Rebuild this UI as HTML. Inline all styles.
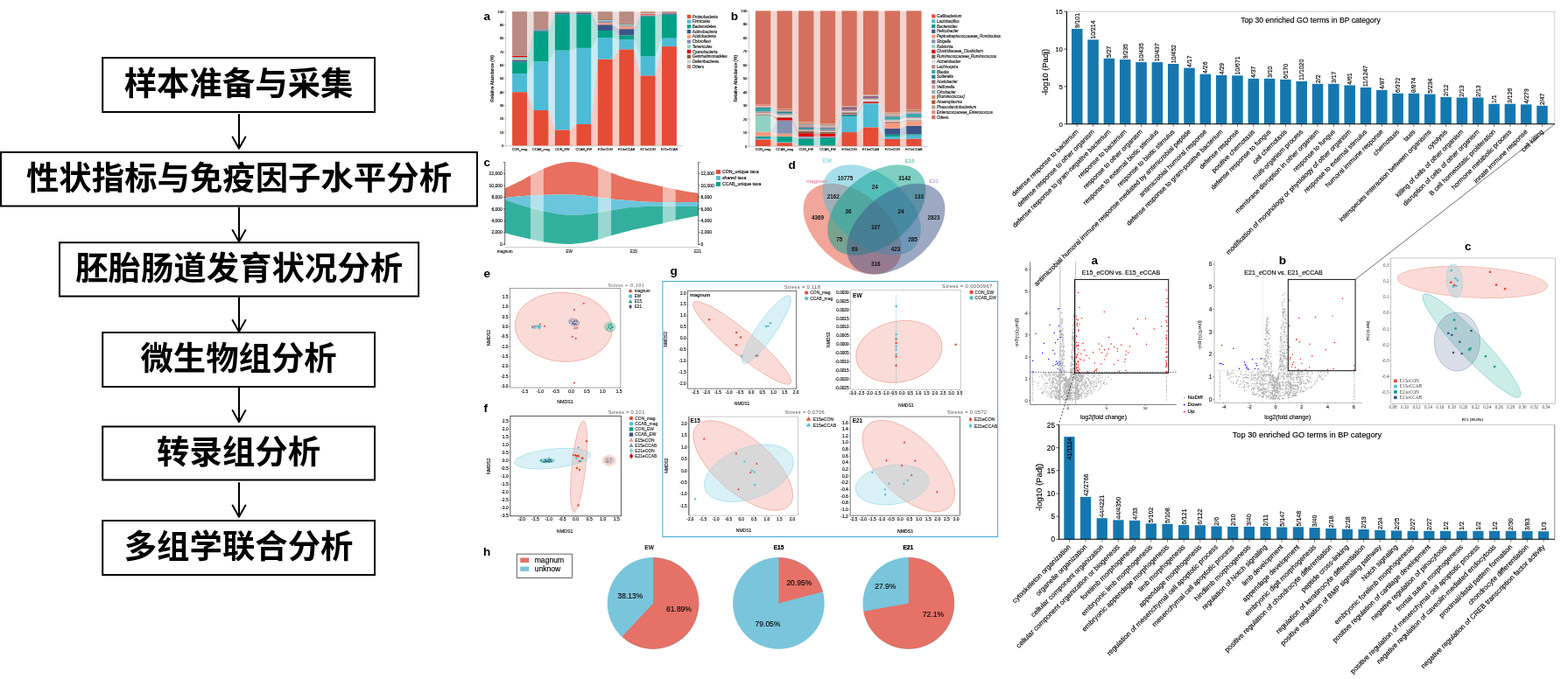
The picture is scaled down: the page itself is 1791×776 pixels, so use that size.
<!DOCTYPE html>
<html lang="zh"><head><meta charset="utf-8"><title>Figure</title>
<style>
html,body{margin:0;padding:0;background:#fff;}
body{width:1791px;height:776px;overflow:hidden;font-family:"Liberation Sans","Noto Sans CJK SC",sans-serif;}
svg{display:block;position:absolute;left:0;top:0;font-family:"Liberation Sans","Noto Sans CJK SC",sans-serif;}
</style></head><body>
<svg width="1791" height="776" viewBox="0 0 1791 776">
<g id="flow" font-family="'Liberation Sans','Noto Sans CJK SC',sans-serif" font-weight="bold" font-size="37.4" text-anchor="middle">
<rect x="117.2" y="66.0" width="310.8" height="62.0" fill="#fff" stroke="#000" stroke-width="2"/>
<text x="272.6" y="108.9">样本准备与采集</text>
<path d="M273 131.0V169.7M265.6 156.6L273 169.7L280.4 156.6" fill="none" stroke="#000" stroke-width="2" stroke-linecap="round" stroke-linejoin="round"/>
<rect x="1.0" y="174.0" width="544.0" height="61.5" fill="#fff" stroke="#000" stroke-width="2"/>
<text x="273.0" y="216.7">性状指标与免疫因子水平分析</text>
<path d="M273 237.4V276.1M265.6 263.0L273 276.1L280.4 263.0" fill="none" stroke="#000" stroke-width="2" stroke-linecap="round" stroke-linejoin="round"/>
<rect x="68.0" y="277.2" width="410.1" height="61.4" fill="#fff" stroke="#000" stroke-width="2"/>
<text x="273.1" y="319.8">胚胎肠道发育状况分析</text>
<path d="M273 340.3V379.0M265.6 365.9L273 379.0L280.4 365.9" fill="none" stroke="#000" stroke-width="2" stroke-linecap="round" stroke-linejoin="round"/>
<rect x="117.2" y="380.0" width="310.8" height="62.0" fill="#fff" stroke="#000" stroke-width="2"/>
<text x="272.6" y="422.9">微生物组分析</text>
<path d="M273 443.5V482.2M265.6 469.1L273 482.2L280.4 469.1" fill="none" stroke="#000" stroke-width="2" stroke-linecap="round" stroke-linejoin="round"/>
<rect x="117.2" y="487.5" width="310.8" height="61.0" fill="#fff" stroke="#000" stroke-width="2"/>
<text x="272.6" y="529.9">转录组分析</text>
<path d="M273 552.0V590.7M265.6 577.6L273 590.7L280.4 577.6" fill="none" stroke="#000" stroke-width="2" stroke-linecap="round" stroke-linejoin="round"/>
<rect x="117.2" y="595.0" width="310.8" height="62.0" fill="#fff" stroke="#000" stroke-width="2"/>
<text x="272.6" y="637.9">多组学联合分析</text>
</g>
<g id="pa">
<path d="M602.0 166.5L609.5 166.5V126.0L602.0 105.2Z" fill="#E64B35" fill-opacity="0.3"/>
<path d="M602.0 105.2L609.5 126.0V70.2L602.0 84.2Z" fill="#4DBBD5" fill-opacity="0.3"/>
<path d="M602.0 84.2L609.5 70.2V35.4L602.0 70.5Z" fill="#00A087" fill-opacity="0.3"/>
<path d="M602.0 70.5L609.5 35.4V34.4L602.0 68.5Z" fill="#3C5488" fill-opacity="0.3"/>
<path d="M602.0 68.5L609.5 34.4V34.0L602.0 67.9Z" fill="#F39B7F" fill-opacity="0.3"/>
<path d="M602.0 67.9L609.5 34.0V33.1L602.0 67.6Z" fill="#8491B4" fill-opacity="0.3"/>
<path d="M602.0 67.6L609.5 33.1V33.1L602.0 65.3Z" fill="#91D1C2" fill-opacity="0.3"/>
<path d="M602.0 65.3L609.5 33.1V33.1L602.0 63.9Z" fill="#DC0000" fill-opacity="0.3"/>
<path d="M602.0 63.9L609.5 33.1V33.1L602.0 63.6Z" fill="#7E6148" fill-opacity="0.3"/>
<path d="M602.0 63.6L609.5 33.1V13.2L602.0 13.2Z" fill="#BA8B82" fill-opacity="0.3"/>
<path d="M626.4 166.5L633.9 166.5V148.4L626.4 126.0Z" fill="#E64B35" fill-opacity="0.3"/>
<path d="M626.4 126.0L633.9 148.4V57.7L626.4 70.2Z" fill="#4DBBD5" fill-opacity="0.3"/>
<path d="M626.4 70.2L633.9 57.7V16.3L626.4 35.4Z" fill="#00A087" fill-opacity="0.3"/>
<path d="M626.4 35.4L633.9 16.3V14.7L626.4 34.4Z" fill="#3C5488" fill-opacity="0.3"/>
<path d="M626.4 34.4L633.9 14.7V14.7L626.4 34.0Z" fill="#F39B7F" fill-opacity="0.3"/>
<path d="M626.4 34.0L633.9 14.7V14.7L626.4 33.1Z" fill="#8491B4" fill-opacity="0.3"/>
<path d="M626.4 33.1L633.9 14.7V13.2L626.4 13.2Z" fill="#BA8B82" fill-opacity="0.3"/>
<path d="M650.8 166.5L658.4 166.5V142.0L650.8 148.4Z" fill="#E64B35" fill-opacity="0.3"/>
<path d="M650.8 148.4L658.4 142.0V54.9L650.8 57.7Z" fill="#4DBBD5" fill-opacity="0.3"/>
<path d="M650.8 57.7L658.4 54.9V16.3L650.8 16.3Z" fill="#00A087" fill-opacity="0.3"/>
<path d="M650.8 16.3L658.4 16.3V14.7L650.8 14.7Z" fill="#3C5488" fill-opacity="0.3"/>
<path d="M650.8 14.7L658.4 14.7V13.2L650.8 13.2Z" fill="#BA8B82" fill-opacity="0.3"/>
<path d="M675.3 166.5L682.8 166.5V67.6L675.3 142.0Z" fill="#E64B35" fill-opacity="0.3"/>
<path d="M675.3 142.0L682.8 67.6V43.1L675.3 54.9Z" fill="#4DBBD5" fill-opacity="0.3"/>
<path d="M675.3 54.9L682.8 43.1V35.0L675.3 16.3Z" fill="#00A087" fill-opacity="0.3"/>
<path d="M675.3 16.3L682.8 35.0V28.2L675.3 14.7Z" fill="#3C5488" fill-opacity="0.3"/>
<path d="M675.3 14.7L682.8 28.2V26.1L675.3 14.7Z" fill="#F39B7F" fill-opacity="0.3"/>
<path d="M675.3 14.7L682.8 26.1V24.1L675.3 14.7Z" fill="#8491B4" fill-opacity="0.3"/>
<path d="M675.3 14.7L682.8 24.1V23.0L675.3 14.7Z" fill="#91D1C2" fill-opacity="0.3"/>
<path d="M675.3 14.7L682.8 23.0V22.9L675.3 14.7Z" fill="#DC0000" fill-opacity="0.3"/>
<path d="M675.3 14.7L682.8 22.9V22.1L675.3 14.7Z" fill="#7E6148" fill-opacity="0.3"/>
<path d="M675.3 14.7L682.8 22.1V13.2L675.3 13.2Z" fill="#BA8B82" fill-opacity="0.3"/>
<path d="M699.7 166.5L707.2 166.5V56.3L699.7 67.6Z" fill="#E64B35" fill-opacity="0.3"/>
<path d="M699.7 67.6L707.2 56.3V45.2L699.7 43.1Z" fill="#4DBBD5" fill-opacity="0.3"/>
<path d="M699.7 43.1L707.2 45.2V40.5L699.7 35.0Z" fill="#00A087" fill-opacity="0.3"/>
<path d="M699.7 35.0L707.2 40.5V33.1L699.7 28.2Z" fill="#3C5488" fill-opacity="0.3"/>
<path d="M699.7 28.2L707.2 33.1V29.9L699.7 26.1Z" fill="#F39B7F" fill-opacity="0.3"/>
<path d="M699.7 26.1L707.2 29.9V28.8L699.7 24.1Z" fill="#8491B4" fill-opacity="0.3"/>
<path d="M699.7 24.1L707.2 28.8V27.9L699.7 23.0Z" fill="#91D1C2" fill-opacity="0.3"/>
<path d="M699.7 23.0L707.2 27.9V27.8L699.7 22.9Z" fill="#DC0000" fill-opacity="0.3"/>
<path d="M699.7 22.9L707.2 27.8V26.8L699.7 22.1Z" fill="#7E6148" fill-opacity="0.3"/>
<path d="M699.7 22.1L707.2 26.8V13.2L699.7 13.2Z" fill="#BA8B82" fill-opacity="0.3"/>
<path d="M724.1 166.5L731.6 166.5V86.3L724.1 56.3Z" fill="#E64B35" fill-opacity="0.3"/>
<path d="M724.1 56.3L731.6 86.3V64.4L724.1 45.2Z" fill="#4DBBD5" fill-opacity="0.3"/>
<path d="M724.1 45.2L731.6 64.4V18.6L724.1 40.5Z" fill="#00A087" fill-opacity="0.3"/>
<path d="M724.1 40.5L731.6 18.6V17.5L724.1 33.1Z" fill="#3C5488" fill-opacity="0.3"/>
<path d="M724.1 33.1L731.6 17.5V16.6L724.1 29.9Z" fill="#F39B7F" fill-opacity="0.3"/>
<path d="M724.1 29.9L731.6 16.6V16.6L724.1 28.8Z" fill="#8491B4" fill-opacity="0.3"/>
<path d="M724.1 28.8L731.6 16.6V16.6L724.1 27.9Z" fill="#91D1C2" fill-opacity="0.3"/>
<path d="M724.1 27.9L731.6 16.6V16.0L724.1 27.8Z" fill="#DC0000" fill-opacity="0.3"/>
<path d="M724.1 27.8L731.6 16.0V16.0L724.1 26.8Z" fill="#7E6148" fill-opacity="0.3"/>
<path d="M724.1 26.8L731.6 16.0V15.2L724.1 26.8Z" fill="#CCCCCC" fill-opacity="0.3"/>
<path d="M724.1 26.8L731.6 15.2V13.2L724.1 13.2Z" fill="#BA8B82" fill-opacity="0.3"/>
<path d="M748.5 166.5L756.0 166.5V53.1L748.5 86.3Z" fill="#E64B35" fill-opacity="0.3"/>
<path d="M748.5 86.3L756.0 53.1V43.7L748.5 64.4Z" fill="#4DBBD5" fill-opacity="0.3"/>
<path d="M748.5 64.4L756.0 43.7V16.7L748.5 18.6Z" fill="#00A087" fill-opacity="0.3"/>
<path d="M748.5 18.6L756.0 16.7V15.3L748.5 17.5Z" fill="#3C5488" fill-opacity="0.3"/>
<path d="M748.5 17.5L756.0 15.3V15.3L748.5 16.6Z" fill="#F39B7F" fill-opacity="0.3"/>
<path d="M748.5 16.6L756.0 15.3V15.3L748.5 16.0Z" fill="#DC0000" fill-opacity="0.3"/>
<path d="M748.5 16.0L756.0 15.3V15.3L748.5 15.2Z" fill="#CCCCCC" fill-opacity="0.3"/>
<path d="M748.5 15.2L756.0 15.3V13.2L748.5 13.2Z" fill="#BA8B82" fill-opacity="0.3"/>
<rect x="585.1" y="105.18" width="16.9" height="61.32" fill="#E64B35"/>
<rect x="585.1" y="84.18" width="16.9" height="21.00" fill="#4DBBD5"/>
<rect x="585.1" y="70.53" width="16.9" height="13.64" fill="#00A087"/>
<rect x="585.1" y="68.54" width="16.9" height="1.99" fill="#3C5488"/>
<rect x="585.1" y="67.93" width="16.9" height="0.61" fill="#F39B7F"/>
<rect x="585.1" y="67.62" width="16.9" height="0.31" fill="#8491B4"/>
<rect x="585.1" y="65.32" width="16.9" height="2.30" fill="#91D1C2"/>
<rect x="585.1" y="63.94" width="16.9" height="1.38" fill="#DC0000"/>
<rect x="585.1" y="63.64" width="16.9" height="0.31" fill="#7E6148"/>
<rect x="585.1" y="13.20" width="16.9" height="50.44" fill="#BA8B82"/>
<rect x="609.5" y="126.03" width="16.9" height="40.47" fill="#E64B35"/>
<rect x="609.5" y="70.23" width="16.9" height="55.80" fill="#4DBBD5"/>
<rect x="609.5" y="35.43" width="16.9" height="34.80" fill="#00A087"/>
<rect x="609.5" y="34.36" width="16.9" height="1.07" fill="#3C5488"/>
<rect x="609.5" y="34.05" width="16.9" height="0.31" fill="#F39B7F"/>
<rect x="609.5" y="33.13" width="16.9" height="0.92" fill="#8491B4"/>
<rect x="609.5" y="13.20" width="16.9" height="19.93" fill="#BA8B82"/>
<rect x="633.9" y="148.41" width="16.9" height="18.09" fill="#E64B35"/>
<rect x="633.9" y="57.66" width="16.9" height="90.75" fill="#4DBBD5"/>
<rect x="633.9" y="16.27" width="16.9" height="41.39" fill="#00A087"/>
<rect x="633.9" y="14.73" width="16.9" height="1.53" fill="#3C5488"/>
<rect x="633.9" y="13.20" width="16.9" height="1.53" fill="#BA8B82"/>
<rect x="658.4" y="141.97" width="16.9" height="24.53" fill="#E64B35"/>
<rect x="658.4" y="54.90" width="16.9" height="87.07" fill="#4DBBD5"/>
<rect x="658.4" y="16.27" width="16.9" height="38.63" fill="#00A087"/>
<rect x="658.4" y="14.73" width="16.9" height="1.53" fill="#3C5488"/>
<rect x="658.4" y="13.20" width="16.9" height="1.53" fill="#BA8B82"/>
<rect x="682.8" y="67.62" width="16.9" height="98.88" fill="#E64B35"/>
<rect x="682.8" y="43.09" width="16.9" height="24.53" fill="#4DBBD5"/>
<rect x="682.8" y="34.97" width="16.9" height="8.12" fill="#00A087"/>
<rect x="682.8" y="28.22" width="16.9" height="6.75" fill="#3C5488"/>
<rect x="682.8" y="26.08" width="16.9" height="2.15" fill="#F39B7F"/>
<rect x="682.8" y="24.08" width="16.9" height="1.99" fill="#8491B4"/>
<rect x="682.8" y="23.01" width="16.9" height="1.07" fill="#91D1C2"/>
<rect x="682.8" y="22.86" width="16.9" height="0.15" fill="#DC0000"/>
<rect x="682.8" y="22.09" width="16.9" height="0.77" fill="#7E6148"/>
<rect x="682.8" y="13.20" width="16.9" height="8.89" fill="#BA8B82"/>
<rect x="707.2" y="56.28" width="16.9" height="110.22" fill="#E64B35"/>
<rect x="707.2" y="45.24" width="16.9" height="11.04" fill="#4DBBD5"/>
<rect x="707.2" y="40.49" width="16.9" height="4.75" fill="#00A087"/>
<rect x="707.2" y="33.13" width="16.9" height="7.36" fill="#3C5488"/>
<rect x="707.2" y="29.91" width="16.9" height="3.22" fill="#F39B7F"/>
<rect x="707.2" y="28.84" width="16.9" height="1.07" fill="#8491B4"/>
<rect x="707.2" y="27.92" width="16.9" height="0.92" fill="#91D1C2"/>
<rect x="707.2" y="27.76" width="16.9" height="0.15" fill="#DC0000"/>
<rect x="707.2" y="26.84" width="16.9" height="0.92" fill="#7E6148"/>
<rect x="707.2" y="13.20" width="16.9" height="13.64" fill="#BA8B82"/>
<rect x="731.6" y="86.32" width="16.9" height="80.18" fill="#E64B35"/>
<rect x="731.6" y="64.40" width="16.9" height="21.92" fill="#4DBBD5"/>
<rect x="731.6" y="18.57" width="16.9" height="45.84" fill="#00A087"/>
<rect x="731.6" y="17.49" width="16.9" height="1.07" fill="#3C5488"/>
<rect x="731.6" y="16.57" width="16.9" height="0.92" fill="#F39B7F"/>
<rect x="731.6" y="15.96" width="16.9" height="0.61" fill="#DC0000"/>
<rect x="731.6" y="15.19" width="16.9" height="0.77" fill="#CCCCCC"/>
<rect x="731.6" y="13.20" width="16.9" height="1.99" fill="#BA8B82"/>
<rect x="756.0" y="53.06" width="16.9" height="113.44" fill="#E64B35"/>
<rect x="756.0" y="43.71" width="16.9" height="9.35" fill="#4DBBD5"/>
<rect x="756.0" y="16.73" width="16.9" height="26.98" fill="#00A087"/>
<rect x="756.0" y="15.35" width="16.9" height="1.38" fill="#3C5488"/>
<rect x="756.0" y="13.20" width="16.9" height="2.15" fill="#BA8B82"/>
<path d="M577.6 13.2V166.8H780.5" fill="none" stroke="#999" stroke-width="0.5"/>
<path d="M576.4 166.50H577.6" stroke="#666" stroke-width="0.4"/>
<text x="575.4" y="168.0" font-size="4.2" text-anchor="end" stroke="#000" stroke-width="0.14">0</text>
<path d="M576.4 151.17H577.6" stroke="#666" stroke-width="0.4"/>
<text x="575.4" y="152.7" font-size="4.2" text-anchor="end" stroke="#000" stroke-width="0.14">10</text>
<path d="M576.4 135.84H577.6" stroke="#666" stroke-width="0.4"/>
<text x="575.4" y="137.3" font-size="4.2" text-anchor="end" stroke="#000" stroke-width="0.14">20</text>
<path d="M576.4 120.51H577.6" stroke="#666" stroke-width="0.4"/>
<text x="575.4" y="122.0" font-size="4.2" text-anchor="end" stroke="#000" stroke-width="0.14">30</text>
<path d="M576.4 105.18H577.6" stroke="#666" stroke-width="0.4"/>
<text x="575.4" y="106.7" font-size="4.2" text-anchor="end" stroke="#000" stroke-width="0.14">40</text>
<path d="M576.4 89.85H577.6" stroke="#666" stroke-width="0.4"/>
<text x="575.4" y="91.3" font-size="4.2" text-anchor="end" stroke="#000" stroke-width="0.14">50</text>
<path d="M576.4 74.52H577.6" stroke="#666" stroke-width="0.4"/>
<text x="575.4" y="76.0" font-size="4.2" text-anchor="end" stroke="#000" stroke-width="0.14">60</text>
<path d="M576.4 59.19H577.6" stroke="#666" stroke-width="0.4"/>
<text x="575.4" y="60.7" font-size="4.2" text-anchor="end" stroke="#000" stroke-width="0.14">70</text>
<path d="M576.4 43.86H577.6" stroke="#666" stroke-width="0.4"/>
<text x="575.4" y="45.4" font-size="4.2" text-anchor="end" stroke="#000" stroke-width="0.14">80</text>
<path d="M576.4 28.53H577.6" stroke="#666" stroke-width="0.4"/>
<text x="575.4" y="30.0" font-size="4.2" text-anchor="end" stroke="#000" stroke-width="0.14">90</text>
<path d="M576.4 13.20H577.6" stroke="#666" stroke-width="0.4"/>
<text x="575.4" y="14.7" font-size="4.2" text-anchor="end" stroke="#000" stroke-width="0.14">100</text>
<text x="593.6" y="171.7" font-size="3.75" text-anchor="middle" stroke="#000" stroke-width="0.14">CON_mag</text>
<text x="618.0" y="171.7" font-size="3.75" text-anchor="middle" stroke="#000" stroke-width="0.14">CCAB_mag</text>
<text x="642.4" y="171.7" font-size="3.75" text-anchor="middle" stroke="#000" stroke-width="0.14">CON_EW</text>
<text x="666.8" y="171.7" font-size="3.75" text-anchor="middle" stroke="#000" stroke-width="0.14">CCAB_EW</text>
<text x="691.2" y="171.7" font-size="3.75" text-anchor="middle" stroke="#000" stroke-width="0.14">E15eCON</text>
<text x="715.7" y="171.7" font-size="3.75" text-anchor="middle" stroke="#000" stroke-width="0.14">E15eCCAB</text>
<text x="740.1" y="171.7" font-size="3.75" text-anchor="middle" stroke="#000" stroke-width="0.14">E21eCON</text>
<text x="764.5" y="171.7" font-size="3.75" text-anchor="middle" stroke="#000" stroke-width="0.14">E21eCCAB</text>
<text x="564.0" y="89.8" font-size="5.0" text-anchor="middle" transform="rotate(-90 564.0 89.8)" stroke="#000" stroke-width="0.14">Relative Abundance (%)</text>
<rect x="784.8" y="16.80" width="4.3" height="4.3" fill="#E64B35"/>
<text x="790.7" y="20.5" font-size="4.47" fill="#111" font-style="italic" stroke="#111" stroke-width="0.14">Proteobacteria</text>
<rect x="784.8" y="22.52" width="4.3" height="4.3" fill="#4DBBD5"/>
<text x="790.7" y="26.2" font-size="4.47" fill="#111" font-style="italic" stroke="#111" stroke-width="0.14">Firmicutes</text>
<rect x="784.8" y="28.24" width="4.3" height="4.3" fill="#00A087"/>
<text x="790.7" y="31.9" font-size="4.47" fill="#111" font-style="italic" stroke="#111" stroke-width="0.14">Bacteroidetes</text>
<rect x="784.8" y="33.96" width="4.3" height="4.3" fill="#3C5488"/>
<text x="790.7" y="37.7" font-size="4.47" fill="#111" font-style="italic" stroke="#111" stroke-width="0.14">Actinobacteria</text>
<rect x="784.8" y="39.68" width="4.3" height="4.3" fill="#F39B7F"/>
<text x="790.7" y="43.4" font-size="4.47" fill="#111" font-style="italic" stroke="#111" stroke-width="0.14">Acidobacteria</text>
<rect x="784.8" y="45.40" width="4.3" height="4.3" fill="#8491B4"/>
<text x="790.7" y="49.1" font-size="4.47" fill="#111" font-style="italic" stroke="#111" stroke-width="0.14">Chloroflexi</text>
<rect x="784.8" y="51.12" width="4.3" height="4.3" fill="#91D1C2"/>
<text x="790.7" y="54.8" font-size="4.47" fill="#111" font-style="italic" stroke="#111" stroke-width="0.14">Tenericutes</text>
<rect x="784.8" y="56.84" width="4.3" height="4.3" fill="#DC0000"/>
<text x="790.7" y="60.5" font-size="4.47" fill="#111" font-style="italic" stroke="#111" stroke-width="0.14">Cyanobacteria</text>
<rect x="784.8" y="62.56" width="4.3" height="4.3" fill="#7E6148"/>
<text x="790.7" y="66.3" font-size="4.47" fill="#111" font-style="italic" stroke="#111" stroke-width="0.14">Gemmatimonadetes</text>
<rect x="784.8" y="68.28" width="4.3" height="4.3" fill="#CCCCCC"/>
<text x="790.7" y="72.0" font-size="4.47" fill="#111" font-style="italic" stroke="#111" stroke-width="0.14">Deferribacteres</text>
<rect x="784.8" y="74.00" width="4.3" height="4.3" fill="#BA8B82"/>
<text x="790.7" y="77.7" font-size="4.47" fill="#111" stroke="#111" stroke-width="0.14">Others</text>
<text x="552.6" y="22.8" font-size="13.6" font-weight="bold">a</text>
</g>
<g id="pb">
<path d="M880.3 167.0L887.5 167.0V163.1L880.3 159.3Z" fill="#E64B35" fill-opacity="0.3"/>
<path d="M880.3 159.3L887.5 163.1V162.4L880.3 158.0Z" fill="#4DBBD5" fill-opacity="0.3"/>
<path d="M880.3 158.0L887.5 162.4V156.2L880.3 156.2Z" fill="#00A087" fill-opacity="0.3"/>
<path d="M880.3 156.2L887.5 156.2V155.9L880.3 155.7Z" fill="#3C5488" fill-opacity="0.3"/>
<path d="M880.3 155.7L887.5 155.9V152.8L880.3 150.8Z" fill="#F39B7F" fill-opacity="0.3"/>
<path d="M880.3 150.8L887.5 152.8V137.9L880.3 150.6Z" fill="#8491B4" fill-opacity="0.3"/>
<path d="M880.3 150.6L887.5 137.9V137.6L880.3 131.8Z" fill="#91D1C2" fill-opacity="0.3"/>
<path d="M880.3 131.8L887.5 137.6V134.5L880.3 131.4Z" fill="#DC0000" fill-opacity="0.3"/>
<path d="M880.3 131.4L887.5 134.5V133.6L880.3 130.5Z" fill="#7E6148" fill-opacity="0.3"/>
<path d="M880.3 130.5L887.5 133.6V131.4L880.3 129.4Z" fill="#D9D9D9" fill-opacity="0.3"/>
<path d="M880.3 129.4L887.5 131.4V130.2L880.3 127.4Z" fill="#B98C86" fill-opacity="0.3"/>
<path d="M880.3 127.4L887.5 130.2V129.6L880.3 124.0Z" fill="#33A6A6" fill-opacity="0.3"/>
<path d="M880.3 124.0L887.5 129.6V127.6L880.3 123.1Z" fill="#2E7D8C" fill-opacity="0.3"/>
<path d="M880.3 123.1L887.5 127.6V127.1L880.3 122.8Z" fill="#94607C" fill-opacity="0.3"/>
<path d="M880.3 122.8L887.5 127.1V126.8L880.3 122.5Z" fill="#C29AA0" fill-opacity="0.3"/>
<path d="M880.3 122.5L887.5 126.8V126.5L880.3 122.2Z" fill="#8AAFC0" fill-opacity="0.3"/>
<path d="M880.3 122.2L887.5 126.5V126.0L880.3 121.9Z" fill="#D98C66" fill-opacity="0.3"/>
<path d="M880.3 121.9L887.5 126.0V125.3L880.3 121.7Z" fill="#A8532F" fill-opacity="0.3"/>
<path d="M880.3 121.7L887.5 125.3V124.9L880.3 121.5Z" fill="#B0A090" fill-opacity="0.3"/>
<path d="M880.3 121.5L887.5 124.9V124.6L880.3 119.1Z" fill="#E8907E" fill-opacity="0.3"/>
<path d="M880.3 119.1L887.5 124.6V12.4L880.3 12.4Z" fill="#D4705D" fill-opacity="0.3"/>
<path d="M904.9 167.0L912.1 167.0V166.5L904.9 163.1Z" fill="#E64B35" fill-opacity="0.3"/>
<path d="M904.9 163.1L912.1 166.5V166.1L904.9 162.4Z" fill="#4DBBD5" fill-opacity="0.3"/>
<path d="M904.9 162.4L912.1 166.1V158.5L904.9 156.2Z" fill="#00A087" fill-opacity="0.3"/>
<path d="M904.9 156.2L912.1 158.5V158.0L904.9 155.9Z" fill="#3C5488" fill-opacity="0.3"/>
<path d="M904.9 155.9L912.1 158.0V157.7L904.9 152.8Z" fill="#F39B7F" fill-opacity="0.3"/>
<path d="M904.9 152.8L912.1 157.7V156.2L904.9 137.9Z" fill="#8491B4" fill-opacity="0.3"/>
<path d="M904.9 137.9L912.1 156.2V156.0L904.9 137.6Z" fill="#91D1C2" fill-opacity="0.3"/>
<path d="M904.9 137.6L912.1 156.0V152.2L904.9 134.5Z" fill="#DC0000" fill-opacity="0.3"/>
<path d="M904.9 134.5L912.1 152.2V150.0L904.9 133.6Z" fill="#7E6148" fill-opacity="0.3"/>
<path d="M904.9 133.6L912.1 150.0V149.4L904.9 131.4Z" fill="#D9D9D9" fill-opacity="0.3"/>
<path d="M904.9 131.4L912.1 149.4V148.0L904.9 130.2Z" fill="#B98C86" fill-opacity="0.3"/>
<path d="M904.9 130.2L912.1 148.0V147.2L904.9 129.6Z" fill="#33A6A6" fill-opacity="0.3"/>
<path d="M904.9 129.6L912.1 147.2V145.7L904.9 127.6Z" fill="#2E7D8C" fill-opacity="0.3"/>
<path d="M904.9 127.6L912.1 145.7V145.0L904.9 127.1Z" fill="#94607C" fill-opacity="0.3"/>
<path d="M904.9 127.1L912.1 145.0V143.0L904.9 126.8Z" fill="#C29AA0" fill-opacity="0.3"/>
<path d="M904.9 126.8L912.1 143.0V142.0L904.9 126.5Z" fill="#8AAFC0" fill-opacity="0.3"/>
<path d="M904.9 126.5L912.1 142.0V140.3L904.9 126.0Z" fill="#D98C66" fill-opacity="0.3"/>
<path d="M904.9 126.0L912.1 140.3V139.9L904.9 125.3Z" fill="#A8532F" fill-opacity="0.3"/>
<path d="M904.9 125.3L912.1 139.9V139.6L904.9 124.9Z" fill="#B0A090" fill-opacity="0.3"/>
<path d="M904.9 124.9L912.1 139.6V139.5L904.9 124.6Z" fill="#E8907E" fill-opacity="0.3"/>
<path d="M904.9 124.6L912.1 139.5V12.4L904.9 12.4Z" fill="#D4705D" fill-opacity="0.3"/>
<path d="M929.5 167.0L936.8 167.0V166.5L929.5 166.5Z" fill="#E64B35" fill-opacity="0.3"/>
<path d="M929.5 166.5L936.8 166.5V166.1L929.5 166.1Z" fill="#4DBBD5" fill-opacity="0.3"/>
<path d="M929.5 166.1L936.8 166.1V157.7L929.5 158.5Z" fill="#00A087" fill-opacity="0.3"/>
<path d="M929.5 158.5L936.8 157.7V156.5L929.5 158.0Z" fill="#3C5488" fill-opacity="0.3"/>
<path d="M929.5 158.0L936.8 156.5V156.2L929.5 157.7Z" fill="#F39B7F" fill-opacity="0.3"/>
<path d="M929.5 157.7L936.8 156.2V156.0L929.5 156.2Z" fill="#8491B4" fill-opacity="0.3"/>
<path d="M929.5 156.2L936.8 156.0V155.9L929.5 156.0Z" fill="#91D1C2" fill-opacity="0.3"/>
<path d="M929.5 156.0L936.8 155.9V152.8L929.5 152.2Z" fill="#DC0000" fill-opacity="0.3"/>
<path d="M929.5 152.2L936.8 152.8V150.6L929.5 150.0Z" fill="#7E6148" fill-opacity="0.3"/>
<path d="M929.5 150.0L936.8 150.6V150.0L929.5 149.4Z" fill="#D9D9D9" fill-opacity="0.3"/>
<path d="M929.5 149.4L936.8 150.0V148.4L929.5 148.0Z" fill="#B98C86" fill-opacity="0.3"/>
<path d="M929.5 148.0L936.8 148.4V147.8L929.5 147.2Z" fill="#33A6A6" fill-opacity="0.3"/>
<path d="M929.5 147.2L936.8 147.8V146.6L929.5 145.7Z" fill="#2E7D8C" fill-opacity="0.3"/>
<path d="M929.5 145.7L936.8 146.6V146.0L929.5 145.0Z" fill="#94607C" fill-opacity="0.3"/>
<path d="M929.5 145.0L936.8 146.0V144.6L929.5 143.0Z" fill="#C29AA0" fill-opacity="0.3"/>
<path d="M929.5 143.0L936.8 144.6V143.2L929.5 142.0Z" fill="#8AAFC0" fill-opacity="0.3"/>
<path d="M929.5 142.0L936.8 143.2V142.0L929.5 140.3Z" fill="#D98C66" fill-opacity="0.3"/>
<path d="M929.5 140.3L936.8 142.0V141.6L929.5 139.9Z" fill="#A8532F" fill-opacity="0.3"/>
<path d="M929.5 139.9L936.8 141.6V141.5L929.5 139.6Z" fill="#B0A090" fill-opacity="0.3"/>
<path d="M929.5 139.6L936.8 141.5V141.3L929.5 139.5Z" fill="#E8907E" fill-opacity="0.3"/>
<path d="M929.5 139.5L936.8 141.3V12.4L929.5 12.4Z" fill="#D4705D" fill-opacity="0.3"/>
<path d="M954.2 167.0L961.4 167.0V151.1L954.2 166.5Z" fill="#E64B35" fill-opacity="0.3"/>
<path d="M954.2 166.5L961.4 151.1V133.3L954.2 166.1Z" fill="#4DBBD5" fill-opacity="0.3"/>
<path d="M954.2 166.1L961.4 133.3V131.8L954.2 157.7Z" fill="#00A087" fill-opacity="0.3"/>
<path d="M954.2 157.7L961.4 131.8V131.0L954.2 156.5Z" fill="#3C5488" fill-opacity="0.3"/>
<path d="M954.2 156.5L961.4 131.0V130.7L954.2 156.2Z" fill="#F39B7F" fill-opacity="0.3"/>
<path d="M954.2 156.2L961.4 130.7V130.5L954.2 156.0Z" fill="#8491B4" fill-opacity="0.3"/>
<path d="M954.2 156.0L961.4 130.5V130.4L954.2 155.9Z" fill="#91D1C2" fill-opacity="0.3"/>
<path d="M954.2 155.9L961.4 130.4V130.1L954.2 152.8Z" fill="#DC0000" fill-opacity="0.3"/>
<path d="M954.2 152.8L961.4 130.1V128.3L954.2 150.6Z" fill="#7E6148" fill-opacity="0.3"/>
<path d="M954.2 150.6L961.4 128.3V127.1L954.2 150.0Z" fill="#D9D9D9" fill-opacity="0.3"/>
<path d="M954.2 150.0L961.4 127.1V125.9L954.2 148.4Z" fill="#B98C86" fill-opacity="0.3"/>
<path d="M954.2 148.4L961.4 125.9V125.7L954.2 147.8Z" fill="#33A6A6" fill-opacity="0.3"/>
<path d="M954.2 147.8L961.4 125.7V125.6L954.2 146.6Z" fill="#2E7D8C" fill-opacity="0.3"/>
<path d="M954.2 146.6L961.4 125.6V122.2L954.2 146.0Z" fill="#94607C" fill-opacity="0.3"/>
<path d="M954.2 146.0L961.4 122.2V122.0L954.2 144.6Z" fill="#C29AA0" fill-opacity="0.3"/>
<path d="M954.2 144.6L961.4 122.0V121.9L954.2 143.2Z" fill="#8AAFC0" fill-opacity="0.3"/>
<path d="M954.2 143.2L961.4 121.9V121.7L954.2 142.0Z" fill="#D98C66" fill-opacity="0.3"/>
<path d="M954.2 142.0L961.4 121.7V121.5L954.2 141.6Z" fill="#A8532F" fill-opacity="0.3"/>
<path d="M954.2 141.6L961.4 121.5V121.4L954.2 141.5Z" fill="#B0A090" fill-opacity="0.3"/>
<path d="M954.2 141.5L961.4 121.4V121.2L954.2 141.3Z" fill="#E8907E" fill-opacity="0.3"/>
<path d="M954.2 141.3L961.4 121.2V12.4L954.2 12.4Z" fill="#D4705D" fill-opacity="0.3"/>
<path d="M978.8 167.0L986.0 167.0V145.4L978.8 151.1Z" fill="#E64B35" fill-opacity="0.3"/>
<path d="M978.8 151.1L986.0 145.4V118.8L978.8 133.3Z" fill="#4DBBD5" fill-opacity="0.3"/>
<path d="M978.8 133.3L986.0 118.8V118.5L978.8 131.8Z" fill="#00A087" fill-opacity="0.3"/>
<path d="M978.8 131.8L986.0 118.5V118.3L978.8 131.0Z" fill="#3C5488" fill-opacity="0.3"/>
<path d="M978.8 131.0L986.0 118.3V118.1L978.8 130.7Z" fill="#F39B7F" fill-opacity="0.3"/>
<path d="M978.8 130.7L986.0 118.1V118.0L978.8 130.5Z" fill="#8491B4" fill-opacity="0.3"/>
<path d="M978.8 130.5L986.0 118.0V117.8L978.8 130.4Z" fill="#91D1C2" fill-opacity="0.3"/>
<path d="M978.8 130.4L986.0 117.8V116.3L978.8 130.1Z" fill="#DC0000" fill-opacity="0.3"/>
<path d="M978.8 130.1L986.0 116.3V115.7L978.8 128.3Z" fill="#7E6148" fill-opacity="0.3"/>
<path d="M978.8 128.3L986.0 115.7V113.7L978.8 127.1Z" fill="#D9D9D9" fill-opacity="0.3"/>
<path d="M978.8 127.1L986.0 113.7V112.9L978.8 125.9Z" fill="#B98C86" fill-opacity="0.3"/>
<path d="M978.8 125.9L986.0 112.9V112.7L978.8 125.7Z" fill="#33A6A6" fill-opacity="0.3"/>
<path d="M978.8 125.7L986.0 112.7V112.6L978.8 125.6Z" fill="#2E7D8C" fill-opacity="0.3"/>
<path d="M978.8 125.6L986.0 112.6V109.8L978.8 122.2Z" fill="#94607C" fill-opacity="0.3"/>
<path d="M978.8 122.2L986.0 109.8V109.5L978.8 122.0Z" fill="#C29AA0" fill-opacity="0.3"/>
<path d="M978.8 122.0L986.0 109.5V108.9L978.8 121.9Z" fill="#8AAFC0" fill-opacity="0.3"/>
<path d="M978.8 121.9L986.0 108.9V108.7L978.8 121.7Z" fill="#D98C66" fill-opacity="0.3"/>
<path d="M978.8 121.7L986.0 108.7V108.6L978.8 121.5Z" fill="#A8532F" fill-opacity="0.3"/>
<path d="M978.8 121.5L986.0 108.6V108.4L978.8 121.4Z" fill="#B0A090" fill-opacity="0.3"/>
<path d="M978.8 121.4L986.0 108.4V108.3L978.8 121.2Z" fill="#E8907E" fill-opacity="0.3"/>
<path d="M978.8 121.2L986.0 108.3V12.4L978.8 12.4Z" fill="#D4705D" fill-opacity="0.3"/>
<path d="M1003.4 167.0L1010.6 167.0V159.0L1003.4 145.4Z" fill="#E64B35" fill-opacity="0.3"/>
<path d="M1003.4 145.4L1010.6 159.0V156.2L1003.4 118.8Z" fill="#4DBBD5" fill-opacity="0.3"/>
<path d="M1003.4 118.8L1010.6 156.2V153.9L1003.4 118.5Z" fill="#00A087" fill-opacity="0.3"/>
<path d="M1003.4 118.5L1010.6 153.9V146.9L1003.4 118.3Z" fill="#3C5488" fill-opacity="0.3"/>
<path d="M1003.4 118.3L1010.6 146.9V140.7L1003.4 118.1Z" fill="#F39B7F" fill-opacity="0.3"/>
<path d="M1003.4 118.1L1010.6 140.7V140.6L1003.4 118.0Z" fill="#8491B4" fill-opacity="0.3"/>
<path d="M1003.4 118.0L1010.6 140.6V140.4L1003.4 117.8Z" fill="#91D1C2" fill-opacity="0.3"/>
<path d="M1003.4 117.8L1010.6 140.4V139.8L1003.4 116.3Z" fill="#DC0000" fill-opacity="0.3"/>
<path d="M1003.4 116.3L1010.6 139.8V139.2L1003.4 115.7Z" fill="#7E6148" fill-opacity="0.3"/>
<path d="M1003.4 115.7L1010.6 139.2V137.6L1003.4 113.7Z" fill="#D9D9D9" fill-opacity="0.3"/>
<path d="M1003.4 113.7L1010.6 137.6V136.7L1003.4 112.9Z" fill="#B98C86" fill-opacity="0.3"/>
<path d="M1003.4 112.9L1010.6 136.7V133.8L1003.4 112.7Z" fill="#33A6A6" fill-opacity="0.3"/>
<path d="M1003.4 112.7L1010.6 133.8V133.3L1003.4 112.6Z" fill="#2E7D8C" fill-opacity="0.3"/>
<path d="M1003.4 112.6L1010.6 133.3V133.0L1003.4 109.8Z" fill="#94607C" fill-opacity="0.3"/>
<path d="M1003.4 109.8L1010.6 133.0V131.4L1003.4 109.5Z" fill="#C29AA0" fill-opacity="0.3"/>
<path d="M1003.4 109.5L1010.6 131.4V130.5L1003.4 108.9Z" fill="#8AAFC0" fill-opacity="0.3"/>
<path d="M1003.4 108.9L1010.6 130.5V129.1L1003.4 108.7Z" fill="#D98C66" fill-opacity="0.3"/>
<path d="M1003.4 108.7L1010.6 129.1V129.0L1003.4 108.6Z" fill="#A8532F" fill-opacity="0.3"/>
<path d="M1003.4 108.6L1010.6 129.0V128.7L1003.4 108.4Z" fill="#B0A090" fill-opacity="0.3"/>
<path d="M1003.4 108.4L1010.6 128.7V128.3L1003.4 108.3Z" fill="#E8907E" fill-opacity="0.3"/>
<path d="M1003.4 108.3L1010.6 128.3V12.4L1003.4 12.4Z" fill="#D4705D" fill-opacity="0.3"/>
<path d="M1028.0 167.0L1035.2 167.0V158.5L1028.0 159.0Z" fill="#E64B35" fill-opacity="0.3"/>
<path d="M1028.0 159.0L1035.2 158.5V154.6L1028.0 156.2Z" fill="#4DBBD5" fill-opacity="0.3"/>
<path d="M1028.0 156.2L1035.2 154.6V153.4L1028.0 153.9Z" fill="#00A087" fill-opacity="0.3"/>
<path d="M1028.0 153.9L1035.2 153.4V143.8L1028.0 146.9Z" fill="#3C5488" fill-opacity="0.3"/>
<path d="M1028.0 146.9L1035.2 143.8V138.4L1028.0 140.7Z" fill="#F39B7F" fill-opacity="0.3"/>
<path d="M1028.0 140.7L1035.2 138.4V138.2L1028.0 140.6Z" fill="#8491B4" fill-opacity="0.3"/>
<path d="M1028.0 140.6L1035.2 138.2V138.1L1028.0 140.4Z" fill="#91D1C2" fill-opacity="0.3"/>
<path d="M1028.0 140.4L1035.2 138.1V137.8L1028.0 139.8Z" fill="#DC0000" fill-opacity="0.3"/>
<path d="M1028.0 139.8L1035.2 137.8V137.3L1028.0 139.2Z" fill="#7E6148" fill-opacity="0.3"/>
<path d="M1028.0 139.2L1035.2 137.3V134.8L1028.0 137.6Z" fill="#D9D9D9" fill-opacity="0.3"/>
<path d="M1028.0 137.6L1035.2 134.8V133.9L1028.0 136.7Z" fill="#B98C86" fill-opacity="0.3"/>
<path d="M1028.0 136.7L1035.2 133.9V130.2L1028.0 133.8Z" fill="#33A6A6" fill-opacity="0.3"/>
<path d="M1028.0 133.8L1035.2 130.2V129.6L1028.0 133.3Z" fill="#2E7D8C" fill-opacity="0.3"/>
<path d="M1028.0 133.3L1035.2 129.6V129.3L1028.0 133.0Z" fill="#94607C" fill-opacity="0.3"/>
<path d="M1028.0 133.0L1035.2 129.3V128.3L1028.0 131.4Z" fill="#C29AA0" fill-opacity="0.3"/>
<path d="M1028.0 131.4L1035.2 128.3V127.7L1028.0 130.5Z" fill="#8AAFC0" fill-opacity="0.3"/>
<path d="M1028.0 130.5L1035.2 127.7V126.8L1028.0 129.1Z" fill="#D98C66" fill-opacity="0.3"/>
<path d="M1028.0 129.1L1035.2 126.8V125.6L1028.0 129.0Z" fill="#A8532F" fill-opacity="0.3"/>
<path d="M1028.0 129.0L1035.2 125.6V125.3L1028.0 128.7Z" fill="#B0A090" fill-opacity="0.3"/>
<path d="M1028.0 128.7L1035.2 125.3V124.9L1028.0 128.3Z" fill="#E8907E" fill-opacity="0.3"/>
<path d="M1028.0 128.3L1035.2 124.9V12.4L1028.0 12.4Z" fill="#D4705D" fill-opacity="0.3"/>
<rect x="862.9" y="159.27" width="17.4" height="7.73" fill="#E64B35"/>
<rect x="862.9" y="158.03" width="17.4" height="1.24" fill="#4DBBD5"/>
<rect x="862.9" y="156.18" width="17.4" height="1.86" fill="#00A087"/>
<rect x="862.9" y="155.71" width="17.4" height="0.46" fill="#3C5488"/>
<rect x="862.9" y="150.77" width="17.4" height="4.95" fill="#F39B7F"/>
<rect x="862.9" y="150.61" width="17.4" height="0.15" fill="#8491B4"/>
<rect x="862.9" y="131.75" width="17.4" height="18.86" fill="#91D1C2"/>
<rect x="862.9" y="131.44" width="17.4" height="0.31" fill="#DC0000"/>
<rect x="862.9" y="130.51" width="17.4" height="0.93" fill="#7E6148"/>
<rect x="862.9" y="129.43" width="17.4" height="1.08" fill="#D9D9D9"/>
<rect x="862.9" y="127.42" width="17.4" height="2.01" fill="#B98C86"/>
<rect x="862.9" y="124.02" width="17.4" height="3.40" fill="#33A6A6"/>
<rect x="862.9" y="123.09" width="17.4" height="0.93" fill="#2E7D8C"/>
<rect x="862.9" y="122.78" width="17.4" height="0.31" fill="#94607C"/>
<rect x="862.9" y="122.48" width="17.4" height="0.31" fill="#C29AA0"/>
<rect x="862.9" y="122.17" width="17.4" height="0.31" fill="#8AAFC0"/>
<rect x="862.9" y="121.86" width="17.4" height="0.31" fill="#D98C66"/>
<rect x="862.9" y="121.70" width="17.4" height="0.15" fill="#A8532F"/>
<rect x="862.9" y="121.55" width="17.4" height="0.15" fill="#B0A090"/>
<rect x="862.9" y="119.07" width="17.4" height="2.47" fill="#E8907E"/>
<rect x="862.9" y="12.40" width="17.4" height="106.67" fill="#D4705D"/>
<rect x="887.5" y="163.13" width="17.4" height="3.87" fill="#E64B35"/>
<rect x="887.5" y="162.36" width="17.4" height="0.77" fill="#4DBBD5"/>
<rect x="887.5" y="156.18" width="17.4" height="6.18" fill="#00A087"/>
<rect x="887.5" y="155.87" width="17.4" height="0.31" fill="#3C5488"/>
<rect x="887.5" y="152.78" width="17.4" height="3.09" fill="#F39B7F"/>
<rect x="887.5" y="137.94" width="17.4" height="14.84" fill="#8491B4"/>
<rect x="887.5" y="137.63" width="17.4" height="0.31" fill="#91D1C2"/>
<rect x="887.5" y="134.53" width="17.4" height="3.09" fill="#DC0000"/>
<rect x="887.5" y="133.61" width="17.4" height="0.93" fill="#7E6148"/>
<rect x="887.5" y="131.44" width="17.4" height="2.16" fill="#D9D9D9"/>
<rect x="887.5" y="130.21" width="17.4" height="1.24" fill="#B98C86"/>
<rect x="887.5" y="129.59" width="17.4" height="0.62" fill="#33A6A6"/>
<rect x="887.5" y="127.58" width="17.4" height="2.01" fill="#2E7D8C"/>
<rect x="887.5" y="127.11" width="17.4" height="0.46" fill="#94607C"/>
<rect x="887.5" y="126.80" width="17.4" height="0.31" fill="#C29AA0"/>
<rect x="887.5" y="126.49" width="17.4" height="0.31" fill="#8AAFC0"/>
<rect x="887.5" y="126.03" width="17.4" height="0.46" fill="#D98C66"/>
<rect x="887.5" y="125.26" width="17.4" height="0.77" fill="#A8532F"/>
<rect x="887.5" y="124.95" width="17.4" height="0.31" fill="#B0A090"/>
<rect x="887.5" y="124.64" width="17.4" height="0.31" fill="#E8907E"/>
<rect x="887.5" y="12.40" width="17.4" height="112.24" fill="#D4705D"/>
<rect x="912.1" y="166.54" width="17.4" height="0.46" fill="#E64B35"/>
<rect x="912.1" y="166.07" width="17.4" height="0.46" fill="#4DBBD5"/>
<rect x="912.1" y="158.50" width="17.4" height="7.58" fill="#00A087"/>
<rect x="912.1" y="158.03" width="17.4" height="0.46" fill="#3C5488"/>
<rect x="912.1" y="157.72" width="17.4" height="0.31" fill="#F39B7F"/>
<rect x="912.1" y="156.18" width="17.4" height="1.55" fill="#8491B4"/>
<rect x="912.1" y="156.02" width="17.4" height="0.15" fill="#91D1C2"/>
<rect x="912.1" y="152.16" width="17.4" height="3.87" fill="#DC0000"/>
<rect x="912.1" y="149.99" width="17.4" height="2.16" fill="#7E6148"/>
<rect x="912.1" y="149.38" width="17.4" height="0.62" fill="#D9D9D9"/>
<rect x="912.1" y="147.98" width="17.4" height="1.39" fill="#B98C86"/>
<rect x="912.1" y="147.21" width="17.4" height="0.77" fill="#33A6A6"/>
<rect x="912.1" y="145.67" width="17.4" height="1.55" fill="#2E7D8C"/>
<rect x="912.1" y="145.05" width="17.4" height="0.62" fill="#94607C"/>
<rect x="912.1" y="143.04" width="17.4" height="2.01" fill="#C29AA0"/>
<rect x="912.1" y="141.95" width="17.4" height="1.08" fill="#8AAFC0"/>
<rect x="912.1" y="140.25" width="17.4" height="1.70" fill="#D98C66"/>
<rect x="912.1" y="139.94" width="17.4" height="0.31" fill="#A8532F"/>
<rect x="912.1" y="139.64" width="17.4" height="0.31" fill="#B0A090"/>
<rect x="912.1" y="139.48" width="17.4" height="0.15" fill="#E8907E"/>
<rect x="912.1" y="12.40" width="17.4" height="127.08" fill="#D4705D"/>
<rect x="936.8" y="166.54" width="17.4" height="0.46" fill="#E64B35"/>
<rect x="936.8" y="166.07" width="17.4" height="0.46" fill="#4DBBD5"/>
<rect x="936.8" y="157.72" width="17.4" height="8.35" fill="#00A087"/>
<rect x="936.8" y="156.49" width="17.4" height="1.24" fill="#3C5488"/>
<rect x="936.8" y="156.18" width="17.4" height="0.31" fill="#F39B7F"/>
<rect x="936.8" y="156.02" width="17.4" height="0.15" fill="#8491B4"/>
<rect x="936.8" y="155.87" width="17.4" height="0.15" fill="#91D1C2"/>
<rect x="936.8" y="152.78" width="17.4" height="3.09" fill="#DC0000"/>
<rect x="936.8" y="150.61" width="17.4" height="2.16" fill="#7E6148"/>
<rect x="936.8" y="149.99" width="17.4" height="0.62" fill="#D9D9D9"/>
<rect x="936.8" y="148.45" width="17.4" height="1.55" fill="#B98C86"/>
<rect x="936.8" y="147.83" width="17.4" height="0.62" fill="#33A6A6"/>
<rect x="936.8" y="146.59" width="17.4" height="1.24" fill="#2E7D8C"/>
<rect x="936.8" y="145.97" width="17.4" height="0.62" fill="#94607C"/>
<rect x="936.8" y="144.58" width="17.4" height="1.39" fill="#C29AA0"/>
<rect x="936.8" y="143.19" width="17.4" height="1.39" fill="#8AAFC0"/>
<rect x="936.8" y="141.95" width="17.4" height="1.24" fill="#D98C66"/>
<rect x="936.8" y="141.65" width="17.4" height="0.31" fill="#A8532F"/>
<rect x="936.8" y="141.49" width="17.4" height="0.15" fill="#B0A090"/>
<rect x="936.8" y="141.34" width="17.4" height="0.15" fill="#E8907E"/>
<rect x="936.8" y="12.40" width="17.4" height="128.94" fill="#D4705D"/>
<rect x="961.4" y="151.08" width="17.4" height="15.92" fill="#E64B35"/>
<rect x="961.4" y="133.30" width="17.4" height="17.78" fill="#4DBBD5"/>
<rect x="961.4" y="131.75" width="17.4" height="1.55" fill="#00A087"/>
<rect x="961.4" y="130.98" width="17.4" height="0.77" fill="#3C5488"/>
<rect x="961.4" y="130.67" width="17.4" height="0.31" fill="#F39B7F"/>
<rect x="961.4" y="130.51" width="17.4" height="0.15" fill="#8491B4"/>
<rect x="961.4" y="130.36" width="17.4" height="0.15" fill="#91D1C2"/>
<rect x="961.4" y="130.05" width="17.4" height="0.31" fill="#DC0000"/>
<rect x="961.4" y="128.35" width="17.4" height="1.70" fill="#7E6148"/>
<rect x="961.4" y="127.11" width="17.4" height="1.24" fill="#D9D9D9"/>
<rect x="961.4" y="125.88" width="17.4" height="1.24" fill="#B98C86"/>
<rect x="961.4" y="125.72" width="17.4" height="0.15" fill="#33A6A6"/>
<rect x="961.4" y="125.57" width="17.4" height="0.15" fill="#2E7D8C"/>
<rect x="961.4" y="122.17" width="17.4" height="3.40" fill="#94607C"/>
<rect x="961.4" y="122.01" width="17.4" height="0.15" fill="#C29AA0"/>
<rect x="961.4" y="121.86" width="17.4" height="0.15" fill="#8AAFC0"/>
<rect x="961.4" y="121.70" width="17.4" height="0.15" fill="#D98C66"/>
<rect x="961.4" y="121.55" width="17.4" height="0.15" fill="#A8532F"/>
<rect x="961.4" y="121.39" width="17.4" height="0.15" fill="#B0A090"/>
<rect x="961.4" y="121.24" width="17.4" height="0.15" fill="#E8907E"/>
<rect x="961.4" y="12.40" width="17.4" height="108.84" fill="#D4705D"/>
<rect x="986.0" y="145.36" width="17.4" height="21.64" fill="#E64B35"/>
<rect x="986.0" y="118.76" width="17.4" height="26.59" fill="#4DBBD5"/>
<rect x="986.0" y="118.46" width="17.4" height="0.31" fill="#00A087"/>
<rect x="986.0" y="118.30" width="17.4" height="0.15" fill="#3C5488"/>
<rect x="986.0" y="118.15" width="17.4" height="0.15" fill="#F39B7F"/>
<rect x="986.0" y="117.99" width="17.4" height="0.15" fill="#8491B4"/>
<rect x="986.0" y="117.84" width="17.4" height="0.15" fill="#91D1C2"/>
<rect x="986.0" y="116.29" width="17.4" height="1.55" fill="#DC0000"/>
<rect x="986.0" y="115.67" width="17.4" height="0.62" fill="#7E6148"/>
<rect x="986.0" y="113.66" width="17.4" height="2.01" fill="#D9D9D9"/>
<rect x="986.0" y="112.89" width="17.4" height="0.77" fill="#B98C86"/>
<rect x="986.0" y="112.74" width="17.4" height="0.15" fill="#33A6A6"/>
<rect x="986.0" y="112.58" width="17.4" height="0.15" fill="#2E7D8C"/>
<rect x="986.0" y="109.80" width="17.4" height="2.78" fill="#94607C"/>
<rect x="986.0" y="109.49" width="17.4" height="0.31" fill="#C29AA0"/>
<rect x="986.0" y="108.87" width="17.4" height="0.62" fill="#8AAFC0"/>
<rect x="986.0" y="108.72" width="17.4" height="0.15" fill="#D98C66"/>
<rect x="986.0" y="108.56" width="17.4" height="0.15" fill="#A8532F"/>
<rect x="986.0" y="108.41" width="17.4" height="0.15" fill="#B0A090"/>
<rect x="986.0" y="108.25" width="17.4" height="0.15" fill="#E8907E"/>
<rect x="986.0" y="12.40" width="17.4" height="95.85" fill="#D4705D"/>
<rect x="1010.6" y="158.96" width="17.4" height="8.04" fill="#E64B35"/>
<rect x="1010.6" y="156.18" width="17.4" height="2.78" fill="#4DBBD5"/>
<rect x="1010.6" y="153.86" width="17.4" height="2.32" fill="#00A087"/>
<rect x="1010.6" y="146.90" width="17.4" height="6.96" fill="#3C5488"/>
<rect x="1010.6" y="140.72" width="17.4" height="6.18" fill="#F39B7F"/>
<rect x="1010.6" y="140.56" width="17.4" height="0.15" fill="#8491B4"/>
<rect x="1010.6" y="140.41" width="17.4" height="0.15" fill="#91D1C2"/>
<rect x="1010.6" y="139.79" width="17.4" height="0.62" fill="#DC0000"/>
<rect x="1010.6" y="139.17" width="17.4" height="0.62" fill="#7E6148"/>
<rect x="1010.6" y="137.63" width="17.4" height="1.55" fill="#D9D9D9"/>
<rect x="1010.6" y="136.70" width="17.4" height="0.93" fill="#B98C86"/>
<rect x="1010.6" y="133.76" width="17.4" height="2.94" fill="#33A6A6"/>
<rect x="1010.6" y="133.30" width="17.4" height="0.46" fill="#2E7D8C"/>
<rect x="1010.6" y="132.99" width="17.4" height="0.31" fill="#94607C"/>
<rect x="1010.6" y="131.44" width="17.4" height="1.55" fill="#C29AA0"/>
<rect x="1010.6" y="130.51" width="17.4" height="0.93" fill="#8AAFC0"/>
<rect x="1010.6" y="129.12" width="17.4" height="1.39" fill="#D98C66"/>
<rect x="1010.6" y="128.97" width="17.4" height="0.15" fill="#A8532F"/>
<rect x="1010.6" y="128.66" width="17.4" height="0.31" fill="#B0A090"/>
<rect x="1010.6" y="128.35" width="17.4" height="0.31" fill="#E8907E"/>
<rect x="1010.6" y="12.40" width="17.4" height="115.95" fill="#D4705D"/>
<rect x="1035.2" y="158.50" width="17.4" height="8.50" fill="#E64B35"/>
<rect x="1035.2" y="154.63" width="17.4" height="3.87" fill="#4DBBD5"/>
<rect x="1035.2" y="153.40" width="17.4" height="1.24" fill="#00A087"/>
<rect x="1035.2" y="143.81" width="17.4" height="9.59" fill="#3C5488"/>
<rect x="1035.2" y="138.40" width="17.4" height="5.41" fill="#F39B7F"/>
<rect x="1035.2" y="138.24" width="17.4" height="0.15" fill="#8491B4"/>
<rect x="1035.2" y="138.09" width="17.4" height="0.15" fill="#91D1C2"/>
<rect x="1035.2" y="137.78" width="17.4" height="0.31" fill="#DC0000"/>
<rect x="1035.2" y="137.32" width="17.4" height="0.46" fill="#7E6148"/>
<rect x="1035.2" y="134.84" width="17.4" height="2.47" fill="#D9D9D9"/>
<rect x="1035.2" y="133.92" width="17.4" height="0.93" fill="#B98C86"/>
<rect x="1035.2" y="130.21" width="17.4" height="3.71" fill="#33A6A6"/>
<rect x="1035.2" y="129.59" width="17.4" height="0.62" fill="#2E7D8C"/>
<rect x="1035.2" y="129.28" width="17.4" height="0.31" fill="#94607C"/>
<rect x="1035.2" y="128.35" width="17.4" height="0.93" fill="#C29AA0"/>
<rect x="1035.2" y="127.73" width="17.4" height="0.62" fill="#8AAFC0"/>
<rect x="1035.2" y="126.80" width="17.4" height="0.93" fill="#D98C66"/>
<rect x="1035.2" y="125.57" width="17.4" height="1.24" fill="#A8532F"/>
<rect x="1035.2" y="125.26" width="17.4" height="0.31" fill="#B0A090"/>
<rect x="1035.2" y="124.95" width="17.4" height="0.31" fill="#E8907E"/>
<rect x="1035.2" y="12.40" width="17.4" height="112.55" fill="#D4705D"/>
<path d="M855.5 12.4V167.3H1059.9" fill="none" stroke="#999" stroke-width="0.5"/>
<path d="M854.3 167.00H855.5" stroke="#666" stroke-width="0.4"/>
<text x="853.3" y="168.5" font-size="4.2" text-anchor="end" stroke="#000" stroke-width="0.14">0</text>
<path d="M854.3 151.54H855.5" stroke="#666" stroke-width="0.4"/>
<text x="853.3" y="153.0" font-size="4.2" text-anchor="end" stroke="#000" stroke-width="0.14">10</text>
<path d="M854.3 136.08H855.5" stroke="#666" stroke-width="0.4"/>
<text x="853.3" y="137.6" font-size="4.2" text-anchor="end" stroke="#000" stroke-width="0.14">20</text>
<path d="M854.3 120.62H855.5" stroke="#666" stroke-width="0.4"/>
<text x="853.3" y="122.1" font-size="4.2" text-anchor="end" stroke="#000" stroke-width="0.14">30</text>
<path d="M854.3 105.16H855.5" stroke="#666" stroke-width="0.4"/>
<text x="853.3" y="106.7" font-size="4.2" text-anchor="end" stroke="#000" stroke-width="0.14">40</text>
<path d="M854.3 89.70H855.5" stroke="#666" stroke-width="0.4"/>
<text x="853.3" y="91.2" font-size="4.2" text-anchor="end" stroke="#000" stroke-width="0.14">50</text>
<path d="M854.3 74.24H855.5" stroke="#666" stroke-width="0.4"/>
<text x="853.3" y="75.7" font-size="4.2" text-anchor="end" stroke="#000" stroke-width="0.14">60</text>
<path d="M854.3 58.78H855.5" stroke="#666" stroke-width="0.4"/>
<text x="853.3" y="60.3" font-size="4.2" text-anchor="end" stroke="#000" stroke-width="0.14">70</text>
<path d="M854.3 43.32H855.5" stroke="#666" stroke-width="0.4"/>
<text x="853.3" y="44.8" font-size="4.2" text-anchor="end" stroke="#000" stroke-width="0.14">80</text>
<path d="M854.3 27.86H855.5" stroke="#666" stroke-width="0.4"/>
<text x="853.3" y="29.4" font-size="4.2" text-anchor="end" stroke="#000" stroke-width="0.14">90</text>
<path d="M854.3 12.40H855.5" stroke="#666" stroke-width="0.4"/>
<text x="853.3" y="13.9" font-size="4.2" text-anchor="end" stroke="#000" stroke-width="0.14">100</text>
<text x="871.6" y="172.2" font-size="3.75" text-anchor="middle" stroke="#000" stroke-width="0.14">CON_mag</text>
<text x="896.2" y="172.2" font-size="3.75" text-anchor="middle" stroke="#000" stroke-width="0.14">CCAB_mag</text>
<text x="920.8" y="172.2" font-size="3.75" text-anchor="middle" stroke="#000" stroke-width="0.14">CON_EW</text>
<text x="945.5" y="172.2" font-size="3.75" text-anchor="middle" stroke="#000" stroke-width="0.14">CCAB_EW</text>
<text x="970.1" y="172.2" font-size="3.75" text-anchor="middle" stroke="#000" stroke-width="0.14">E15eCON</text>
<text x="994.7" y="172.2" font-size="3.75" text-anchor="middle" stroke="#000" stroke-width="0.14">E15eCCAB</text>
<text x="1019.3" y="172.2" font-size="3.75" text-anchor="middle" stroke="#000" stroke-width="0.14">E21eCON</text>
<text x="1043.9" y="172.2" font-size="3.75" text-anchor="middle" stroke="#000" stroke-width="0.14">E21eCCAB</text>
<text x="841.9" y="89.7" font-size="5.0" text-anchor="middle" transform="rotate(-90 841.9 89.7)" stroke="#000" stroke-width="0.14">Relative Abundance (%)</text>
<rect x="1064.2" y="16.40" width="4.2" height="4.2" fill="#E64B35"/>
<text x="1070.0" y="20.0" font-size="4.47" fill="#111" font-style="italic" stroke="#111" stroke-width="0.14">Gallibacterium</text>
<rect x="1064.2" y="22.17" width="4.2" height="4.2" fill="#4DBBD5"/>
<text x="1070.0" y="25.8" font-size="4.47" fill="#111" font-style="italic" stroke="#111" stroke-width="0.14">Lactobacillus</text>
<rect x="1064.2" y="27.95" width="4.2" height="4.2" fill="#00A087"/>
<text x="1070.0" y="31.5" font-size="4.47" fill="#111" font-style="italic" stroke="#111" stroke-width="0.14">Bacteroides</text>
<rect x="1064.2" y="33.73" width="4.2" height="4.2" fill="#3C5488"/>
<text x="1070.0" y="37.3" font-size="4.47" fill="#111" font-style="italic" stroke="#111" stroke-width="0.14">Helicobacter</text>
<rect x="1064.2" y="39.50" width="4.2" height="4.2" fill="#F39B7F"/>
<text x="1070.0" y="43.1" font-size="4.47" fill="#111" font-style="italic" stroke="#111" stroke-width="0.14">Peptostreptococcaceae_Romboutsia</text>
<rect x="1064.2" y="45.27" width="4.2" height="4.2" fill="#8491B4"/>
<text x="1070.0" y="48.9" font-size="4.47" fill="#111" font-style="italic" stroke="#111" stroke-width="0.14">Shigella</text>
<rect x="1064.2" y="51.05" width="4.2" height="4.2" fill="#91D1C2"/>
<text x="1070.0" y="54.7" font-size="4.47" fill="#111" font-style="italic" stroke="#111" stroke-width="0.14">Ralstonia</text>
<rect x="1064.2" y="56.83" width="4.2" height="4.2" fill="#DC0000"/>
<text x="1070.0" y="60.4" font-size="4.47" fill="#111" font-style="italic" stroke="#111" stroke-width="0.14">Clostridiaceae_Clostridium</text>
<rect x="1064.2" y="62.60" width="4.2" height="4.2" fill="#7E6148"/>
<text x="1070.0" y="66.2" font-size="4.47" fill="#111" font-style="italic" stroke="#111" stroke-width="0.14">Ruminococcaceae_Ruminococcus</text>
<rect x="1064.2" y="68.38" width="4.2" height="4.2" fill="#D9D9D9"/>
<text x="1070.0" y="72.0" font-size="4.47" fill="#111" font-style="italic" stroke="#111" stroke-width="0.14">Acinetobacter</text>
<rect x="1064.2" y="74.15" width="4.2" height="4.2" fill="#B98C86"/>
<text x="1070.0" y="77.8" font-size="4.47" fill="#111" font-style="italic" stroke="#111" stroke-width="0.14">Lachnospira</text>
<rect x="1064.2" y="79.93" width="4.2" height="4.2" fill="#33A6A6"/>
<text x="1070.0" y="83.5" font-size="4.47" fill="#111" font-style="italic" stroke="#111" stroke-width="0.14">Blautia</text>
<rect x="1064.2" y="85.70" width="4.2" height="4.2" fill="#2E7D8C"/>
<text x="1070.0" y="89.3" font-size="4.47" fill="#111" font-style="italic" stroke="#111" stroke-width="0.14">Sutterella</text>
<rect x="1064.2" y="91.47" width="4.2" height="4.2" fill="#94607C"/>
<text x="1070.0" y="95.1" font-size="4.47" fill="#111" font-style="italic" stroke="#111" stroke-width="0.14">Acetobacter</text>
<rect x="1064.2" y="97.25" width="4.2" height="4.2" fill="#C29AA0"/>
<text x="1070.0" y="100.9" font-size="4.47" fill="#111" font-style="italic" stroke="#111" stroke-width="0.14">Veillonella</text>
<rect x="1064.2" y="103.03" width="4.2" height="4.2" fill="#8AAFC0"/>
<text x="1070.0" y="106.6" font-size="4.47" fill="#111" font-style="italic" stroke="#111" stroke-width="0.14">Citrobacter</text>
<rect x="1064.2" y="108.80" width="4.2" height="4.2" fill="#D98C66"/>
<text x="1070.0" y="112.4" font-size="4.47" fill="#111" font-style="italic" stroke="#111" stroke-width="0.14">[Ruminococcus]</text>
<rect x="1064.2" y="114.58" width="4.2" height="4.2" fill="#A8532F"/>
<text x="1070.0" y="118.2" font-size="4.47" fill="#111" font-style="italic" stroke="#111" stroke-width="0.14">Anaeroplasma</text>
<rect x="1064.2" y="120.35" width="4.2" height="4.2" fill="#B0A090"/>
<text x="1070.0" y="124.0" font-size="4.47" fill="#111" font-style="italic" stroke="#111" stroke-width="0.14">Phascolarctobacterium</text>
<rect x="1064.2" y="126.12" width="4.2" height="4.2" fill="#E8907E"/>
<text x="1070.0" y="129.7" font-size="4.47" fill="#111" font-style="italic" stroke="#111" stroke-width="0.14">Enterococcaceae_Enterococcus</text>
<rect x="1064.2" y="131.90" width="4.2" height="4.2" fill="#D4705D"/>
<text x="1070.0" y="135.5" font-size="4.47" fill="#111" stroke="#111" stroke-width="0.14">Others</text>
<text x="834.8" y="22.6" font-size="13.6" font-weight="bold">b</text>
</g>
<g id="pc">
<path d="M576.7 215.3C579.5 214.0 587.7 210.3 593.9 207.1C600.0 204.0 606.9 199.5 613.4 196.4C619.9 193.2 626.4 190.1 632.9 188.2C639.5 186.3 646.0 185.0 652.5 184.9C659.0 184.8 665.5 185.9 672.0 187.6C678.5 189.3 685.1 192.6 691.6 195.0C698.1 197.5 705.6 200.4 711.1 202.2C716.7 204.1 719.9 204.9 724.8 206.2C729.7 207.4 734.6 208.2 740.4 209.5C746.3 210.8 753.5 212.6 760.0 214.0C766.5 215.4 773.2 216.7 779.5 217.9C785.8 219.0 794.7 220.3 797.7 220.8L797.7 231.0C794.7 231.0 785.8 231.0 779.5 231.0C773.2 231.0 766.5 231.0 760.0 231.0C753.5 230.9 746.3 231.0 740.4 230.8C734.6 230.6 729.7 230.2 724.8 229.8C719.9 229.4 716.7 229.2 711.1 228.6C705.6 228.1 698.1 227.3 691.6 226.5C685.1 225.7 678.5 224.6 672.0 223.9C665.5 223.3 659.0 222.6 652.5 222.4C646.0 222.1 639.5 222.3 632.9 222.4C626.4 222.5 619.9 222.6 613.4 223.0C606.9 223.3 600.0 223.8 593.9 224.3C587.7 224.8 579.5 225.8 576.7 226.1Z" fill="#E8705F"/>
<path d="M576.7 226.1C579.5 225.8 587.7 224.8 593.9 224.3C600.0 223.8 606.9 223.3 613.4 223.0C619.9 222.6 626.4 222.5 632.9 222.4C639.5 222.3 646.0 222.1 652.5 222.4C659.0 222.6 665.5 223.3 672.0 223.9C678.5 224.6 685.1 225.7 691.6 226.5C698.1 227.3 705.6 228.1 711.1 228.6C716.7 229.2 719.9 229.4 724.8 229.8C729.7 230.2 734.6 230.6 740.4 230.8C746.3 231.0 753.5 230.9 760.0 231.0C766.5 231.0 773.2 231.0 779.5 231.0C785.8 231.0 794.7 231.0 797.7 231.0L797.7 236.1C794.7 236.0 785.8 235.9 779.5 235.9C773.2 235.8 766.5 235.9 760.0 235.9C753.5 235.9 746.3 235.7 740.4 235.9C734.6 236.0 729.7 236.2 724.8 236.6C719.9 237.0 716.7 237.4 711.1 238.2C705.6 239.0 698.1 240.5 691.6 241.5C685.1 242.6 678.5 244.0 672.0 244.7C665.5 245.3 659.0 245.8 652.5 245.6C646.0 245.5 639.5 244.7 632.9 243.7C626.4 242.6 619.9 241.0 613.4 239.4C606.9 237.7 600.0 235.8 593.9 233.9C587.7 232.0 579.5 229.2 576.7 228.2Z" fill="#6CC5DC"/>
<path d="M576.7 228.2C579.5 229.2 587.7 232.0 593.9 233.9C600.0 235.8 606.9 237.7 613.4 239.4C619.9 241.0 626.4 242.6 632.9 243.7C639.5 244.7 646.0 245.5 652.5 245.6C659.0 245.8 665.5 245.3 672.0 244.7C678.5 244.0 685.1 242.6 691.6 241.5C698.1 240.5 705.6 239.0 711.1 238.2C716.7 237.4 719.9 237.0 724.8 236.6C729.7 236.2 734.6 236.0 740.4 235.9C746.3 235.7 753.5 235.9 760.0 235.9C766.5 235.9 773.2 235.8 779.5 235.9C785.8 235.9 794.7 236.0 797.7 236.1L797.7 246.6C794.7 247.2 785.8 248.8 779.5 250.1C773.2 251.4 766.5 253.0 760.0 254.4C753.5 255.9 746.3 257.6 740.4 258.9C734.6 260.2 729.7 261.1 724.8 262.2C719.9 263.4 716.7 264.3 711.1 265.8C705.6 267.3 698.1 269.4 691.6 271.2C685.1 273.0 678.5 275.2 672.0 276.5C665.5 277.8 659.0 278.6 652.5 278.9C646.0 279.1 639.5 278.5 632.9 277.9C626.4 277.2 619.9 276.1 613.4 274.9C606.9 273.7 600.0 272.1 593.9 270.6C587.7 269.2 579.5 266.9 576.7 266.2Z" fill="#33B09D"/>
<rect x="606.0" y="184" width="14.9" height="96" fill="#fff" fill-opacity="0.5"/>
<rect x="683.2" y="184" width="14.9" height="96" fill="#fff" fill-opacity="0.5"/>
<rect x="757.0" y="184" width="14.7" height="96" fill="#fff" fill-opacity="0.5"/>
<path d="M576.7 282.6H797.7" fill="none" stroke="#999" stroke-width="0.5"/>
<path d="M574.9 185.5H576.7V279.6H574.9M799.5 185.5H797.7V279.6H799.5" fill="none" stroke="#222" stroke-width="0.7"/>
<path d="M574.9 279.0H576.7M797.7 279.0h1.8" stroke="#222" stroke-width="0.6"/>
<text x="573.9" y="280.7" font-size="5.0" text-anchor="end" stroke="#000" stroke-width="0.14">0</text>
<text x="800.5" y="280.7" font-size="5.0" stroke="#000" stroke-width="0.14">0</text>
<path d="M574.9 265.6H576.7M797.7 265.6h1.8" stroke="#222" stroke-width="0.6"/>
<text x="573.9" y="267.3" font-size="5.0" text-anchor="end" stroke="#000" stroke-width="0.14">2,000</text>
<text x="800.5" y="267.3" font-size="5.0" stroke="#000" stroke-width="0.14">2,000</text>
<path d="M574.9 252.2H576.7M797.7 252.2h1.8" stroke="#222" stroke-width="0.6"/>
<text x="573.9" y="253.9" font-size="5.0" text-anchor="end" stroke="#000" stroke-width="0.14">4,000</text>
<text x="800.5" y="253.9" font-size="5.0" stroke="#000" stroke-width="0.14">4,000</text>
<path d="M574.9 238.8H576.7M797.7 238.8h1.8" stroke="#222" stroke-width="0.6"/>
<text x="573.9" y="240.5" font-size="5.0" text-anchor="end" stroke="#000" stroke-width="0.14">6,000</text>
<text x="800.5" y="240.5" font-size="5.0" stroke="#000" stroke-width="0.14">6,000</text>
<path d="M574.9 225.3H576.7M797.7 225.3h1.8" stroke="#222" stroke-width="0.6"/>
<text x="573.9" y="227.0" font-size="5.0" text-anchor="end" stroke="#000" stroke-width="0.14">8,000</text>
<text x="800.5" y="227.0" font-size="5.0" stroke="#000" stroke-width="0.14">8,000</text>
<path d="M574.9 211.9H576.7M797.7 211.9h1.8" stroke="#222" stroke-width="0.6"/>
<text x="573.9" y="213.6" font-size="5.0" text-anchor="end" stroke="#000" stroke-width="0.14">10,000</text>
<text x="800.5" y="213.6" font-size="5.0" stroke="#000" stroke-width="0.14">10,000</text>
<path d="M574.9 198.5H576.7M797.7 198.5h1.8" stroke="#222" stroke-width="0.6"/>
<text x="573.9" y="200.2" font-size="5.0" text-anchor="end" stroke="#000" stroke-width="0.14">12,000</text>
<text x="800.5" y="200.2" font-size="5.0" stroke="#000" stroke-width="0.14">12,000</text>
<text x="576.7" y="288.8" font-size="4.6" text-anchor="middle" fill="#222" stroke="#222" stroke-width="0.14">magnum</text>
<text x="650.1" y="288.8" font-size="4.6" text-anchor="middle" fill="#222" stroke="#222" stroke-width="0.14">EW</text>
<text x="723.8" y="288.8" font-size="4.6" text-anchor="middle" fill="#222" stroke="#222" stroke-width="0.14">E15</text>
<text x="797.1" y="288.8" font-size="4.6" text-anchor="middle" fill="#222" stroke="#222" stroke-width="0.14">E21</text>
<rect x="818.0" y="194.0" width="4.9" height="4.9" fill="#E64B35"/>
<text x="824.9" y="198.3" font-size="5.25" stroke="#000" stroke-width="0.14">CON_unique taxa</text>
<rect x="818.0" y="201.0" width="4.9" height="4.9" fill="#4DBBD5"/>
<text x="824.9" y="205.3" font-size="5.25" stroke="#000" stroke-width="0.14">shared taxa</text>
<rect x="818.0" y="208.0" width="4.9" height="4.9" fill="#00A087"/>
<text x="824.9" y="212.3" font-size="5.25" stroke="#000" stroke-width="0.14">CCAB_unique taxa</text>
<text x="552.6" y="190.3" font-size="13.6" font-weight="bold">c</text>
</g>
<g id="pd">
<ellipse rx="62.1" ry="39" transform="translate(973.7 261.6) scale(1.083 1) rotate(45)" fill="#E64B35" fill-opacity="0.5"/>
<ellipse rx="62.1" ry="39" transform="translate(995.7 240) scale(1.083 1) rotate(45)" fill="#4DBBD5" fill-opacity="0.5"/>
<ellipse rx="62.1" ry="39" transform="translate(1001.4 240) scale(1.083 1) rotate(-45)" fill="#00A087" fill-opacity="0.5"/>
<ellipse rx="62.1" ry="39" transform="translate(1023.3 261.6) scale(1.083 1) rotate(-45)" fill="#3C5488" fill-opacity="0.5"/>
<text x="965.4" y="206.1" font-size="6.3" text-anchor="middle" font-weight="bold" fill="#111">10775</text>
<text x="1033.2" y="206.1" font-size="6.3" text-anchor="middle" font-weight="bold" fill="#111">3142</text>
<text x="999.3" y="216.0" font-size="6.3" text-anchor="middle" font-weight="bold" fill="#111">24</text>
<text x="951.8" y="226.7" font-size="6.3" text-anchor="middle" font-weight="bold" fill="#111">2162</text>
<text x="1049.8" y="226.7" font-size="6.3" text-anchor="middle" font-weight="bold" fill="#111">133</text>
<text x="969.0" y="244.3" font-size="6.3" text-anchor="middle" font-weight="bold" fill="#111">36</text>
<text x="1029.0" y="244.3" font-size="6.3" text-anchor="middle" font-weight="bold" fill="#111">24</text>
<text x="934.0" y="251.4" font-size="6.3" text-anchor="middle" font-weight="bold" fill="#111">4369</text>
<text x="1066.6" y="251.4" font-size="6.3" text-anchor="middle" font-weight="bold" fill="#111">2823</text>
<text x="1000.2" y="261.8" font-size="6.3" text-anchor="middle" font-weight="bold" fill="#111">107</text>
<text x="958.7" y="276.3" font-size="6.3" text-anchor="middle" font-weight="bold" fill="#111">75</text>
<text x="1042.6" y="276.3" font-size="6.3" text-anchor="middle" font-weight="bold" fill="#111">285</text>
<text x="976.2" y="286.7" font-size="6.3" text-anchor="middle" font-weight="bold" fill="#111">69</text>
<text x="1023.1" y="286.7" font-size="6.3" text-anchor="middle" font-weight="bold" fill="#111">423</text>
<text x="1000.2" y="304.2" font-size="6.3" text-anchor="middle" font-weight="bold" fill="#111">316</text>
<text x="921.2" y="208.9" font-size="6.2" fill="#E58CA5" stroke="#E58CA5" stroke-width="0.14">magnum</text>
<text x="939.8" y="186.0" font-size="6.4" fill="#7FD6E8" stroke="#7FD6E8" stroke-width="0.14">EW</text>
<text x="1033.6" y="186.0" font-size="6.1" fill="#5FBE9A" stroke="#5FBE9A" stroke-width="0.14">E15</text>
<text x="1061.2" y="208.5" font-size="6.1" fill="#C9A0D8" stroke="#C9A0D8" stroke-width="0.14">E21</text>
<text x="900.5" y="193.0" font-size="13.6" font-weight="bold">d</text>
</g>
<g id="pe">
<ellipse cx="643.8" cy="373.8" rx="55.7" ry="39.6" transform="rotate(4 643.8 373.8)" fill="#E64B35" fill-opacity="0.2" stroke="#E64B35" stroke-opacity="0.9" stroke-width="0.35"/>
<ellipse cx="696.7" cy="373.8" rx="6.0" ry="5.2" transform="rotate(0 696.7 373.8)" fill="#00A087" fill-opacity="0.25" stroke="#00A087" stroke-opacity="0.9" stroke-width="0.35"/>
<ellipse cx="655.6" cy="368.4" rx="6.2" ry="3.9" transform="rotate(15 655.6 368.4)" fill="#3C5488" fill-opacity="0.2" stroke="#3C5488" stroke-opacity="0.9" stroke-width="0.35"/>
<ellipse cx="613.0" cy="373.6" rx="5.8" ry="1.7" transform="rotate(-5 613.0 373.6)" fill="#4DBBD5" fill-opacity="0.3" stroke="#4DBBD5" stroke-opacity="0.9" stroke-width="0.35"/>
<path d="M694.9 373.1l1.0 1.7h-1.9z" fill="#00A087"/>
<path d="M695.8 373.5l1.0 1.7h-1.9z" fill="#00A087"/>
<path d="M697.6 370.1l1.0 1.7h-1.9z" fill="#00A087"/>
<path d="M693.4 374.9l1.0 1.7h-1.9z" fill="#00A087"/>
<path d="M695.1 371.2l1.0 1.7h-1.9z" fill="#00A087"/>
<path d="M700.2 372.6l1.0 1.7h-1.9z" fill="#00A087"/>
<path d="M699.1 372.7l1.0 1.7h-1.9z" fill="#00A087"/>
<path d="M697.7 370.7l1.0 1.7h-1.9z" fill="#00A087"/>
<path d="M697.7 375.1l1.0 1.7h-1.9z" fill="#00A087"/>
<path d="M696.9 374.3l1.0 1.7h-1.9z" fill="#00A087"/>
<path d="M697.9 370.1l1.0 1.7h-1.9z" fill="#00A087"/>
<path d="M698.5 373.4l1.0 1.7h-1.9z" fill="#00A087"/>
<path d="M695.4 369.9l1.0 1.7h-1.9z" fill="#00A087"/>
<path d="M699.3 372.7l1.0 1.7h-1.9z" fill="#00A087"/>
<path d="M657.0 369.0l0.7 1.0l-0.7 1.0l-0.7 -1.0z" fill="#3C5488"/>
<path d="M657.0 369.3l0.7 1.0l-0.7 1.0l-0.7 -1.0z" fill="#3C5488"/>
<path d="M654.3 368.6l0.7 1.0l-0.7 1.0l-0.7 -1.0z" fill="#3C5488"/>
<path d="M654.7 369.3l0.7 1.0l-0.7 1.0l-0.7 -1.0z" fill="#3C5488"/>
<path d="M658.4 365.1l0.7 1.0l-0.7 1.0l-0.7 -1.0z" fill="#3C5488"/>
<path d="M652.1 365.7l0.7 1.0l-0.7 1.0l-0.7 -1.0z" fill="#3C5488"/>
<path d="M659.1 366.8l0.7 1.0l-0.7 1.0l-0.7 -1.0z" fill="#3C5488"/>
<path d="M656.3 366.1l0.7 1.0l-0.7 1.0l-0.7 -1.0z" fill="#3C5488"/>
<path d="M655.2 366.6l0.7 1.0l-0.7 1.0l-0.7 -1.0z" fill="#3C5488"/>
<path d="M653.9 367.6l0.7 1.0l-0.7 1.0l-0.7 -1.0z" fill="#3C5488"/>
<path d="M655.9 369.2l0.7 1.0l-0.7 1.0l-0.7 -1.0z" fill="#3C5488"/>
<path d="M656.7 369.3l0.7 1.0l-0.7 1.0l-0.7 -1.0z" fill="#3C5488"/>
<path d="M658.2 369.6l0.7 1.0l-0.7 1.0l-0.7 -1.0z" fill="#3C5488"/>
<path d="M656.6 365.4l0.7 1.0l-0.7 1.0l-0.7 -1.0z" fill="#3C5488"/>
<rect x="615.3" y="374.3" width="1.6" height="1.6" fill="#4DBBD5"/>
<rect x="615.8" y="373.2" width="1.6" height="1.6" fill="#4DBBD5"/>
<rect x="613.9" y="372.2" width="1.6" height="1.6" fill="#4DBBD5"/>
<rect x="615.1" y="373.2" width="1.6" height="1.6" fill="#4DBBD5"/>
<rect x="609.8" y="371.8" width="1.6" height="1.6" fill="#4DBBD5"/>
<rect x="615.3" y="374.3" width="1.6" height="1.6" fill="#4DBBD5"/>
<rect x="607.9" y="373.8" width="1.6" height="1.6" fill="#4DBBD5"/>
<rect x="611.0" y="372.0" width="1.6" height="1.6" fill="#4DBBD5"/>
<rect x="609.9" y="373.7" width="1.6" height="1.6" fill="#4DBBD5"/>
<rect x="615.5" y="371.8" width="1.6" height="1.6" fill="#4DBBD5"/>
<rect x="613.0" y="371.8" width="1.6" height="1.6" fill="#4DBBD5"/>
<rect x="614.0" y="372.5" width="1.6" height="1.6" fill="#4DBBD5"/>
<circle cx="666.8" cy="346.7" r="1.05" fill="#E64B35"/>
<circle cx="656.0" cy="354.1" r="1.05" fill="#E64B35"/>
<circle cx="616.9" cy="370.5" r="1.05" fill="#E64B35"/>
<circle cx="608.2" cy="373.2" r="1.05" fill="#E64B35"/>
<circle cx="621.9" cy="372.8" r="1.05" fill="#E64B35"/>
<circle cx="656.5" cy="375.1" r="1.05" fill="#E64B35"/>
<circle cx="659.1" cy="374.8" r="1.05" fill="#E64B35"/>
<circle cx="653.8" cy="385.0" r="1.05" fill="#E64B35"/>
<circle cx="657.7" cy="386.9" r="1.05" fill="#E64B35"/>
<circle cx="656.0" cy="437.6" r="1.05" fill="#E64B35"/>
<rect x="582.7" y="329.3" width="126.2" height="113.7" fill="none" stroke="#444" stroke-width="0.5"/>
<text x="599.1" y="448.6" font-size="4.8" text-anchor="middle" stroke="#000" stroke-width="0.14">-1.5</text>
<text x="616.9" y="448.6" font-size="4.8" text-anchor="middle" stroke="#000" stroke-width="0.14">-1.0</text>
<text x="634.9" y="448.6" font-size="4.8" text-anchor="middle" stroke="#000" stroke-width="0.14">-0.5</text>
<text x="652.7" y="448.6" font-size="4.8" text-anchor="middle" stroke="#000" stroke-width="0.14">0.0</text>
<text x="670.3" y="448.6" font-size="4.8" text-anchor="middle" stroke="#000" stroke-width="0.14">0.5</text>
<text x="688.4" y="448.6" font-size="4.8" text-anchor="middle" stroke="#000" stroke-width="0.14">1.0</text>
<text x="707.0" y="448.6" font-size="4.8" text-anchor="middle" stroke="#000" stroke-width="0.14">1.5</text>
<text x="580.5" y="341.0" font-size="4.8" text-anchor="end" stroke="#000" stroke-width="0.14">1.5</text>
<text x="580.5" y="352.4" font-size="4.8" text-anchor="end" stroke="#000" stroke-width="0.14">1.0</text>
<text x="580.5" y="363.8" font-size="4.8" text-anchor="end" stroke="#000" stroke-width="0.14">0.5</text>
<text x="580.5" y="374.8" font-size="4.8" text-anchor="end" stroke="#000" stroke-width="0.14">0.0</text>
<text x="580.5" y="386.4" font-size="4.8" text-anchor="end" stroke="#000" stroke-width="0.14">-0.5</text>
<text x="580.5" y="397.6" font-size="4.8" text-anchor="end" stroke="#000" stroke-width="0.14">-1.0</text>
<text x="580.5" y="409.0" font-size="4.8" text-anchor="end" stroke="#000" stroke-width="0.14">-1.5</text>
<text x="580.5" y="420.2" font-size="4.8" text-anchor="end" stroke="#000" stroke-width="0.14">-2.0</text>
<text x="580.5" y="431.6" font-size="4.8" text-anchor="end" stroke="#000" stroke-width="0.14">-2.5</text>
<text x="580.5" y="442.9" font-size="4.8" text-anchor="end" stroke="#000" stroke-width="0.14">-3.0</text>
<path d="M599.1 443.0v1.3M616.9 443.0v1.3M634.9 443.0v1.3M652.7 443.0v1.3M670.3 443.0v1.3M688.4 443.0v1.3M707.0 443.0v1.3M582.7 339.6h-1.3M582.7 351.0h-1.3M582.7 362.4h-1.3M582.7 373.4h-1.3M582.7 385.0h-1.3M582.7 396.2h-1.3M582.7 407.6h-1.3M582.7 418.8h-1.3M582.7 430.2h-1.3M582.7 441.5h-1.3" stroke="#333" stroke-width="0.4" fill="none"/>
<text x="736.4" y="327.8" font-size="6.2" text-anchor="end" fill="#555" font-family="'Liberation Serif',serif" stroke="none" letter-spacing="0.48">Stress = 0.101</text>
<circle cx="720.1" cy="332.6" r="1.9" fill="#E64B35"/>
<text x="724.8" y="334.2" font-size="4.6" fill="#222" stroke="#222" stroke-width="0.14">magnum</text>
<rect x="718.2" y="336.7" width="3.8" height="3.8" fill="#4DBBD5"/>
<text x="724.8" y="340.2" font-size="4.6" fill="#222" stroke="#222" stroke-width="0.14">EW</text>
<path d="M720.1 342.3l2.3 4.0h-4.6z" fill="#00A087"/>
<text x="724.8" y="346.2" font-size="4.6" fill="#222" stroke="#222" stroke-width="0.14">E15</text>
<path d="M720.1 347.7l1.9 2.8l-1.9 2.8l-1.9 -2.8z" fill="#3C5488"/>
<text x="724.8" y="352.2" font-size="4.6" fill="#222" stroke="#222" stroke-width="0.14">E21</text>
<text x="559.5" y="386.0" font-size="5.3" text-anchor="middle" fill="#111" transform="rotate(-90 559.5 386.0)" stroke="#111" stroke-width="0.14">NMDS2</text>
<text x="645.5" y="461.2" font-size="5.3" text-anchor="middle" fill="#111" stroke="#111" stroke-width="0.14">NMDS1</text>
<text x="552.6" y="316.9" font-size="13.6" font-weight="bold">e</text>
</g>
<g id="pf">
<ellipse cx="631.1" cy="524.1" rx="43.6" ry="11.0" transform="rotate(-6 631.1 524.1)" fill="#4DBBD5" fill-opacity="0.22" stroke="#4DBBD5" stroke-opacity="0.9" stroke-width="0.35"/>
<ellipse cx="661.1" cy="532.8" rx="7.9" ry="52.2" transform="rotate(6 661.1 532.8)" fill="#E64B35" fill-opacity="0.2" stroke="#E64B35" stroke-opacity="0.9" stroke-width="0.35"/>
<clipPath id="ov1"><ellipse cx="631.1" cy="524.1" rx="43.6" ry="11.0" transform="rotate(-6 631.1 524.1)"/></clipPath><g clip-path="url(#ov1)"><ellipse cx="661.1" cy="532.8" rx="7.9" ry="52.2" transform="rotate(6 661.1 532.8)" fill="#dadada" fill-opacity="0.7"/></g>
<ellipse cx="695.8" cy="526.3" rx="7.7" ry="6.1" transform="rotate(0 695.8 526.3)" fill="#F39B7F" fill-opacity="0.3" stroke="#F39B7F" stroke-opacity="0.9" stroke-width="0.35"/>
<ellipse cx="695.8" cy="526.3" rx="5.3" ry="3.9" transform="rotate(0 695.8 526.3)" fill="#8491B4" fill-opacity="0.25" stroke="#8491B4" stroke-opacity="0.7" stroke-width="0.35"/>
<ellipse cx="625.0" cy="526.5" rx="8.3" ry="2.4" transform="rotate(-3 625.0 526.5)" fill="#00A087" fill-opacity="0.3" stroke="#00A087" stroke-opacity="0.8" stroke-width="0.35"/>
<rect x="624.7" y="526.5" width="1.4" height="1.4" fill="#00A087"/>
<rect x="626.8" y="527.1" width="1.4" height="1.4" fill="#00A087"/>
<rect x="626.1" y="527.1" width="1.4" height="1.4" fill="#00A087"/>
<rect x="617.4" y="525.7" width="1.4" height="1.4" fill="#00A087"/>
<rect x="628.6" y="526.2" width="1.4" height="1.4" fill="#00A087"/>
<rect x="628.1" y="524.6" width="1.4" height="1.4" fill="#00A087"/>
<rect x="622.8" y="525.0" width="1.4" height="1.4" fill="#00A087"/>
<rect x="623.7" y="526.0" width="1.4" height="1.4" fill="#00A087"/>
<rect x="617.2" y="524.9" width="1.4" height="1.4" fill="#00A087"/>
<rect x="620.5" y="527.1" width="1.4" height="1.4" fill="#00A087"/>
<rect x="627.5" y="524.9" width="1.4" height="1.4" fill="#3C5488"/>
<rect x="627.8" y="524.8" width="1.4" height="1.4" fill="#3C5488"/>
<rect x="626.1" y="524.8" width="1.4" height="1.4" fill="#3C5488"/>
<rect x="620.1" y="526.8" width="1.4" height="1.4" fill="#3C5488"/>
<rect x="622.1" y="525.0" width="1.4" height="1.4" fill="#3C5488"/>
<rect x="629.6" y="526.8" width="1.4" height="1.4" fill="#3C5488"/>
<rect x="622.9" y="527.0" width="1.4" height="1.4" fill="#3C5488"/>
<rect x="625.3" y="526.2" width="1.4" height="1.4" fill="#3C5488"/>
<rect x="622.1" y="526.9" width="1.4" height="1.4" fill="#3C5488"/>
<rect x="626.8" y="527.0" width="1.4" height="1.4" fill="#3C5488"/>
<circle cx="627.2" cy="523.4" r="0.8" fill="#4DBBD5"/>
<path d="M697.9 524.2l1.0 1.7h-1.9z" fill="#F39B7F"/>
<path d="M694.1 523.5l1.0 1.7h-1.9z" fill="#F39B7F"/>
<path d="M692.6 523.0l1.0 1.7h-1.9z" fill="#F39B7F"/>
<path d="M693.7 525.8l1.0 1.7h-1.9z" fill="#F39B7F"/>
<path d="M691.6 526.2l1.0 1.7h-1.9z" fill="#F39B7F"/>
<path d="M694.0 524.3l1.0 1.7h-1.9z" fill="#F39B7F"/>
<path d="M697.3 525.2l1.0 1.7h-1.9z" fill="#F39B7F"/>
<path d="M693.8 525.2l1.0 1.7h-1.9z" fill="#F39B7F"/>
<path d="M697.0 523.4l1.0 1.7h-1.9z" fill="#8491B4"/>
<path d="M698.7 523.2l1.0 1.7h-1.9z" fill="#8491B4"/>
<path d="M697.3 526.8l1.0 1.7h-1.9z" fill="#8491B4"/>
<path d="M692.8 526.6l1.0 1.7h-1.9z" fill="#8491B4"/>
<path d="M694.9 525.6l1.0 1.7h-1.9z" fill="#8491B4"/>
<path d="M692.7 523.3l1.0 1.7h-1.9z" fill="#8491B4"/>
<path d="M693.8 527.3l1.0 1.7h-1.9z" fill="#8491B4"/>
<path d="M693.9 526.4l1.0 1.7h-1.9z" fill="#8491B4"/>
<circle cx="670.1" cy="504.3" r="1.2" fill="#E64B35"/>
<circle cx="658.9" cy="535.0" r="1.2" fill="#E64B35"/>
<circle cx="662.0" cy="537.0" r="1.2" fill="#E64B35"/>
<circle cx="660.7" cy="577.5" r="1.2" fill="#E64B35"/>
<circle cx="660.5" cy="520.6" r="1.2" fill="#E64B35"/>
<circle cx="661.8" cy="527.1" r="1.2" fill="#E64B35"/>
<circle cx="665.5" cy="523.8" r="1.2" fill="#E64B35"/>
<circle cx="658.9" cy="521.2" r="1.2" fill="#E64B35"/>
<circle cx="656.8" cy="520.1" r="1.2" fill="#E64B35"/>
<circle cx="660.7" cy="511.4" r="1.2" fill="#4DBBD5"/>
<circle cx="663.3" cy="526.7" r="1.2" fill="#4DBBD5"/>
<circle cx="658.9" cy="524.1" r="1.2" fill="#4DBBD5"/>
<path d="M654.6 518.9l0.8 1.2l-0.8 1.2l-0.8 -1.2z" fill="#DC0000"/>
<path d="M657.8 519.4l0.8 1.2l-0.8 1.2l-0.8 -1.2z" fill="#DC0000"/>
<path d="M661.1 520.7l0.8 1.2l-0.8 1.2l-0.8 -1.2z" fill="#DC0000"/>
<path d="M664.4 522.2l0.8 1.2l-0.8 1.2l-0.8 -1.2z" fill="#DC0000"/>
<path d="M658.9 523.3l0.8 1.2l-0.8 1.2l-0.8 -1.2z" fill="#91D1C2"/>
<path d="M657.2 521.8l0.8 1.2l-0.8 1.2l-0.8 -1.2z" fill="#91D1C2"/>
<rect x="582.9" y="475.6" width="126.4" height="114.2" fill="none" stroke="#111" stroke-width="0.7"/>
<text x="595.8" y="595.4" font-size="5.0" text-anchor="middle" stroke="#000" stroke-width="0.14">-2.0</text>
<text x="611.4" y="595.4" font-size="5.0" text-anchor="middle" stroke="#000" stroke-width="0.14">-1.5</text>
<text x="626.7" y="595.4" font-size="5.0" text-anchor="middle" stroke="#000" stroke-width="0.14">-1.0</text>
<text x="642.3" y="595.4" font-size="5.0" text-anchor="middle" stroke="#000" stroke-width="0.14">-0.5</text>
<text x="657.6" y="595.4" font-size="5.0" text-anchor="middle" stroke="#000" stroke-width="0.14">0.0</text>
<text x="673.2" y="595.4" font-size="5.0" text-anchor="middle" stroke="#000" stroke-width="0.14">0.5</text>
<text x="688.7" y="595.4" font-size="5.0" text-anchor="middle" stroke="#000" stroke-width="0.14">1.0</text>
<text x="704.3" y="595.4" font-size="5.0" text-anchor="middle" stroke="#000" stroke-width="0.14">1.5</text>
<text x="580.7" y="482.5" font-size="5.0" text-anchor="end" stroke="#000" stroke-width="0.14">2.5</text>
<text x="580.7" y="491.5" font-size="5.0" text-anchor="end" stroke="#000" stroke-width="0.14">2.0</text>
<text x="580.7" y="500.5" font-size="5.0" text-anchor="end" stroke="#000" stroke-width="0.14">1.5</text>
<text x="580.7" y="509.5" font-size="5.0" text-anchor="end" stroke="#000" stroke-width="0.14">1.0</text>
<text x="580.7" y="518.5" font-size="5.0" text-anchor="end" stroke="#000" stroke-width="0.14">0.5</text>
<text x="580.7" y="527.5" font-size="5.0" text-anchor="end" stroke="#000" stroke-width="0.14">0.0</text>
<text x="580.7" y="536.6" font-size="5.0" text-anchor="end" stroke="#000" stroke-width="0.14">-0.5</text>
<text x="580.7" y="545.6" font-size="5.0" text-anchor="end" stroke="#000" stroke-width="0.14">-1.0</text>
<text x="580.7" y="554.6" font-size="5.0" text-anchor="end" stroke="#000" stroke-width="0.14">-1.5</text>
<text x="580.7" y="563.6" font-size="5.0" text-anchor="end" stroke="#000" stroke-width="0.14">-2.0</text>
<text x="580.7" y="572.6" font-size="5.0" text-anchor="end" stroke="#000" stroke-width="0.14">-2.5</text>
<text x="580.7" y="581.6" font-size="5.0" text-anchor="end" stroke="#000" stroke-width="0.14">-3.0</text>
<text x="580.7" y="590.6" font-size="5.0" text-anchor="end" stroke="#000" stroke-width="0.14">-3.5</text>
<path d="M595.8 589.8v1.3M611.4 589.8v1.3M626.7 589.8v1.3M642.3 589.8v1.3M657.6 589.8v1.3M673.2 589.8v1.3M688.7 589.8v1.3M704.3 589.8v1.3M582.9 481.1h-1.3M582.9 490.1h-1.3M582.9 499.1h-1.3M582.9 508.1h-1.3M582.9 517.1h-1.3M582.9 526.1h-1.3M582.9 535.2h-1.3M582.9 544.2h-1.3M582.9 553.2h-1.3M582.9 562.2h-1.3M582.9 571.2h-1.3M582.9 580.2h-1.3M582.9 589.2h-1.3" stroke="#333" stroke-width="0.4" fill="none"/>
<text x="736.7" y="473.0" font-size="5.8" text-anchor="end" fill="#555" stroke="none" letter-spacing="0.31">Stress = 0.101</text>
<circle cx="721.0" cy="478.0" r="2.2" fill="#E64B35"/>
<text x="725.3" y="479.7" font-size="4.9" fill="#222" stroke="#222" stroke-width="0.14">CON_mag</text>
<circle cx="721.0" cy="484.2" r="2.2" fill="#4DBBD5"/>
<text x="725.3" y="485.9" font-size="4.9" fill="#222" stroke="#222" stroke-width="0.14">CCAB_mag</text>
<rect x="718.8" y="488.2" width="4.4" height="4.4" fill="#00A087"/>
<text x="725.3" y="492.1" font-size="4.9" fill="#222" stroke="#222" stroke-width="0.14">CON_EW</text>
<rect x="718.8" y="494.4" width="4.4" height="4.4" fill="#3C5488"/>
<text x="725.3" y="498.3" font-size="4.9" fill="#222" stroke="#222" stroke-width="0.14">CCAB_EW</text>
<path d="M721.0 500.1l2.6 4.6h-5.3z" fill="#F39B7F"/>
<text x="725.3" y="504.5" font-size="4.9" fill="#222" stroke="#222" stroke-width="0.14">E15eCON</text>
<path d="M721.0 506.3l2.6 4.6h-5.3z" fill="#8491B4"/>
<text x="725.3" y="510.6" font-size="4.9" fill="#222" stroke="#222" stroke-width="0.14">E15eCCAB</text>
<path d="M721.0 511.8l2.2 3.3l-2.2 3.3l-2.2 -3.3z" fill="#91D1C2"/>
<text x="725.3" y="516.8" font-size="4.9" fill="#222" stroke="#222" stroke-width="0.14">E21eCON</text>
<path d="M721.0 518.0l2.2 3.3l-2.2 3.3l-2.2 -3.3z" fill="#DC0000"/>
<text x="725.3" y="523.0" font-size="4.9" fill="#222" stroke="#222" stroke-width="0.14">E21eCCAB</text>
<text x="560.0" y="532.8" font-size="5.3" text-anchor="middle" fill="#111" transform="rotate(-90 560.0 532.8)" stroke="#111" stroke-width="0.14">NMDS2</text>
<text x="645.1" y="609.3" font-size="5.3" text-anchor="middle" fill="#111" stroke="#111" stroke-width="0.14">NMDS1</text>
<text x="552.6" y="470.6" font-size="13.6" font-weight="bold">f</text>
</g>
<g id="pg">
<rect x="756.9" y="321.6" width="382.8" height="291.9" fill="#fff" stroke="#2F9BD0" stroke-width="0.9"/>
<ellipse cx="847.6" cy="391.8" rx="72.1" ry="13.8" transform="rotate(39.8 847.6 391.8)" fill="#E64B35" fill-opacity="0.2" stroke="#E64B35" stroke-opacity="0.9" stroke-width="0.35"/>
<ellipse cx="875.5" cy="376.6" rx="46.7" ry="10.5" transform="rotate(-55.3 875.5 376.6)" fill="#4DBBD5" fill-opacity="0.22" stroke="#4DBBD5" stroke-opacity="0.9" stroke-width="0.35"/>
<clipPath id="ov2"><ellipse cx="847.6" cy="391.8" rx="72.1" ry="13.8" transform="rotate(39.8 847.6 391.8)"/></clipPath><g clip-path="url(#ov2)"><ellipse cx="875.5" cy="376.6" rx="46.7" ry="10.5" transform="rotate(-55.3 875.5 376.6)" fill="#dadada" fill-opacity="0.7"/></g>
<circle cx="810.1" cy="365.2" r="1.2" fill="#E64B35"/>
<circle cx="841.1" cy="380.0" r="1.2" fill="#E64B35"/>
<circle cx="846.0" cy="385.5" r="1.2" fill="#E64B35"/>
<circle cx="840.9" cy="394.2" r="1.2" fill="#E64B35"/>
<circle cx="863.9" cy="406.8" r="1.2" fill="#E64B35"/>
<circle cx="880.0" cy="369.2" r="1.2" fill="#4DBBD5"/>
<circle cx="877.3" cy="372.6" r="1.2" fill="#4DBBD5"/>
<circle cx="875.1" cy="373.0" r="1.2" fill="#4DBBD5"/>
<circle cx="847.2" cy="406.8" r="1.2" fill="#4DBBD5"/>
<circle cx="865.5" cy="406.3" r="1.2" fill="#4DBBD5"/>
<rect x="785.7" y="332.4" width="124.0" height="111.7" fill="none" stroke="#222" stroke-width="0.6"/>
<text x="794.2" y="449.7" font-size="4.7" text-anchor="middle" stroke="#000" stroke-width="0.14">-2.5</text>
<text x="807.0" y="449.7" font-size="4.7" text-anchor="middle" stroke="#000" stroke-width="0.14">-2.0</text>
<text x="819.7" y="449.7" font-size="4.7" text-anchor="middle" stroke="#000" stroke-width="0.14">-1.5</text>
<text x="832.5" y="449.7" font-size="4.7" text-anchor="middle" stroke="#000" stroke-width="0.14">-1.0</text>
<text x="845.2" y="449.7" font-size="4.7" text-anchor="middle" stroke="#000" stroke-width="0.14">-0.5</text>
<text x="858.0" y="449.7" font-size="4.7" text-anchor="middle" stroke="#000" stroke-width="0.14">0.0</text>
<text x="870.7" y="449.7" font-size="4.7" text-anchor="middle" stroke="#000" stroke-width="0.14">0.5</text>
<text x="883.5" y="449.7" font-size="4.7" text-anchor="middle" stroke="#000" stroke-width="0.14">1.0</text>
<text x="896.2" y="449.7" font-size="4.7" text-anchor="middle" stroke="#000" stroke-width="0.14">1.5</text>
<text x="909.0" y="449.7" font-size="4.7" text-anchor="middle" stroke="#000" stroke-width="0.14">2.0</text>
<text x="783.5" y="336.5" font-size="4.7" text-anchor="end" stroke="#000" stroke-width="0.14">2.0</text>
<text x="783.5" y="349.4" font-size="4.7" text-anchor="end" stroke="#000" stroke-width="0.14">1.5</text>
<text x="783.5" y="362.3" font-size="4.7" text-anchor="end" stroke="#000" stroke-width="0.14">1.0</text>
<text x="783.5" y="375.3" font-size="4.7" text-anchor="end" stroke="#000" stroke-width="0.14">0.5</text>
<text x="783.5" y="388.2" font-size="4.7" text-anchor="end" stroke="#000" stroke-width="0.14">0.0</text>
<text x="783.5" y="401.1" font-size="4.7" text-anchor="end" stroke="#000" stroke-width="0.14">-0.5</text>
<text x="783.5" y="414.1" font-size="4.7" text-anchor="end" stroke="#000" stroke-width="0.14">-1.0</text>
<text x="783.5" y="427.0" font-size="4.7" text-anchor="end" stroke="#000" stroke-width="0.14">-1.5</text>
<text x="783.5" y="439.9" font-size="4.7" text-anchor="end" stroke="#000" stroke-width="0.14">-2.0</text>
<path d="M794.2 444.1v1.3M807.0 444.1v1.3M819.7 444.1v1.3M832.5 444.1v1.3M845.2 444.1v1.3M858.0 444.1v1.3M870.7 444.1v1.3M883.5 444.1v1.3M896.2 444.1v1.3M909.0 444.1v1.3M785.7 335.1h-1.3M785.7 348.0h-1.3M785.7 360.9h-1.3M785.7 373.9h-1.3M785.7 386.8h-1.3M785.7 399.7h-1.3M785.7 412.7h-1.3M785.7 425.6h-1.3M785.7 438.5h-1.3" stroke="#333" stroke-width="0.4" fill="none"/>
<text x="788.0" y="338.9" font-size="5.6" font-weight="bold">magnum</text>
<text x="937.2" y="329.7" font-size="5.8" text-anchor="end" fill="#555" stroke="none" letter-spacing="0.31">Stress = 0.118</text>
<circle cx="921.1" cy="334.6" r="2.1" fill="#E64B35"/>
<text x="925.3" y="336.3" font-size="4.9" fill="#222" stroke="#222" stroke-width="0.14">CON_mag</text>
<circle cx="921.1" cy="341.1" r="2.1" fill="#4DBBD5"/>
<text x="925.3" y="342.8" font-size="4.9" fill="#222" stroke="#222" stroke-width="0.14">CCAB_mag</text>
<text x="762.5" y="387.8" font-size="5.0" text-anchor="middle" fill="#111" transform="rotate(-90 762.5 387.8)" stroke="#111" stroke-width="0.14">NMDS2</text>
<text x="847.6" y="463.0" font-size="5.0" text-anchor="middle" fill="#111" stroke="#111" stroke-width="0.14">NMDS1</text>
<ellipse cx="1026.9" cy="401.8" rx="49.8" ry="34.8" transform="rotate(-12 1026.9 401.8)" fill="#E64B35" fill-opacity="0.2" stroke="#E64B35" stroke-opacity="0.9" stroke-width="0.35"/>
<path d="M1023.6 336.9V439.6" stroke="#4DBBD5" stroke-width="0.4" stroke-opacity="0.8"/>
<rect x="1022.5" y="386.4" width="2.2" height="2.2" fill="#E64B35"/>
<rect x="1022.5" y="390.9" width="2.2" height="2.2" fill="#E64B35"/>
<rect x="1022.5" y="406.5" width="2.2" height="2.2" fill="#E64B35"/>
<rect x="1022.5" y="416.6" width="2.2" height="2.2" fill="#E64B35"/>
<rect x="1090.6" y="392.7" width="2.2" height="2.2" fill="#E64B35"/>
<rect x="1022.5" y="348.9" width="2.2" height="2.2" fill="#4DBBD5"/>
<rect x="1022.5" y="381.1" width="2.2" height="2.2" fill="#4DBBD5"/>
<rect x="1022.5" y="385.6" width="2.2" height="2.2" fill="#4DBBD5"/>
<rect x="1022.5" y="394.5" width="2.2" height="2.2" fill="#4DBBD5"/>
<rect x="1022.5" y="398.3" width="2.2" height="2.2" fill="#4DBBD5"/>
<rect x="1022.5" y="403.9" width="2.2" height="2.2" fill="#4DBBD5"/>
<rect x="971.8" y="331.3" width="125.5" height="113.9" fill="none" stroke="#999" stroke-width="0.5"/>
<text x="974.0" y="450.8" font-size="4.7" text-anchor="middle" stroke="#000" stroke-width="0.14">-3.0</text>
<text x="983.4" y="450.8" font-size="4.7" text-anchor="middle" stroke="#000" stroke-width="0.14">-2.5</text>
<text x="992.8" y="450.8" font-size="4.7" text-anchor="middle" stroke="#000" stroke-width="0.14">-2.0</text>
<text x="1002.1" y="450.8" font-size="4.7" text-anchor="middle" stroke="#000" stroke-width="0.14">-1.5</text>
<text x="1011.5" y="450.8" font-size="4.7" text-anchor="middle" stroke="#000" stroke-width="0.14">-1.0</text>
<text x="1020.9" y="450.8" font-size="4.7" text-anchor="middle" stroke="#000" stroke-width="0.14">-0.5</text>
<text x="1030.3" y="450.8" font-size="4.7" text-anchor="middle" stroke="#000" stroke-width="0.14">0.0</text>
<text x="1039.7" y="450.8" font-size="4.7" text-anchor="middle" stroke="#000" stroke-width="0.14">0.5</text>
<text x="1049.1" y="450.8" font-size="4.7" text-anchor="middle" stroke="#000" stroke-width="0.14">1.0</text>
<text x="1058.4" y="450.8" font-size="4.7" text-anchor="middle" stroke="#000" stroke-width="0.14">1.5</text>
<text x="1067.8" y="450.8" font-size="4.7" text-anchor="middle" stroke="#000" stroke-width="0.14">2.0</text>
<text x="1077.2" y="450.8" font-size="4.7" text-anchor="middle" stroke="#000" stroke-width="0.14">2.5</text>
<text x="1086.6" y="450.8" font-size="4.7" text-anchor="middle" stroke="#000" stroke-width="0.14">3.0</text>
<text x="1096.0" y="450.8" font-size="4.7" text-anchor="middle" stroke="#000" stroke-width="0.14">3.5</text>
<text x="969.6" y="335.8" font-size="4.7" text-anchor="end" stroke="#000" stroke-width="0.14">0.0030</text>
<text x="969.6" y="345.7" font-size="4.7" text-anchor="end" stroke="#000" stroke-width="0.14">0.0025</text>
<text x="969.6" y="355.6" font-size="4.7" text-anchor="end" stroke="#000" stroke-width="0.14">0.0020</text>
<text x="969.6" y="365.5" font-size="4.7" text-anchor="end" stroke="#000" stroke-width="0.14">0.0015</text>
<text x="969.6" y="375.4" font-size="4.7" text-anchor="end" stroke="#000" stroke-width="0.14">0.0010</text>
<text x="969.6" y="385.3" font-size="4.7" text-anchor="end" stroke="#000" stroke-width="0.14">0.0005</text>
<text x="969.6" y="395.2" font-size="4.7" text-anchor="end" stroke="#000" stroke-width="0.14">0.0000</text>
<text x="969.6" y="405.1" font-size="4.7" text-anchor="end" stroke="#000" stroke-width="0.14">-0.0005</text>
<text x="969.6" y="414.9" font-size="4.7" text-anchor="end" stroke="#000" stroke-width="0.14">-0.0010</text>
<text x="969.6" y="424.8" font-size="4.7" text-anchor="end" stroke="#000" stroke-width="0.14">-0.0015</text>
<text x="969.6" y="434.7" font-size="4.7" text-anchor="end" stroke="#000" stroke-width="0.14">-0.0020</text>
<text x="969.6" y="444.6" font-size="4.7" text-anchor="end" stroke="#000" stroke-width="0.14">-0.0025</text>
<path d="M974.0 445.2v1.3M983.4 445.2v1.3M992.8 445.2v1.3M1002.1 445.2v1.3M1011.5 445.2v1.3M1020.9 445.2v1.3M1030.3 445.2v1.3M1039.7 445.2v1.3M1049.1 445.2v1.3M1058.4 445.2v1.3M1067.8 445.2v1.3M1077.2 445.2v1.3M1086.6 445.2v1.3M1096.0 445.2v1.3M971.8 334.4h-1.3M971.8 344.3h-1.3M971.8 354.2h-1.3M971.8 364.1h-1.3M971.8 374.0h-1.3M971.8 383.9h-1.3M971.8 393.8h-1.3M971.8 403.7h-1.3M971.8 413.5h-1.3M971.8 423.4h-1.3M971.8 433.3h-1.3M971.8 443.2h-1.3" stroke="#333" stroke-width="0.4" fill="none"/>
<text x="974.0" y="340.2" font-size="6.6" font-weight="bold">EW</text>
<text x="1133.7" y="329.3" font-size="6.0" text-anchor="end" fill="#555" stroke="none" letter-spacing="0.3">Stress = 0.0000967</text>
<rect x="1107.6" y="331.9" width="4.0" height="4.0" fill="#E64B35"/>
<text x="1113.6" y="335.6" font-size="4.9" fill="#222" stroke="#222" stroke-width="0.14">CON_EW</text>
<rect x="1107.6" y="338.4" width="4.0" height="4.0" fill="#4DBBD5"/>
<text x="1113.6" y="342.1" font-size="4.9" fill="#222" stroke="#222" stroke-width="0.14">CCAB_EW</text>
<text x="948.3" y="388.2" font-size="5.0" text-anchor="middle" fill="#111" transform="rotate(-90 948.3 388.2)" stroke="#111" stroke-width="0.14">NMDS2</text>
<text x="1034.8" y="464.8" font-size="5.0" text-anchor="middle" fill="#111" stroke="#111" stroke-width="0.14">NMDS1</text>
<ellipse cx="848.7" cy="532.1" rx="69.9" ry="31.5" transform="rotate(40.6 848.7 532.1)" fill="#E64B35" fill-opacity="0.2" stroke="#E64B35" stroke-opacity="0.9" stroke-width="0.35"/>
<ellipse cx="855.4" cy="540.8" rx="53.2" ry="29.0" transform="rotate(-20 855.4 540.8)" fill="#4DBBD5" fill-opacity="0.22" stroke="#4DBBD5" stroke-opacity="0.9" stroke-width="0.35"/>
<clipPath id="ov3"><ellipse cx="848.7" cy="532.1" rx="69.9" ry="31.5" transform="rotate(40.6 848.7 532.1)"/></clipPath><g clip-path="url(#ov3)"><ellipse cx="855.4" cy="540.8" rx="53.2" ry="29.0" transform="rotate(-20 855.4 540.8)" fill="#dadada" fill-opacity="0.7"/></g>
<path d="M804.3 499.8l1.5 2.6h-3.0z" fill="#E64B35"/>
<path d="M840.9 516.6l1.5 2.6h-3.0z" fill="#E64B35"/>
<path d="M864.3 528.2l1.5 2.6h-3.0z" fill="#E64B35"/>
<path d="M857.2 538.2l1.5 2.6h-3.0z" fill="#E64B35"/>
<path d="M843.6 557.4l1.5 2.6h-3.0z" fill="#E64B35"/>
<path d="M850.3 525.9l1.5 2.6h-3.0z" fill="#4DBBD5"/>
<path d="M858.8 536.0l1.5 2.6h-3.0z" fill="#4DBBD5"/>
<path d="M861.7 537.8l1.5 2.6h-3.0z" fill="#4DBBD5"/>
<path d="M862.1 552.3l1.5 2.6h-3.0z" fill="#4DBBD5"/>
<path d="M794.0 568.6l1.5 2.6h-3.0z" fill="#4DBBD5"/>
<rect x="786.9" y="476.1" width="124.4" height="113.0" fill="none" stroke="#999" stroke-width="0.5"/>
<path d="M786.9 476.1V589.1" stroke="#555" stroke-width="1"/>
<text x="788.4" y="594.7" font-size="4.7" text-anchor="middle" stroke="#000" stroke-width="0.14">-2.0</text>
<text x="803.0" y="594.7" font-size="4.7" text-anchor="middle" stroke="#000" stroke-width="0.14">-1.5</text>
<text x="817.5" y="594.7" font-size="4.7" text-anchor="middle" stroke="#000" stroke-width="0.14">-1.0</text>
<text x="832.1" y="594.7" font-size="4.7" text-anchor="middle" stroke="#000" stroke-width="0.14">-0.5</text>
<text x="846.7" y="594.7" font-size="4.7" text-anchor="middle" stroke="#000" stroke-width="0.14">0.0</text>
<text x="861.2" y="594.7" font-size="4.7" text-anchor="middle" stroke="#000" stroke-width="0.14">0.5</text>
<text x="875.8" y="594.7" font-size="4.7" text-anchor="middle" stroke="#000" stroke-width="0.14">1.0</text>
<text x="890.3" y="594.7" font-size="4.7" text-anchor="middle" stroke="#000" stroke-width="0.14">1.5</text>
<text x="904.9" y="594.7" font-size="4.7" text-anchor="middle" stroke="#000" stroke-width="0.14">2.0</text>
<text x="784.7" y="486.0" font-size="4.7" text-anchor="end" stroke="#000" stroke-width="0.14">2.0</text>
<text x="784.7" y="499.4" font-size="4.7" text-anchor="end" stroke="#000" stroke-width="0.14">1.5</text>
<text x="784.7" y="512.8" font-size="4.7" text-anchor="end" stroke="#000" stroke-width="0.14">1.0</text>
<text x="784.7" y="526.2" font-size="4.7" text-anchor="end" stroke="#000" stroke-width="0.14">0.5</text>
<text x="784.7" y="539.6" font-size="4.7" text-anchor="end" stroke="#000" stroke-width="0.14">0.0</text>
<text x="784.7" y="553.0" font-size="4.7" text-anchor="end" stroke="#000" stroke-width="0.14">-0.5</text>
<text x="784.7" y="566.4" font-size="4.7" text-anchor="end" stroke="#000" stroke-width="0.14">-1.0</text>
<text x="784.7" y="579.8" font-size="4.7" text-anchor="end" stroke="#000" stroke-width="0.14">-1.5</text>
<path d="M788.4 589.1v1.3M803.0 589.1v1.3M817.5 589.1v1.3M832.1 589.1v1.3M846.7 589.1v1.3M861.2 589.1v1.3M875.8 589.1v1.3M890.3 589.1v1.3M904.9 589.1v1.3M786.9 484.6h-1.3M786.9 498.0h-1.3M786.9 511.4h-1.3M786.9 524.8h-1.3M786.9 538.2h-1.3M786.9 551.6h-1.3M786.9 565.0h-1.3M786.9 578.4h-1.3" stroke="#333" stroke-width="0.4" fill="none"/>
<text x="788.4" y="483.2" font-size="6.4" font-weight="bold">E15</text>
<text x="942.1" y="473.4" font-size="5.8" text-anchor="end" fill="#555" stroke="none" letter-spacing="0.31">Stress = 0.0706</text>
<path d="M923.5 476.1l2.6 4.6h-5.3z" fill="#E64B35"/>
<text x="928.7" y="480.6" font-size="5.2" fill="#222" stroke="#222" stroke-width="0.14">E15eCON</text>
<path d="M923.5 483.0l2.6 4.6h-5.3z" fill="#4DBBD5"/>
<text x="928.7" y="487.5" font-size="5.2" fill="#222" stroke="#222" stroke-width="0.14">E15eCCAB</text>
<text x="763.0" y="532.1" font-size="5.0" text-anchor="middle" fill="#111" transform="rotate(-90 763.0 532.1)" stroke="#111" stroke-width="0.14">NMDS2</text>
<text x="849.6" y="608.3" font-size="5.0" text-anchor="middle" fill="#111" stroke="#111" stroke-width="0.14">NMDS1</text>
<ellipse cx="1037.8" cy="532.6" rx="66.3" ry="33.7" transform="rotate(44.5 1037.8 532.6)" fill="#E64B35" fill-opacity="0.2" stroke="#E64B35" stroke-opacity="0.9" stroke-width="0.35"/>
<ellipse cx="1019.1" cy="554.2" rx="42.4" ry="22.3" transform="rotate(-8 1019.1 554.2)" fill="#4DBBD5" fill-opacity="0.22" stroke="#4DBBD5" stroke-opacity="0.9" stroke-width="0.35"/>
<clipPath id="ov4"><ellipse cx="1037.8" cy="532.6" rx="66.3" ry="33.7" transform="rotate(44.5 1037.8 532.6)"/></clipPath><g clip-path="url(#ov4)"><ellipse cx="1019.1" cy="554.2" rx="42.4" ry="22.3" transform="rotate(-8 1019.1 554.2)" fill="#dadada" fill-opacity="0.7"/></g>
<path d="M1033.0 504.1l1.1 1.7l-1.1 1.7l-1.1 -1.7z" fill="#E64B35"/>
<path d="M1012.4 524.5l1.1 1.7l-1.1 1.7l-1.1 -1.7z" fill="#E64B35"/>
<path d="M1045.3 524.9l1.1 1.7l-1.1 1.7l-1.1 -1.7z" fill="#E64B35"/>
<path d="M1030.1 530.3l1.1 1.7l-1.1 1.7l-1.1 -1.7z" fill="#E64B35"/>
<path d="M1041.2 541.4l1.1 1.7l-1.1 1.7l-1.1 -1.7z" fill="#E64B35"/>
<path d="M1070.3 560.6l1.1 1.7l-1.1 1.7l-1.1 -1.7z" fill="#E64B35"/>
<path d="M996.3 538.3l1.1 1.7l-1.1 1.7l-1.1 -1.7z" fill="#4DBBD5"/>
<path d="M1015.5 551.0l1.1 1.7l-1.1 1.7l-1.1 -1.7z" fill="#4DBBD5"/>
<path d="M1032.5 551.0l1.1 1.7l-1.1 1.7l-1.1 -1.7z" fill="#4DBBD5"/>
<path d="M1036.8 547.2l1.1 1.7l-1.1 1.7l-1.1 -1.7z" fill="#4DBBD5"/>
<path d="M1010.9 557.7l1.1 1.7l-1.1 1.7l-1.1 -1.7z" fill="#4DBBD5"/>
<path d="M1011.1 563.5l1.1 1.7l-1.1 1.7l-1.1 -1.7z" fill="#4DBBD5"/>
<rect x="971.1" y="476.1" width="125.5" height="113.0" fill="none" stroke="#222" stroke-width="0.6"/>
<text x="975.1" y="594.7" font-size="5.0" text-anchor="middle" stroke="#000" stroke-width="0.14">-2.5</text>
<text x="985.8" y="594.7" font-size="5.0" text-anchor="middle" stroke="#000" stroke-width="0.14">-2.0</text>
<text x="996.4" y="594.7" font-size="5.0" text-anchor="middle" stroke="#000" stroke-width="0.14">-1.5</text>
<text x="1007.0" y="594.7" font-size="5.0" text-anchor="middle" stroke="#000" stroke-width="0.14">-1.0</text>
<text x="1017.6" y="594.7" font-size="5.0" text-anchor="middle" stroke="#000" stroke-width="0.14">-0.5</text>
<text x="1028.3" y="594.7" font-size="5.0" text-anchor="middle" stroke="#000" stroke-width="0.14">0.0</text>
<text x="1038.9" y="594.7" font-size="5.0" text-anchor="middle" stroke="#000" stroke-width="0.14">0.5</text>
<text x="1049.5" y="594.7" font-size="5.0" text-anchor="middle" stroke="#000" stroke-width="0.14">1.0</text>
<text x="1060.2" y="594.7" font-size="5.0" text-anchor="middle" stroke="#000" stroke-width="0.14">1.5</text>
<text x="1070.8" y="594.7" font-size="5.0" text-anchor="middle" stroke="#000" stroke-width="0.14">2.0</text>
<text x="1081.4" y="594.7" font-size="5.0" text-anchor="middle" stroke="#000" stroke-width="0.14">2.5</text>
<text x="1092.1" y="594.7" font-size="5.0" text-anchor="middle" stroke="#000" stroke-width="0.14">3.0</text>
<text x="968.9" y="484.5" font-size="5.0" text-anchor="end" stroke="#000" stroke-width="0.14">1.6</text>
<text x="968.9" y="492.2" font-size="5.0" text-anchor="end" stroke="#000" stroke-width="0.14">1.4</text>
<text x="968.9" y="499.8" font-size="5.0" text-anchor="end" stroke="#000" stroke-width="0.14">1.2</text>
<text x="968.9" y="507.4" font-size="5.0" text-anchor="end" stroke="#000" stroke-width="0.14">1.0</text>
<text x="968.9" y="515.1" font-size="5.0" text-anchor="end" stroke="#000" stroke-width="0.14">0.8</text>
<text x="968.9" y="522.7" font-size="5.0" text-anchor="end" stroke="#000" stroke-width="0.14">0.6</text>
<text x="968.9" y="530.3" font-size="5.0" text-anchor="end" stroke="#000" stroke-width="0.14">0.4</text>
<text x="968.9" y="538.0" font-size="5.0" text-anchor="end" stroke="#000" stroke-width="0.14">0.2</text>
<text x="968.9" y="545.6" font-size="5.0" text-anchor="end" stroke="#000" stroke-width="0.14">0.0</text>
<text x="968.9" y="553.3" font-size="5.0" text-anchor="end" stroke="#000" stroke-width="0.14">-0.2</text>
<text x="968.9" y="560.9" font-size="5.0" text-anchor="end" stroke="#000" stroke-width="0.14">-0.4</text>
<text x="968.9" y="568.5" font-size="5.0" text-anchor="end" stroke="#000" stroke-width="0.14">-0.6</text>
<text x="968.9" y="576.2" font-size="5.0" text-anchor="end" stroke="#000" stroke-width="0.14">-0.8</text>
<text x="968.9" y="583.8" font-size="5.0" text-anchor="end" stroke="#000" stroke-width="0.14">-1.0</text>
<text x="968.9" y="591.5" font-size="5.0" text-anchor="end" stroke="#000" stroke-width="0.14">-1.2</text>
<path d="M975.1 589.1v1.3M985.8 589.1v1.3M996.4 589.1v1.3M1007.0 589.1v1.3M1017.6 589.1v1.3M1028.3 589.1v1.3M1038.9 589.1v1.3M1049.5 589.1v1.3M1060.2 589.1v1.3M1070.8 589.1v1.3M1081.4 589.1v1.3M1092.1 589.1v1.3M971.1 483.1h-1.3M971.1 490.8h-1.3M971.1 498.4h-1.3M971.1 506.0h-1.3M971.1 513.7h-1.3M971.1 521.3h-1.3M971.1 528.9h-1.3M971.1 536.6h-1.3M971.1 544.2h-1.3M971.1 551.9h-1.3M971.1 559.5h-1.3M971.1 567.1h-1.3M971.1 574.8h-1.3M971.1 582.4h-1.3M971.1 590.1h-1.3" stroke="#333" stroke-width="0.4" fill="none"/>
<text x="973.8" y="483.2" font-size="6.4" font-weight="bold">E21</text>
<text x="1127.4" y="473.4" font-size="5.8" text-anchor="end" fill="#555" stroke="none" letter-spacing="0.31">Stress = 0.0572</text>
<path d="M1108.5 476.4l1.9 2.8l-1.9 2.8l-1.9 -2.8z" fill="#E64B35"/>
<text x="1112.7" y="481.0" font-size="5.2" fill="#222" stroke="#222" stroke-width="0.14">E21eCON</text>
<path d="M1108.5 484.0l1.9 2.8l-1.9 2.8l-1.9 -2.8z" fill="#4DBBD5"/>
<text x="1112.7" y="488.6" font-size="5.2" fill="#222" stroke="#222" stroke-width="0.14">E21eCCAB</text>
<text x="1034.1" y="609.2" font-size="5.2" text-anchor="middle" font-weight="bold" fill="#111">NMDS1</text>
<text x="889.6" y="627.5" font-size="6.6" text-anchor="middle" font-weight="bold">E15</text>
<text x="1037.0" y="627.5" font-size="6.6" text-anchor="middle" font-weight="bold">E21</text>
<text x="765.5" y="314.0" font-size="13.6" font-weight="bold">g</text>
</g>
<g id="ph">
<circle cx="746.0" cy="689.4" r="52.3" fill="#79C5DB"/>
<path d="M746.0 689.4L746.0 637.1A52.3 52.3 0 1 1 710.47 727.77Z" fill="#E57167"/>
<circle cx="889.4" cy="689.4" r="52.3" fill="#79C5DB"/>
<path d="M889.4 689.4L889.4 637.1A52.3 52.3 0 0 1 940.00 676.23Z" fill="#E57167"/>
<circle cx="1037.8" cy="689.4" r="52.3" fill="#79C5DB"/>
<path d="M1037.8 689.4L1037.8 637.1A52.3 52.3 0 1 1 986.36 698.87Z" fill="#E57167"/>
<text x="719.9" y="684.0" font-size="8.5" text-anchor="middle" stroke="#000" stroke-width="0.1">38.13%</text>
<text x="775.5" y="699.1" font-size="8.5" text-anchor="middle" stroke="#000" stroke-width="0.1">61.89%</text>
<text x="912.8" y="668.9" font-size="8.5" text-anchor="middle" stroke="#000" stroke-width="0.1">20.95%</text>
<text x="877.0" y="715.8" font-size="8.5" text-anchor="middle" stroke="#000" stroke-width="0.1">79.05%</text>
<text x="1011.3" y="672.6" font-size="8.5" text-anchor="middle" stroke="#000" stroke-width="0.1">27.9%</text>
<text x="1065.9" y="705.1" font-size="8.5" text-anchor="middle" stroke="#000" stroke-width="0.1">72.1%</text>
<text x="741.6" y="627.7" font-size="6.6" text-anchor="middle" font-weight="bold" fill="#111">EW</text>
<text x="889.4" y="627.7" font-size="6.6" text-anchor="middle" font-weight="bold" fill="#111">E15</text>
<text x="1037.5" y="627.7" font-size="6.6" text-anchor="middle" font-weight="bold" fill="#111">E21</text>
<rect x="590.2" y="633.1" width="63.3" height="27.5" fill="#fff" stroke="#000" stroke-width="0.6"/>
<rect x="594.2" y="637.5" width="10.1" height="5.4" fill="#E57167"/>
<text x="610.7" y="643.0" font-size="8.6" stroke="#000" stroke-width="0.15">magnum</text>
<rect x="594.2" y="647.5" width="10.1" height="5.4" fill="#79C5DB"/>
<text x="610.7" y="653.0" font-size="8.6" stroke="#000" stroke-width="0.15">unknow</text>
<text x="552.0" y="635.2" font-size="13.6" font-weight="bold">h</text>
</g>
<g id="gotop">
<path d="M1218.4 13.2H1775.8" stroke="#aaa" stroke-width="0.6" fill="none"/>
<path d="M1775.8 13.2V141.8" stroke="#aaa" stroke-width="0.6" fill="none"/>
<rect x="1224.00" y="33.00" width="12.5" height="108.80" fill="#1677AF"/>
<text x="1232.7" y="32.2" font-size="6.9" transform="rotate(-90 1232.7 32.2)" stroke="#000" stroke-width="0.15">9/101</text>
<text x="1232.2" y="151.1" font-size="7.58" text-anchor="end" transform="rotate(-45 1232.2 151.1)" stroke="#000" stroke-width="0.15">defense response to bacterium</text>
<rect x="1242.32" y="45.35" width="12.5" height="96.45" fill="#1677AF"/>
<text x="1251.1" y="44.6" font-size="6.9" transform="rotate(-90 1251.1 44.6)" stroke="#000" stroke-width="0.15">10/214</text>
<text x="1250.6" y="151.1" font-size="7.58" text-anchor="end" transform="rotate(-45 1250.6 151.1)" stroke="#000" stroke-width="0.15">defense response to other organism</text>
<rect x="1260.64" y="66.78" width="12.5" height="75.02" fill="#1677AF"/>
<text x="1269.4" y="66.0" font-size="6.9" transform="rotate(-90 1269.4 66.0)" stroke="#000" stroke-width="0.15">5/27</text>
<text x="1268.9" y="151.1" font-size="7.58" text-anchor="end" transform="rotate(-45 1268.9 151.1)" stroke="#000" stroke-width="0.15">defense response to gram-negative bacterium</text>
<rect x="1278.96" y="68.07" width="12.5" height="73.73" fill="#1677AF"/>
<text x="1287.7" y="67.3" font-size="6.9" transform="rotate(-90 1287.7 67.3)" stroke="#000" stroke-width="0.15">9/235</text>
<text x="1287.2" y="151.1" font-size="7.58" text-anchor="end" transform="rotate(-45 1287.2 151.1)" stroke="#000" stroke-width="0.15">response to bacterium</text>
<rect x="1297.28" y="71.07" width="12.5" height="70.73" fill="#1677AF"/>
<text x="1306.0" y="70.3" font-size="6.9" transform="rotate(-90 1306.0 70.3)" stroke="#000" stroke-width="0.15">10/435</text>
<text x="1305.5" y="151.1" font-size="7.58" text-anchor="end" transform="rotate(-45 1305.5 151.1)" stroke="#000" stroke-width="0.15">response to other organism</text>
<rect x="1315.60" y="71.07" width="12.5" height="70.73" fill="#1677AF"/>
<text x="1324.3" y="70.3" font-size="6.9" transform="rotate(-90 1324.3 70.3)" stroke="#000" stroke-width="0.15">10/437</text>
<text x="1323.8" y="151.1" font-size="7.58" text-anchor="end" transform="rotate(-45 1323.8 151.1)" stroke="#000" stroke-width="0.15">response to external biotic stimulus</text>
<rect x="1333.92" y="72.96" width="12.5" height="68.84" fill="#1677AF"/>
<text x="1342.7" y="72.2" font-size="6.9" transform="rotate(-90 1342.7 72.2)" stroke="#000" stroke-width="0.15">10/452</text>
<text x="1342.2" y="151.1" font-size="7.58" text-anchor="end" transform="rotate(-45 1342.2 151.1)" stroke="#000" stroke-width="0.15">response to biotic stimulus</text>
<rect x="1352.24" y="77.67" width="12.5" height="64.13" fill="#1677AF"/>
<text x="1361.0" y="76.9" font-size="6.9" transform="rotate(-90 1361.0 76.9)" stroke="#000" stroke-width="0.15">4/17</text>
<text x="1360.5" y="151.1" font-size="7.58" text-anchor="end" transform="rotate(-45 1360.5 151.1)" stroke="#000" stroke-width="0.15">antimicrobial humoral immune response mediated by antimicrobial peptide</text>
<rect x="1370.56" y="84.70" width="12.5" height="57.10" fill="#1677AF"/>
<text x="1379.3" y="83.9" font-size="6.9" transform="rotate(-90 1379.3 83.9)" stroke="#000" stroke-width="0.15">4/26</text>
<text x="1378.8" y="151.1" font-size="7.58" text-anchor="end" transform="rotate(-45 1378.8 151.1)" stroke="#000" stroke-width="0.15">antimicrobial humoral response</text>
<rect x="1388.88" y="85.99" width="12.5" height="55.81" fill="#1677AF"/>
<text x="1397.6" y="85.2" font-size="6.9" transform="rotate(-90 1397.6 85.2)" stroke="#000" stroke-width="0.15">4/29</text>
<text x="1397.1" y="151.1" font-size="7.58" text-anchor="end" transform="rotate(-45 1397.1 151.1)" stroke="#000" stroke-width="0.15">defense response to gram-positive bacterium</text>
<rect x="1407.20" y="86.33" width="12.5" height="55.47" fill="#1677AF"/>
<text x="1415.9" y="85.5" font-size="6.9" transform="rotate(-90 1415.9 85.5)" stroke="#000" stroke-width="0.15">10/671</text>
<text x="1415.5" y="151.1" font-size="7.58" text-anchor="end" transform="rotate(-45 1415.5 151.1)" stroke="#000" stroke-width="0.15">defense response</text>
<rect x="1425.52" y="89.85" width="12.5" height="51.95" fill="#1677AF"/>
<text x="1434.3" y="89.0" font-size="6.9" transform="rotate(-90 1434.3 89.0)" stroke="#000" stroke-width="0.15">4/37</text>
<text x="1433.8" y="151.1" font-size="7.58" text-anchor="end" transform="rotate(-45 1433.8 151.1)" stroke="#000" stroke-width="0.15">positive chemotaxis</text>
<rect x="1443.84" y="89.85" width="12.5" height="51.95" fill="#1677AF"/>
<text x="1452.6" y="89.0" font-size="6.9" transform="rotate(-90 1452.6 89.0)" stroke="#000" stroke-width="0.15">3/10</text>
<text x="1452.1" y="151.1" font-size="7.58" text-anchor="end" transform="rotate(-45 1452.1 151.1)" stroke="#000" stroke-width="0.15">defense response to fungus</text>
<rect x="1462.16" y="90.87" width="12.5" height="50.93" fill="#1677AF"/>
<text x="1470.9" y="90.1" font-size="6.9" transform="rotate(-90 1470.9 90.1)" stroke="#000" stroke-width="0.15">6/170</text>
<text x="1470.4" y="151.1" font-size="7.58" text-anchor="end" transform="rotate(-45 1470.4 151.1)" stroke="#000" stroke-width="0.15">cell chemotaxis</text>
<rect x="1480.48" y="92.93" width="12.5" height="48.87" fill="#1677AF"/>
<text x="1489.2" y="92.1" font-size="6.9" transform="rotate(-90 1489.2 92.1)" stroke="#000" stroke-width="0.15">11/1020</text>
<text x="1488.7" y="151.1" font-size="7.58" text-anchor="end" transform="rotate(-45 1488.7 151.1)" stroke="#000" stroke-width="0.15">multi-organism process</text>
<rect x="1498.80" y="95.85" width="12.5" height="45.95" fill="#1677AF"/>
<text x="1507.5" y="95.0" font-size="6.9" transform="rotate(-90 1507.5 95.0)" stroke="#000" stroke-width="0.15">2/2</text>
<text x="1507.0" y="151.1" font-size="7.58" text-anchor="end" transform="rotate(-45 1507.0 151.1)" stroke="#000" stroke-width="0.15">membrane disruption in other organism</text>
<rect x="1517.12" y="95.85" width="12.5" height="45.95" fill="#1677AF"/>
<text x="1525.9" y="95.0" font-size="6.9" transform="rotate(-90 1525.9 95.0)" stroke="#000" stroke-width="0.15">3/17</text>
<text x="1525.4" y="151.1" font-size="7.58" text-anchor="end" transform="rotate(-45 1525.4 151.1)" stroke="#000" stroke-width="0.15">response to fungus</text>
<rect x="1535.44" y="97.48" width="12.5" height="44.32" fill="#1677AF"/>
<text x="1544.2" y="96.7" font-size="6.9" transform="rotate(-90 1544.2 96.7)" stroke="#000" stroke-width="0.15">4/61</text>
<text x="1543.7" y="151.1" font-size="7.58" text-anchor="end" transform="rotate(-45 1543.7 151.1)" stroke="#000" stroke-width="0.15">modification of morphology or physiology of other organism</text>
<rect x="1553.76" y="99.96" width="12.5" height="41.84" fill="#1677AF"/>
<text x="1562.5" y="99.2" font-size="6.9" transform="rotate(-90 1562.5 99.2)" stroke="#000" stroke-width="0.15">11/1247</text>
<text x="1562.0" y="151.1" font-size="7.58" text-anchor="end" transform="rotate(-45 1562.0 151.1)" stroke="#000" stroke-width="0.15">response to external stimulus</text>
<rect x="1572.08" y="102.88" width="12.5" height="38.92" fill="#1677AF"/>
<text x="1580.8" y="102.1" font-size="6.9" transform="rotate(-90 1580.8 102.1)" stroke="#000" stroke-width="0.15">4/87</text>
<text x="1580.3" y="151.1" font-size="7.58" text-anchor="end" transform="rotate(-45 1580.3 151.1)" stroke="#000" stroke-width="0.15">humoral immune response</text>
<rect x="1590.40" y="106.74" width="12.5" height="35.06" fill="#1677AF"/>
<text x="1599.1" y="105.9" font-size="6.9" transform="rotate(-90 1599.1 105.9)" stroke="#000" stroke-width="0.15">6/372</text>
<text x="1598.7" y="151.1" font-size="7.58" text-anchor="end" transform="rotate(-45 1598.7 151.1)" stroke="#000" stroke-width="0.15">chemotaxis</text>
<rect x="1608.72" y="106.74" width="12.5" height="35.06" fill="#1677AF"/>
<text x="1617.5" y="105.9" font-size="6.9" transform="rotate(-90 1617.5 105.9)" stroke="#000" stroke-width="0.15">8/874</text>
<text x="1617.0" y="151.1" font-size="7.58" text-anchor="end" transform="rotate(-45 1617.0 151.1)" stroke="#000" stroke-width="0.15">taxis</text>
<rect x="1627.04" y="107.59" width="12.5" height="34.21" fill="#1677AF"/>
<text x="1635.8" y="106.8" font-size="6.9" transform="rotate(-90 1635.8 106.8)" stroke="#000" stroke-width="0.15">5/234</text>
<text x="1635.3" y="151.1" font-size="7.58" text-anchor="end" transform="rotate(-45 1635.3 151.1)" stroke="#000" stroke-width="0.15">interspecies interaction between organisms</text>
<rect x="1645.36" y="110.94" width="12.5" height="30.86" fill="#1677AF"/>
<text x="1654.1" y="110.1" font-size="6.9" transform="rotate(-90 1654.1 110.1)" stroke="#000" stroke-width="0.15">2/12</text>
<text x="1653.6" y="151.1" font-size="7.58" text-anchor="end" transform="rotate(-45 1653.6 151.1)" stroke="#000" stroke-width="0.15">cytolysis</text>
<rect x="1663.68" y="111.54" width="12.5" height="30.26" fill="#1677AF"/>
<text x="1672.4" y="110.7" font-size="6.9" transform="rotate(-90 1672.4 110.7)" stroke="#000" stroke-width="0.15">2/13</text>
<text x="1671.9" y="151.1" font-size="7.58" text-anchor="end" transform="rotate(-45 1671.9 151.1)" stroke="#000" stroke-width="0.15">killing of cells of other organism</text>
<rect x="1682.00" y="111.54" width="12.5" height="30.26" fill="#1677AF"/>
<text x="1690.7" y="110.7" font-size="6.9" transform="rotate(-90 1690.7 110.7)" stroke="#000" stroke-width="0.15">2/13</text>
<text x="1690.2" y="151.1" font-size="7.58" text-anchor="end" transform="rotate(-45 1690.2 151.1)" stroke="#000" stroke-width="0.15">disruption of cells of other organism</text>
<rect x="1700.32" y="118.74" width="12.5" height="23.06" fill="#1677AF"/>
<text x="1709.1" y="117.9" font-size="6.9" transform="rotate(-90 1709.1 117.9)" stroke="#000" stroke-width="0.15">1/1</text>
<text x="1708.6" y="151.1" font-size="7.58" text-anchor="end" transform="rotate(-45 1708.6 151.1)" stroke="#000" stroke-width="0.15">B cell homeostatic proliferation</text>
<rect x="1718.64" y="118.74" width="12.5" height="23.06" fill="#1677AF"/>
<text x="1727.4" y="117.9" font-size="6.9" transform="rotate(-90 1727.4 117.9)" stroke="#000" stroke-width="0.15">3/126</text>
<text x="1726.9" y="151.1" font-size="7.58" text-anchor="end" transform="rotate(-45 1726.9 151.1)" stroke="#000" stroke-width="0.15">hormone metabolic process</text>
<rect x="1736.96" y="119.34" width="12.5" height="22.46" fill="#1677AF"/>
<text x="1745.7" y="118.5" font-size="6.9" transform="rotate(-90 1745.7 118.5)" stroke="#000" stroke-width="0.15">4/279</text>
<text x="1745.2" y="151.1" font-size="7.58" text-anchor="end" transform="rotate(-45 1745.2 151.1)" stroke="#000" stroke-width="0.15">innate immune response</text>
<rect x="1755.28" y="120.80" width="12.5" height="21.00" fill="#1677AF"/>
<text x="1764.0" y="120.0" font-size="6.9" transform="rotate(-90 1764.0 120.0)" stroke="#000" stroke-width="0.15">2/47</text>
<text x="1763.5" y="151.1" font-size="7.58" text-anchor="end" transform="rotate(-45 1763.5 151.1)" stroke="#000" stroke-width="0.15">cell killing</text>
<path d="M1230.2 141.8v3.2M1248.6 141.8v3.2M1266.9 141.8v3.2M1285.2 141.8v3.2M1303.5 141.8v3.2M1321.8 141.8v3.2M1340.2 141.8v3.2M1358.5 141.8v3.2M1376.8 141.8v3.2M1395.1 141.8v3.2M1413.5 141.8v3.2M1431.8 141.8v3.2M1450.1 141.8v3.2M1468.4 141.8v3.2M1486.7 141.8v3.2M1505.0 141.8v3.2M1523.4 141.8v3.2M1541.7 141.8v3.2M1560.0 141.8v3.2M1578.3 141.8v3.2M1596.7 141.8v3.2M1615.0 141.8v3.2M1633.3 141.8v3.2M1651.6 141.8v3.2M1669.9 141.8v3.2M1688.2 141.8v3.2M1706.6 141.8v3.2M1724.9 141.8v3.2M1743.2 141.8v3.2M1761.5 141.8v3.2" stroke="#222" stroke-width="0.6" fill="none"/>
<path d="M1218.4 13.2V141.8H1775.8" stroke="#000" stroke-width="1.1" fill="none"/>
<text x="1213.8" y="144.5" font-size="7.4" text-anchor="end" stroke="#000" stroke-width="0.15">0</text>
<text x="1213.8" y="101.6" font-size="7.4" text-anchor="end" stroke="#000" stroke-width="0.15">5</text>
<text x="1213.8" y="58.7" font-size="7.4" text-anchor="end" stroke="#000" stroke-width="0.15">10</text>
<text x="1213.8" y="15.9" font-size="7.4" text-anchor="end" stroke="#000" stroke-width="0.15">15</text>
<path d="M1218.4 141.8h-3.2M1218.4 98.9h-3.2M1218.4 56.1h-3.2M1218.4 13.2h-3.2" stroke="#111" stroke-width="0.7" fill="none"/>
<text x="1197.4" y="82.5" font-size="9.25" text-anchor="middle" transform="rotate(-90 1197.4 82.5)" stroke="#000" stroke-width="0.15">-log10 (Padj)</text>
<text x="1497.0" y="26.2" font-size="8.63" text-anchor="middle" stroke="#000" stroke-width="0.15">Top 30 enriched GO terms in BP category</text>
</g>
<g id="gobot">
<path d="M1209.6 485.5H1775.8" stroke="#aaa" stroke-width="0.6" fill="none"/>
<path d="M1775.8 485.5V616.3" stroke="#333" stroke-width="0.6" fill="none"/>
<rect x="1215.30" y="499.10" width="12.2" height="117.20" fill="#1677AF"/>
<text x="1224.0" y="500.3" font-size="7.1" text-anchor="end" transform="rotate(-90 1224.0 500.3)" stroke="#000" stroke-width="0.15">41/1124</text>
<text x="1223.4" y="625.6" font-size="8.04" text-anchor="end" transform="rotate(-45 1223.4 625.6)" stroke="#000" stroke-width="0.15">cytoskeleton organization</text>
<rect x="1233.98" y="567.90" width="12.2" height="48.40" fill="#1677AF"/>
<text x="1242.6" y="567.1" font-size="7.1" transform="rotate(-90 1242.6 567.1)" stroke="#000" stroke-width="0.15">42/2766</text>
<text x="1242.1" y="625.6" font-size="8.04" text-anchor="end" transform="rotate(-45 1242.1 625.6)" stroke="#000" stroke-width="0.15">organelle organization</text>
<rect x="1252.66" y="592.23" width="12.2" height="24.07" fill="#1677AF"/>
<text x="1261.3" y="591.4" font-size="7.1" transform="rotate(-90 1261.3 591.4)" stroke="#000" stroke-width="0.15">44/4221</text>
<text x="1260.8" y="625.6" font-size="8.04" text-anchor="end" transform="rotate(-45 1260.8 625.6)" stroke="#000" stroke-width="0.15">cellular component organization</text>
<rect x="1271.34" y="594.33" width="12.2" height="21.97" fill="#1677AF"/>
<text x="1280.0" y="593.5" font-size="7.1" transform="rotate(-90 1280.0 593.5)" stroke="#000" stroke-width="0.15">44/4350</text>
<text x="1279.4" y="625.6" font-size="8.04" text-anchor="end" transform="rotate(-45 1279.4 625.6)" stroke="#000" stroke-width="0.15">cellular component organization or biogenesis</text>
<rect x="1290.02" y="594.85" width="12.2" height="21.45" fill="#1677AF"/>
<text x="1298.7" y="594.0" font-size="7.1" transform="rotate(-90 1298.7 594.0)" stroke="#000" stroke-width="0.15">4/33</text>
<text x="1298.1" y="625.6" font-size="8.04" text-anchor="end" transform="rotate(-45 1298.1 625.6)" stroke="#000" stroke-width="0.15">forelimb morphogenesis</text>
<rect x="1308.70" y="598.35" width="12.2" height="17.95" fill="#1677AF"/>
<text x="1317.4" y="597.6" font-size="7.1" transform="rotate(-90 1317.4 597.6)" stroke="#000" stroke-width="0.15">5/102</text>
<text x="1316.8" y="625.6" font-size="8.04" text-anchor="end" transform="rotate(-45 1316.8 625.6)" stroke="#000" stroke-width="0.15">embryonic limb morphogenesis</text>
<rect x="1327.38" y="598.77" width="12.2" height="17.53" fill="#1677AF"/>
<text x="1336.0" y="598.0" font-size="7.1" transform="rotate(-90 1336.0 598.0)" stroke="#000" stroke-width="0.15">5/108</text>
<text x="1335.5" y="625.6" font-size="8.04" text-anchor="end" transform="rotate(-45 1335.5 625.6)" stroke="#000" stroke-width="0.15">embryonic appendage morphogenesis</text>
<rect x="1346.06" y="600.08" width="12.2" height="16.22" fill="#1677AF"/>
<text x="1354.7" y="599.3" font-size="7.1" transform="rotate(-90 1354.7 599.3)" stroke="#000" stroke-width="0.15">6/121</text>
<text x="1354.2" y="625.6" font-size="8.04" text-anchor="end" transform="rotate(-45 1354.2 625.6)" stroke="#000" stroke-width="0.15">limb morphogenesis</text>
<rect x="1364.74" y="600.24" width="12.2" height="16.06" fill="#1677AF"/>
<text x="1373.4" y="599.4" font-size="7.1" transform="rotate(-90 1373.4 599.4)" stroke="#000" stroke-width="0.15">6/122</text>
<text x="1372.8" y="625.6" font-size="8.04" text-anchor="end" transform="rotate(-45 1372.8 625.6)" stroke="#000" stroke-width="0.15">appendage morphogenesis</text>
<rect x="1383.42" y="601.49" width="12.2" height="14.81" fill="#1677AF"/>
<text x="1392.1" y="600.7" font-size="7.1" transform="rotate(-90 1392.1 600.7)" stroke="#000" stroke-width="0.15">2/6</text>
<text x="1391.5" y="625.6" font-size="8.04" text-anchor="end" transform="rotate(-45 1391.5 625.6)" stroke="#000" stroke-width="0.15">regulation of mesenchymal cell apoptotic process</text>
<rect x="1402.10" y="601.86" width="12.2" height="14.44" fill="#1677AF"/>
<text x="1410.8" y="601.1" font-size="7.1" transform="rotate(-90 1410.8 601.1)" stroke="#000" stroke-width="0.15">2/10</text>
<text x="1410.2" y="625.6" font-size="8.04" text-anchor="end" transform="rotate(-45 1410.2 625.6)" stroke="#000" stroke-width="0.15">mesenchymal cell apoptotic process</text>
<rect x="1420.78" y="601.86" width="12.2" height="14.44" fill="#1677AF"/>
<text x="1429.4" y="601.1" font-size="7.1" transform="rotate(-90 1429.4 601.1)" stroke="#000" stroke-width="0.15">3/40</text>
<text x="1428.9" y="625.6" font-size="8.04" text-anchor="end" transform="rotate(-45 1428.9 625.6)" stroke="#000" stroke-width="0.15">hindlimb morphogenesis</text>
<rect x="1439.46" y="602.07" width="12.2" height="14.23" fill="#1677AF"/>
<text x="1448.1" y="601.3" font-size="7.1" transform="rotate(-90 1448.1 601.3)" stroke="#000" stroke-width="0.15">2/11</text>
<text x="1447.6" y="625.6" font-size="8.04" text-anchor="end" transform="rotate(-45 1447.6 625.6)" stroke="#000" stroke-width="0.15">regulation of Notch signaling</text>
<rect x="1458.14" y="602.49" width="12.2" height="13.81" fill="#1677AF"/>
<text x="1466.8" y="601.7" font-size="7.1" transform="rotate(-90 1466.8 601.7)" stroke="#000" stroke-width="0.15">5/147</text>
<text x="1466.2" y="625.6" font-size="8.04" text-anchor="end" transform="rotate(-45 1466.2 625.6)" stroke="#000" stroke-width="0.15">limb development</text>
<rect x="1476.82" y="602.28" width="12.2" height="14.02" fill="#1677AF"/>
<text x="1485.5" y="601.5" font-size="7.1" transform="rotate(-90 1485.5 601.5)" stroke="#000" stroke-width="0.15">5/148</text>
<text x="1484.9" y="625.6" font-size="8.04" text-anchor="end" transform="rotate(-45 1484.9 625.6)" stroke="#000" stroke-width="0.15">appendage development</text>
<rect x="1495.50" y="603.12" width="12.2" height="13.18" fill="#1677AF"/>
<text x="1504.2" y="602.3" font-size="7.1" transform="rotate(-90 1504.2 602.3)" stroke="#000" stroke-width="0.15">3/40</text>
<text x="1503.6" y="625.6" font-size="8.04" text-anchor="end" transform="rotate(-45 1503.6 625.6)" stroke="#000" stroke-width="0.15">embryonic digit morphogenesis</text>
<rect x="1514.18" y="603.95" width="12.2" height="12.35" fill="#1677AF"/>
<text x="1522.8" y="603.2" font-size="7.1" transform="rotate(-90 1522.8 603.2)" stroke="#000" stroke-width="0.15">2/18</text>
<text x="1522.3" y="625.6" font-size="8.04" text-anchor="end" transform="rotate(-45 1522.3 625.6)" stroke="#000" stroke-width="0.15">positive regulation of chondrocyte differentiation</text>
<rect x="1532.86" y="604.79" width="12.2" height="11.51" fill="#1677AF"/>
<text x="1541.5" y="604.0" font-size="7.1" transform="rotate(-90 1541.5 604.0)" stroke="#000" stroke-width="0.15">2/18</text>
<text x="1541.0" y="625.6" font-size="8.04" text-anchor="end" transform="rotate(-45 1541.0 625.6)" stroke="#000" stroke-width="0.15">peptide cross-linking</text>
<rect x="1551.54" y="604.95" width="12.2" height="11.35" fill="#1677AF"/>
<text x="1560.2" y="604.1" font-size="7.1" transform="rotate(-90 1560.2 604.1)" stroke="#000" stroke-width="0.15">2/19</text>
<text x="1559.6" y="625.6" font-size="8.04" text-anchor="end" transform="rotate(-45 1559.6 625.6)" stroke="#000" stroke-width="0.15">regulation of keratinocyte differentiation</text>
<rect x="1570.22" y="605.84" width="12.2" height="10.46" fill="#1677AF"/>
<text x="1578.9" y="605.0" font-size="7.1" transform="rotate(-90 1578.9 605.0)" stroke="#000" stroke-width="0.15">2/24</text>
<text x="1578.3" y="625.6" font-size="8.04" text-anchor="end" transform="rotate(-45 1578.3 625.6)" stroke="#000" stroke-width="0.15">positive regulation of BMP signaling pathway</text>
<rect x="1588.90" y="606.41" width="12.2" height="9.89" fill="#1677AF"/>
<text x="1597.6" y="605.6" font-size="7.1" transform="rotate(-90 1597.6 605.6)" stroke="#000" stroke-width="0.15">2/25</text>
<text x="1597.0" y="625.6" font-size="8.04" text-anchor="end" transform="rotate(-45 1597.0 625.6)" stroke="#000" stroke-width="0.15">Notch signaling</text>
<rect x="1607.58" y="606.83" width="12.2" height="9.47" fill="#1677AF"/>
<text x="1616.2" y="606.0" font-size="7.1" transform="rotate(-90 1616.2 606.0)" stroke="#000" stroke-width="0.15">2/27</text>
<text x="1615.7" y="625.6" font-size="8.04" text-anchor="end" transform="rotate(-45 1615.7 625.6)" stroke="#000" stroke-width="0.15">embryonic forelimb morphogenesis</text>
<rect x="1626.26" y="606.83" width="12.2" height="9.47" fill="#1677AF"/>
<text x="1634.9" y="606.0" font-size="7.1" transform="rotate(-90 1634.9 606.0)" stroke="#000" stroke-width="0.15">2/27</text>
<text x="1634.4" y="625.6" font-size="8.04" text-anchor="end" transform="rotate(-45 1634.4 625.6)" stroke="#000" stroke-width="0.15">positive regulation of cartilage development</text>
<rect x="1644.94" y="606.83" width="12.2" height="9.47" fill="#1677AF"/>
<text x="1653.6" y="606.0" font-size="7.1" transform="rotate(-90 1653.6 606.0)" stroke="#000" stroke-width="0.15">1/2</text>
<text x="1653.0" y="625.6" font-size="8.04" text-anchor="end" transform="rotate(-45 1653.0 625.6)" stroke="#000" stroke-width="0.15">negative regulation of pinocytosis</text>
<rect x="1663.62" y="606.83" width="12.2" height="9.47" fill="#1677AF"/>
<text x="1672.3" y="606.0" font-size="7.1" transform="rotate(-90 1672.3 606.0)" stroke="#000" stroke-width="0.15">1/2</text>
<text x="1671.7" y="625.6" font-size="8.04" text-anchor="end" transform="rotate(-45 1671.7 625.6)" stroke="#000" stroke-width="0.15">frontal suture morphogenesis</text>
<rect x="1682.30" y="606.83" width="12.2" height="9.47" fill="#1677AF"/>
<text x="1691.0" y="606.0" font-size="7.1" transform="rotate(-90 1691.0 606.0)" stroke="#000" stroke-width="0.15">1/2</text>
<text x="1690.4" y="625.6" font-size="8.04" text-anchor="end" transform="rotate(-45 1690.4 625.6)" stroke="#000" stroke-width="0.15">positive regulation of mesenchymal cell apoptotic process</text>
<rect x="1700.98" y="606.83" width="12.2" height="9.47" fill="#1677AF"/>
<text x="1709.6" y="606.0" font-size="7.1" transform="rotate(-90 1709.6 606.0)" stroke="#000" stroke-width="0.15">1/2</text>
<text x="1709.1" y="625.6" font-size="8.04" text-anchor="end" transform="rotate(-45 1709.1 625.6)" stroke="#000" stroke-width="0.15">negative regulation of caveolin-mediated endocytosis</text>
<rect x="1719.66" y="606.83" width="12.2" height="9.47" fill="#1677AF"/>
<text x="1728.3" y="606.0" font-size="7.1" transform="rotate(-90 1728.3 606.0)" stroke="#000" stroke-width="0.15">2/30</text>
<text x="1727.8" y="625.6" font-size="8.04" text-anchor="end" transform="rotate(-45 1727.8 625.6)" stroke="#000" stroke-width="0.15">proximal/distal pattern formation</text>
<rect x="1738.34" y="607.04" width="12.2" height="9.26" fill="#1677AF"/>
<text x="1747.0" y="606.2" font-size="7.1" transform="rotate(-90 1747.0 606.2)" stroke="#000" stroke-width="0.15">3/83</text>
<text x="1746.4" y="625.6" font-size="8.04" text-anchor="end" transform="rotate(-45 1746.4 625.6)" stroke="#000" stroke-width="0.15">chondrocyte differentiation</text>
<rect x="1757.02" y="607.25" width="12.2" height="9.05" fill="#1677AF"/>
<text x="1765.7" y="606.4" font-size="7.1" transform="rotate(-90 1765.7 606.4)" stroke="#000" stroke-width="0.15">1/3</text>
<text x="1765.1" y="625.6" font-size="8.04" text-anchor="end" transform="rotate(-45 1765.1 625.6)" stroke="#000" stroke-width="0.15">negative regulation of CREB transcription factor activity</text>
<path d="M1221.4 616.3v3.2M1240.1 616.3v3.2M1258.8 616.3v3.2M1277.4 616.3v3.2M1296.1 616.3v3.2M1314.8 616.3v3.2M1333.5 616.3v3.2M1352.2 616.3v3.2M1370.8 616.3v3.2M1389.5 616.3v3.2M1408.2 616.3v3.2M1426.9 616.3v3.2M1445.6 616.3v3.2M1464.2 616.3v3.2M1482.9 616.3v3.2M1501.6 616.3v3.2M1520.3 616.3v3.2M1539.0 616.3v3.2M1557.6 616.3v3.2M1576.3 616.3v3.2M1595.0 616.3v3.2M1613.7 616.3v3.2M1632.4 616.3v3.2M1651.0 616.3v3.2M1669.7 616.3v3.2M1688.4 616.3v3.2M1707.1 616.3v3.2M1725.8 616.3v3.2M1744.4 616.3v3.2M1763.1 616.3v3.2" stroke="#222" stroke-width="0.6" fill="none"/>
<path d="M1209.6 485.5V616.3H1775.8" stroke="#000" stroke-width="1.1" fill="none"/>
<text x="1205.0" y="619.3" font-size="8.3" text-anchor="end" stroke="#000" stroke-width="0.15">0</text>
<text x="1205.0" y="593.1" font-size="8.3" text-anchor="end" stroke="#000" stroke-width="0.15">5</text>
<text x="1205.0" y="567.0" font-size="8.3" text-anchor="end" stroke="#000" stroke-width="0.15">10</text>
<text x="1205.0" y="540.8" font-size="8.3" text-anchor="end" stroke="#000" stroke-width="0.15">15</text>
<text x="1205.0" y="514.6" font-size="8.3" text-anchor="end" stroke="#000" stroke-width="0.15">20</text>
<text x="1205.0" y="488.5" font-size="8.3" text-anchor="end" stroke="#000" stroke-width="0.15">25</text>
<path d="M1209.6 616.3h-3.2M1209.6 590.1h-3.2M1209.6 564.0h-3.2M1209.6 537.8h-3.2M1209.6 511.7h-3.2M1209.6 485.5h-3.2" stroke="#111" stroke-width="0.7" fill="none"/>
<text x="1189.6" y="556.9" font-size="9.5" text-anchor="middle" transform="rotate(-90 1189.6 556.9)" stroke="#000" stroke-width="0.15">-log10 (Padj)</text>
<text x="1493.0" y="500.0" font-size="9.23" text-anchor="middle" stroke="#000" stroke-width="0.15">Top 30 enriched GO terms in BP category</text>
</g>
<g id="va">
<path d="M1210.9 299.3V462.4M1228.6 299.3V462.4" stroke="#111" stroke-width="0.9" stroke-dasharray="1.2 1" fill="none" stroke-opacity="0.55"/>
<path d="M1179.6 457.8h0M1179.6 456.3h0M1179.6 454.0h0M1179.6 451.8h0M1179.6 449.8h0M1179.6 448.3h0M1179.6 445.8h0M1179.6 443.4h0M1179.6 441.4h0M1179.6 439.4h0M1179.6 437.8h0M1179.6 436.5h0M1179.6 434.7h0M1179.6 432.6h0M1179.6 431.2h0M1179.6 428.8h0M1179.6 427.2h0M1332.4 457.8h0M1332.4 456.4h0M1332.4 453.7h0M1332.4 451.4h0M1332.4 448.8h0M1332.4 446.6h0M1332.4 445.3h0M1332.4 443.6h0M1332.4 441.6h0M1332.4 440.2h0M1332.4 437.5h0M1332.4 435.7h0M1332.4 434.3h0M1332.4 431.8h0M1332.4 430.4h0M1332.4 427.7h0M1214.9 446.0h0M1230.4 430.0h0M1222.3 428.3h0M1209.4 433.4h0M1194.9 448.7h0M1213.5 376.2h0M1239.1 442.6h0M1211.7 417.1h0M1230.7 455.8h0M1220.8 439.3h0M1199.8 438.5h0M1223.0 449.5h0M1197.0 447.9h0M1216.4 445.4h0M1207.5 447.0h0M1231.9 454.4h0M1225.6 395.0h0M1203.8 428.9h0M1254.7 434.2h0M1203.6 448.0h0M1223.5 450.3h0M1226.8 413.3h0M1190.9 448.5h0M1218.6 453.3h0M1230.9 446.2h0M1254.4 436.5h0M1219.4 434.4h0M1220.8 452.3h0M1217.8 435.7h0M1205.9 438.5h0M1210.2 447.3h0M1218.4 457.5h0M1255.2 426.8h0M1209.5 430.4h0M1213.3 434.6h0M1241.5 449.6h0M1215.7 453.5h0M1216.0 417.8h0M1225.9 447.3h0M1216.0 448.6h0M1231.2 450.9h0M1218.0 456.5h0M1198.6 429.3h0M1223.0 438.8h0M1219.9 439.4h0M1219.3 440.6h0M1213.9 454.5h0M1213.5 431.3h0M1240.5 438.4h0M1243.9 438.8h0M1237.7 426.8h0M1217.4 441.7h0M1209.8 431.6h0M1212.0 357.8h0M1227.8 452.1h0M1227.5 420.0h0M1192.2 450.0h0M1200.5 443.2h0M1225.2 440.0h0M1214.4 399.9h0M1228.3 404.3h0M1221.9 444.1h0M1241.5 426.9h0M1209.9 434.6h0M1225.3 388.3h0M1224.0 402.8h0M1193.6 433.9h0M1229.4 437.8h0M1212.8 357.4h0M1239.2 445.3h0M1221.4 453.8h0M1228.3 386.6h0M1230.3 442.4h0M1235.7 449.3h0M1217.0 438.8h0M1219.2 449.7h0M1244.9 429.9h0M1218.4 441.9h0M1215.2 434.8h0M1202.0 436.9h0M1223.2 450.6h0M1220.2 434.1h0M1227.3 383.3h0M1221.3 444.2h0M1219.3 442.7h0M1222.6 440.1h0M1222.3 448.6h0M1228.5 449.0h0M1210.9 431.4h0M1227.1 421.9h0M1223.0 449.3h0M1246.9 428.8h0M1202.7 438.0h0M1234.1 433.1h0M1211.6 452.8h0M1201.2 441.0h0M1205.6 445.7h0M1216.2 431.4h0M1235.5 453.3h0M1206.5 450.3h0M1220.0 456.3h0M1206.4 436.3h0M1221.5 454.9h0M1203.1 434.9h0M1217.6 443.0h0M1224.2 455.5h0M1215.1 423.6h0M1236.5 440.7h0M1234.7 430.3h0M1246.8 445.3h0M1206.1 428.8h0M1242.7 442.2h0M1194.4 427.5h0M1240.5 436.6h0M1223.7 414.6h0M1246.1 437.6h0M1260.6 438.5h0M1190.8 432.1h0M1211.1 429.1h0M1216.0 434.1h0M1229.2 445.7h0M1231.1 438.7h0M1222.8 432.6h0M1238.5 439.5h0M1250.2 437.1h0M1221.7 440.0h0M1242.8 432.5h0M1222.0 447.0h0M1231.4 448.3h0M1218.6 436.2h0M1221.8 435.4h0M1215.0 433.4h0M1190.5 449.5h0M1200.2 425.9h0M1214.9 442.9h0M1230.9 454.9h0M1210.8 431.3h0M1211.7 399.0h0M1223.4 422.9h0M1222.6 450.2h0M1203.6 431.9h0M1234.3 429.1h0M1239.0 445.5h0M1244.7 444.9h0M1251.6 441.5h0M1224.1 410.2h0M1232.1 435.4h0M1215.6 448.2h0M1213.6 453.1h0M1213.9 375.5h0M1227.6 455.9h0M1205.0 440.7h0M1210.6 445.3h0M1210.2 446.1h0M1208.4 437.0h0M1214.2 389.3h0M1220.5 441.6h0M1223.4 428.9h0M1233.8 441.2h0M1223.7 440.2h0M1212.9 453.6h0M1229.0 430.6h0M1232.2 452.9h0M1228.5 404.1h0M1227.7 397.8h0M1227.3 404.3h0M1224.8 443.2h0M1226.0 394.9h0M1210.4 447.5h0M1228.9 432.6h0M1216.4 439.3h0M1225.8 442.5h0M1197.1 450.7h0M1227.5 412.1h0M1205.8 445.7h0M1211.7 381.7h0M1213.1 431.2h0M1213.3 382.9h0M1236.5 446.1h0M1215.6 446.1h0M1212.2 370.4h0M1216.1 438.1h0M1208.4 445.4h0M1212.8 426.5h0M1221.4 433.1h0M1221.9 451.7h0M1227.1 428.4h0M1225.9 417.0h0M1250.4 436.7h0M1218.6 436.1h0M1248.1 438.5h0M1235.7 451.0h0M1198.7 432.2h0M1261.4 437.4h0M1213.5 428.4h0M1226.9 422.2h0M1220.7 450.8h0M1224.8 398.4h0M1196.7 429.3h0M1246.4 438.4h0M1235.0 442.8h0M1217.0 449.0h0M1217.1 457.6h0M1224.5 425.0h0M1248.8 447.0h0M1225.2 433.8h0M1218.7 447.6h0M1202.9 451.7h0M1215.6 402.1h0M1203.5 436.9h0M1215.5 451.0h0M1203.1 427.7h0M1209.0 448.1h0M1195.9 452.2h0M1225.6 440.2h0M1228.9 432.0h0M1210.0 430.5h0M1211.4 402.1h0M1221.4 432.7h0M1216.7 450.5h0M1207.4 430.3h0M1243.3 433.1h0M1217.5 445.4h0M1237.3 426.0h0M1242.3 440.4h0M1212.8 377.6h0M1200.6 429.3h0M1185.8 445.0h0M1180.0 439.8h0M1222.9 453.7h0M1221.6 449.2h0M1218.7 441.3h0M1266.5 426.2h0M1230.2 439.0h0M1213.4 416.5h0M1210.3 451.1h0M1221.7 455.8h0M1208.6 451.7h0M1218.2 448.2h0M1228.1 449.5h0M1224.8 443.2h0M1222.3 447.4h0M1228.5 425.5h0M1198.1 434.5h0M1209.1 440.2h0M1201.0 436.3h0M1219.8 434.5h0M1235.5 428.7h0M1219.8 439.9h0M1213.6 407.8h0M1220.2 441.9h0M1261.3 439.4h0M1227.5 411.5h0M1219.8 445.6h0M1237.7 447.8h0M1217.9 446.2h0M1215.6 419.0h0M1214.4 456.6h0M1216.5 433.9h0M1231.4 428.0h0M1236.5 437.9h0M1204.7 453.8h0M1214.9 428.2h0M1227.4 397.1h0M1223.7 440.3h0M1234.8 448.9h0M1234.6 434.2h0M1245.5 449.2h0M1235.3 430.0h0M1204.2 450.5h0M1225.8 454.5h0M1211.3 442.9h0M1214.5 427.4h0M1205.8 445.6h0M1229.0 451.4h0M1232.3 446.0h0M1210.7 439.9h0M1241.6 440.1h0M1219.7 439.9h0M1202.9 439.7h0M1213.9 430.9h0M1230.0 444.4h0M1235.7 429.3h0M1192.3 440.4h0M1255.0 431.7h0M1226.9 414.5h0M1224.0 408.3h0M1202.7 432.3h0M1208.2 428.8h0M1240.7 443.5h0M1223.1 439.4h0M1206.6 453.4h0M1210.2 427.5h0M1202.9 432.0h0M1215.7 445.5h0M1234.7 451.5h0M1227.0 399.2h0M1218.3 432.0h0M1200.1 432.8h0M1222.3 434.1h0M1245.6 438.8h0M1216.2 449.3h0M1222.7 431.6h0M1226.8 401.4h0M1220.0 435.5h0M1208.6 453.7h0M1217.6 431.8h0M1223.2 441.1h0M1232.3 444.9h0M1219.8 444.9h0M1219.3 433.9h0M1213.9 393.8h0M1213.4 367.0h0M1219.4 456.5h0M1249.6 442.1h0M1240.1 449.1h0M1230.8 448.5h0M1204.3 432.1h0M1237.6 447.2h0M1229.3 446.1h0M1204.2 432.3h0M1207.4 430.4h0M1222.3 437.8h0M1227.2 398.6h0M1240.9 427.3h0M1210.2 448.8h0M1218.2 453.9h0M1234.6 436.1h0M1224.6 385.7h0M1236.3 430.2h0M1243.2 429.5h0M1215.2 395.8h0M1229.4 444.9h0M1223.7 408.5h0M1215.5 426.8h0M1219.9 442.5h0M1232.9 443.8h0M1218.0 457.5h0M1232.8 438.8h0M1238.5 441.5h0M1233.2 430.9h0M1208.2 452.0h0M1233.4 440.4h0M1197.8 426.4h0M1223.8 443.3h0M1221.6 450.9h0M1222.9 431.2h0M1213.2 425.6h0M1234.6 434.5h0M1217.3 434.4h0M1210.6 426.6h0M1218.4 441.6h0M1210.0 454.5h0M1234.1 430.1h0M1205.6 426.0h0M1225.0 427.6h0M1220.6 437.0h0M1223.4 423.2h0M1204.2 437.7h0M1221.0 449.8h0M1221.0 437.8h0M1220.4 452.6h0M1215.0 393.0h0M1213.7 400.2h0M1214.7 456.6h0M1229.8 437.8h0M1214.0 396.0h0M1233.3 430.4h0M1254.5 434.7h0M1203.4 446.1h0M1250.4 434.4h0M1224.4 446.3h0M1216.8 445.8h0M1220.9 446.0h0M1233.5 436.6h0M1226.2 369.4h0M1221.1 445.6h0M1210.5 446.1h0M1194.5 437.9h0M1226.4 413.0h0M1209.4 429.7h0M1197.1 448.7h0M1235.0 442.7h0M1217.5 434.7h0M1207.0 442.7h0M1217.3 436.6h0M1226.3 367.4h0M1213.2 415.1h0M1222.7 453.2h0M1209.1 447.9h0M1229.1 448.3h0M1239.1 437.3h0M1225.1 431.9h0M1228.8 443.4h0M1228.8 443.6h0M1216.7 440.3h0M1214.6 411.0h0M1209.9 432.2h0M1189.8 443.7h0M1204.9 442.1h0M1228.7 427.3h0M1219.3 452.7h0M1231.7 435.0h0M1252.8 440.1h0M1221.8 444.7h0M1225.8 400.8h0M1200.5 450.7h0M1224.1 429.8h0M1208.2 437.5h0M1263.6 426.2h0M1214.2 455.7h0M1222.8 440.4h0M1246.0 440.0h0M1227.1 380.6h0M1241.3 426.9h0M1219.3 436.6h0M1208.7 455.7h0M1227.0 379.2h0M1213.1 423.9h0M1222.6 423.7h0M1232.4 432.9h0M1212.4 421.2h0M1230.5 429.9h0M1206.3 447.3h0M1198.1 444.2h0M1226.5 436.2h0M1221.0 450.5h0M1222.3 456.9h0M1221.8 432.1h0M1213.6 409.1h0M1222.0 448.5h0M1210.2 448.1h0M1220.1 456.1h0M1240.4 452.7h0M1262.0 433.9h0M1211.9 379.0h0M1246.8 440.0h0M1244.4 435.8h0M1237.5 439.3h0M1227.3 427.4h0M1225.1 451.6h0M1194.3 441.5h0M1237.6 447.7h0M1205.9 452.0h0M1229.1 442.8h0M1225.0 371.8h0M1233.2 426.7h0M1214.8 423.0h0M1225.0 457.4h0M1224.2 417.2h0M1216.4 454.5h0M1216.9 442.0h0M1234.7 428.2h0M1223.6 406.9h0M1207.4 442.3h0M1233.0 427.1h0M1206.0 428.1h0M1213.6 400.7h0M1213.4 377.6h0M1234.8 433.2h0M1205.9 445.8h0M1218.2 449.7h0M1232.2 452.6h0M1251.9 442.7h0M1213.2 414.1h0M1225.9 450.8h0M1220.6 457.2h0M1243.1 440.0h0M1271.4 427.0h0M1203.9 432.1h0M1226.6 430.6h0M1249.3 441.3h0M1208.8 453.4h0M1234.2 455.0h0M1222.9 415.9h0M1221.0 439.4h0M1228.8 451.6h0M1231.9 454.4h0M1217.7 431.6h0M1230.1 433.2h0M1231.8 455.0h0M1224.2 454.6h0M1226.9 449.3h0M1223.9 435.1h0M1210.7 439.4h0M1190.4 430.2h0M1208.0 455.7h0M1219.5 434.5h0M1221.1 443.3h0M1192.9 447.0h0M1228.6 407.8h0M1228.7 445.9h0M1257.8 438.3h0M1243.1 427.2h0M1242.9 441.5h0M1257.7 439.9h0M1217.3 440.1h0M1232.6 427.6h0M1225.7 380.4h0M1229.9 452.6h0M1219.5 434.5h0M1227.5 450.3h0M1235.0 450.8h0M1208.2 451.8h0M1249.4 430.9h0M1209.5 453.0h0M1204.6 442.5h0M1222.3 449.9h0M1219.5 439.9h0M1218.0 430.5h0M1205.9 443.5h0M1211.1 401.6h0M1226.6 416.4h0M1227.8 386.1h0M1228.4 387.4h0M1204.4 428.5h0M1227.5 422.0h0M1229.4 431.5h0M1229.9 447.0h0M1210.4 426.2h0M1228.8 428.4h0M1207.1 454.0h0M1226.9 399.0h0M1226.0 444.1h0M1255.0 437.4h0M1228.0 386.4h0M1208.7 439.5h0M1208.9 448.5h0M1242.0 447.6h0M1206.9 438.2h0M1202.2 431.8h0M1232.1 446.4h0M1217.0 441.2h0M1196.4 438.2h0M1206.8 430.1h0M1234.2 430.3h0M1230.1 453.0h0M1220.9 439.7h0M1209.6 439.0h0M1219.5 441.7h0M1221.7 432.4h0M1255.2 436.3h0M1214.8 447.1h0M1236.8 428.6h0M1206.5 442.4h0M1226.8 421.4h0M1222.0 448.7h0M1224.3 452.7h0M1226.3 375.9h0M1216.7 431.9h0M1192.8 438.3h0M1224.9 431.8h0M1227.9 418.5h0M1229.0 426.0h0M1250.1 445.7h0M1229.8 437.2h0M1199.4 440.4h0M1240.4 437.8h0M1237.2 436.7h0M1206.6 434.6h0M1228.1 379.7h0M1211.7 445.9h0M1221.9 449.6h0M1227.0 361.6h0M1210.2 451.1h0M1218.9 452.2h0M1207.1 426.2h0M1265.9 431.3h0M1215.1 406.1h0M1229.6 434.0h0M1230.4 444.0h0M1227.3 414.1h0M1232.7 433.7h0M1235.8 440.0h0M1205.0 440.6h0M1228.1 424.6h0M1234.9 443.9h0M1223.0 432.3h0M1224.0 404.3h0M1223.2 446.4h0M1234.8 445.8h0M1242.8 450.4h0M1259.0 431.2h0M1244.9 446.5h0M1230.5 442.7h0M1224.3 417.3h0M1221.8 439.7h0M1210.5 438.5h0M1232.2 456.0h0M1227.1 452.0h0M1216.2 450.0h0M1232.6 436.6h0M1224.8 411.0h0M1208.6 447.8h0M1242.8 447.6h0M1232.5 447.8h0M1212.5 431.5h0M1197.9 434.2h0M1250.2 436.7h0M1217.1 456.2h0M1211.5 442.4h0M1218.7 440.5h0M1245.2 436.6h0M1214.1 381.9h0M1216.6 443.2h0M1209.5 431.0h0M1246.4 448.3h0M1224.3 430.4h0M1231.7 452.9h0M1255.5 429.3h0M1217.6 448.3h0M1207.3 426.0h0M1235.8 438.8h0M1243.3 449.3h0M1219.2 454.1h0M1233.6 450.1h0M1229.3 434.5h0M1221.5 447.3h0M1208.3 430.4h0M1221.8 440.1h0M1230.4 433.8h0M1232.5 450.6h0M1220.9 454.8h0M1224.1 402.6h0M1214.2 386.3h0M1223.3 430.6h0M1223.1 427.0h0M1229.0 431.0h0M1211.6 424.7h0M1201.3 442.3h0M1213.4 408.3h0M1195.8 447.8h0M1245.3 437.2h0M1215.3 428.1h0M1218.7 437.7h0M1258.2 427.0h0M1229.8 454.3h0M1226.0 410.5h0M1222.1 440.6h0M1214.3 452.4h0M1198.9 428.0h0M1251.1 441.2h0M1225.0 421.0h0M1217.6 433.6h0M1217.4 439.9h0M1225.8 412.8h0M1222.1 453.3h0M1223.2 452.4h0M1257.8 441.8h0M1227.7 426.1h0M1182.6 436.8h0M1227.7 454.2h0M1212.6 436.9h0M1215.1 441.4h0M1221.3 455.3h0M1240.0 441.5h0M1196.2 438.0h0M1230.1 450.0h0M1224.9 377.2h0M1206.9 453.7h0M1255.7 444.5h0M1224.1 427.2h0M1221.2 445.6h0M1198.3 427.5h0M1219.6 449.7h0M1252.2 435.8h0M1213.6 417.3h0M1226.7 384.0h0M1236.4 432.3h0M1216.2 431.9h0M1232.1 427.7h0M1215.1 435.3h0M1219.1 449.7h0M1210.5 441.9h0M1207.5 455.7h0M1221.7 443.3h0M1196.0 440.9h0M1205.1 432.8h0M1205.2 447.3h0M1213.6 411.4h0M1232.0 428.3h0M1229.8 440.1h0M1217.2 434.0h0M1223.8 422.1h0M1238.7 438.1h0M1219.8 441.4h0M1256.0 444.5h0M1225.5 427.6h0M1241.4 438.0h0M1206.5 455.3h0M1218.2 449.4h0M1222.0 454.1h0M1211.3 382.3h0M1231.5 432.4h0M1232.8 429.6h0M1225.0 405.9h0M1226.9 379.5h0M1205.3 434.1h0M1197.6 450.8h0M1200.0 426.8h0M1216.5 445.4h0M1227.8 416.7h0M1198.7 443.9h0M1221.1 433.6h0M1233.7 426.4h0M1200.2 454.1h0M1212.1 366.0h0M1206.1 438.8h0M1211.6 432.2h0M1228.5 423.8h0M1208.2 452.8h0M1202.2 432.5h0M1210.6 436.1h0M1212.7 419.3h0M1256.6 436.2h0M1207.6 447.5h0M1247.6 431.6h0M1222.9 436.8h0M1208.3 445.1h0M1202.0 447.4h0M1226.5 420.5h0M1223.9 408.5h0M1213.3 418.7h0M1230.6 430.9h0M1194.8 438.6h0M1233.3 428.9h0M1229.3 442.2h0M1225.0 422.9h0M1229.8 444.1h0M1231.1 450.0h0M1226.8 400.8h0M1210.6 434.9h0M1222.7 456.3h0M1223.6 425.2h0M1211.8 386.7h0M1230.1 428.3h0M1210.8 456.8h0M1218.0 451.4h0M1227.3 399.2h0M1238.8 440.1h0M1217.2 440.3h0M1218.9 449.7h0M1221.9 438.6h0M1195.6 437.2h0M1209.3 451.6h0M1215.7 447.7h0M1241.1 444.2h0M1222.2 452.3h0M1219.5 441.6h0M1230.9 431.0h0M1243.9 427.4h0M1252.0 438.2h0M1229.7 456.1h0M1207.2 448.0h0M1219.3 456.1h0M1230.0 431.2h0M1219.0 446.7h0M1199.8 432.7h0M1214.6 423.3h0M1202.6 436.5h0M1215.5 433.0h0M1236.4 435.8h0M1203.6 447.7h0M1215.1 439.1h0M1254.6 432.1h0M1209.4 448.5h0M1215.7 435.0h0M1214.5 443.0h0M1224.9 428.8h0M1227.7 399.1h0M1224.3 401.0h0M1208.0 449.7h0M1223.1 450.1h0M1222.8 443.6h0M1227.4 443.7h0M1217.6 433.2h0M1234.2 452.2h0M1225.0 426.1h0M1220.2 449.9h0M1214.7 402.8h0M1222.8 455.1h0M1205.7 433.5h0M1225.1 426.7h0M1246.6 435.6h0M1218.6 446.4h0M1213.1 427.8h0M1221.3 455.4h0M1193.9 445.1h0M1241.6 428.8h0M1213.7 423.3h0M1206.0 455.6h0M1192.1 426.3h0M1207.3 438.3h0M1211.2 450.0h0M1215.9 442.3h0M1243.0 428.0h0M1199.4 430.0h0M1212.7 454.1h0M1241.7 451.5h0M1221.0 440.8h0M1217.7 448.0h0M1217.3 445.9h0M1226.9 379.1h0M1207.6 442.2h0M1231.3 452.0h0M1204.5 425.9h0M1217.9 444.0h0M1207.9 435.1h0M1225.6 439.3h0M1234.1 444.5h0M1227.1 414.5h0M1221.5 442.4h0M1232.0 429.1h0M1215.8 428.1h0M1235.3 442.1h0M1211.3 445.2h0M1230.7 443.3h0M1219.0 445.6h0M1239.1 442.1h0M1236.1 430.1h0M1208.6 456.2h0M1217.4 438.5h0M1249.5 444.1h0M1225.9 408.3h0M1214.9 395.2h0M1226.8 387.3h0M1205.3 453.5h0M1203.8 436.4h0M1226.8 369.7h0M1257.7 434.7h0M1206.5 428.5h0M1230.0 435.7h0M1225.3 449.3h0M1220.9 437.4h0M1219.0 448.1h0M1231.3 435.5h0M1228.3 412.7h0M1222.8 422.0h0M1225.9 420.1h0M1229.7 450.7h0M1221.3 432.9h0M1219.0 437.9h0M1237.3 436.4h0M1218.6 440.4h0M1219.6 436.6h0M1243.9 426.1h0M1232.1 447.5h0M1223.0 429.8h0M1226.7 398.8h0M1222.8 442.3h0M1248.1 436.6h0M1222.2 455.5h0M1230.0 446.5h0M1239.9 436.3h0M1224.7 394.6h0M1234.1 435.6h0M1226.6 434.3h0M1216.2 423.2h0M1229.3 437.3h0M1247.4 449.6h0M1213.8 364.6h0M1235.3 439.0h0M1228.0 414.6h0M1217.4 445.8h0M1224.7 448.7h0M1211.8 383.6h0M1210.9 454.3h0M1215.1 444.6h0M1262.9 430.9h0M1218.1 450.4h0M1218.3 456.7h0M1241.7 432.1h0M1194.2 443.4h0M1220.8 455.6h0M1224.6 442.7h0M1213.1 372.8h0M1228.8 442.4h0M1192.9 426.6h0M1232.3 447.8h0M1235.1 451.2h0M1216.0 428.1h0M1231.9 426.5h0M1219.8 440.6h0M1224.9 441.5h0M1211.3 399.9h0M1225.6 387.1h0M1199.5 449.0h0M1241.6 431.6h0M1224.5 408.1h0M1231.8 445.0h0M1223.1 449.1h0M1222.6 449.0h0M1219.8 436.0h0M1243.0 432.3h0M1204.6 449.4h0M1215.3 450.5h0M1215.8 440.5h0M1249.5 435.8h0M1211.9 447.0h0M1231.1 446.7h0M1229.2 453.6h0M1210.3 444.5h0M1212.0 368.2h0M1214.1 385.0h0M1222.3 453.2h0M1222.8 424.2h0M1222.0 435.4h0M1248.3 436.6h0M1210.3 450.4h0M1217.2 432.4h0M1229.8 456.7h0M1204.2 426.4h0M1220.1 436.0h0M1218.4 441.4h0M1188.2 444.2h0M1201.1 435.8h0M1227.6 448.6h0M1222.7 454.0h0M1230.2 448.0h0M1209.1 453.8h0M1226.0 360.1h0M1223.2 418.7h0M1222.9 437.5h0M1227.6 382.9h0M1223.9 426.6h0M1211.8 427.9h0M1212.6 425.8h0M1225.3 426.3h0M1208.1 442.0h0M1218.3 453.9h0M1220.5 452.1h0M1225.7 390.7h0M1208.4 430.5h0M1222.4 433.1h0M1231.3 434.7h0M1243.1 445.7h0M1244.7 433.8h0M1216.7 449.3h0M1223.0 443.6h0M1231.4 441.0h0M1205.0 433.7h0M1219.5 455.2h0M1214.8 406.4h0M1229.0 450.3h0M1231.4 439.5h0M1215.0 441.5h0M1242.6 446.2h0M1238.3 429.0h0M1225.1 376.8h0M1228.0 438.3h0M1203.8 442.4h0M1265.6 430.0h0M1215.6 448.7h0M1227.9 441.5h0M1202.8 446.4h0M1214.5 431.4h0M1230.2 435.5h0M1252.6 438.1h0M1249.7 429.7h0M1226.2 408.8h0M1226.5 448.4h0M1202.8 436.2h0M1247.6 428.1h0M1223.2 427.2h0M1233.5 435.5h0M1200.8 448.2h0M1219.7 454.9h0M1215.5 404.7h0M1191.3 443.0h0M1223.5 425.4h0M1235.9 455.2h0M1232.3 450.6h0M1210.8 437.0h0M1233.4 446.4h0M1231.1 431.7h0M1217.0 435.5h0M1231.7 449.6h0M1234.7 443.1h0M1235.4 453.3h0M1217.8 451.4h0M1218.8 441.6h0M1260.9 436.0h0M1218.1 456.0h0M1211.5 378.7h0M1217.7 456.0h0M1223.1 421.7h0M1238.4 453.5h0M1211.3 415.9h0M1221.5 432.3h0M1226.9 362.4h0M1218.0 451.6h0M1189.4 427.5h0M1218.1 441.4h0M1236.4 429.7h0M1235.1 434.1h0M1220.4 442.3h0M1224.7 433.6h0M1210.0 445.8h0M1194.3 426.1h0M1211.3 423.0h0M1219.1 452.5h0M1228.7 442.9h0M1215.1 397.0h0M1214.2 455.9h0M1227.9 391.5h0M1231.3 429.3h0M1209.8 448.5h0M1211.0 445.0h0M1230.8 441.8h0M1237.5 432.0h0M1250.0 429.1h0M1269.4 433.5h0M1269.3 427.8h0M1235.1 428.4h0M1207.4 444.1h0M1228.2 405.5h0M1189.7 448.6h0M1224.9 439.2h0M1219.7 449.2h0M1209.9 434.7h0M1217.3 441.2h0M1240.7 436.1h0M1226.7 442.2h0M1226.7 385.6h0M1218.6 438.7h0M1232.9 434.9h0M1216.5 448.3h0M1222.4 441.9h0M1190.1 429.2h0M1217.7 445.8h0M1198.7 432.2h0M1204.2 441.9h0M1186.5 437.7h0M1233.7 452.0h0M1242.2 450.3h0M1219.8 452.3h0M1231.4 440.5h0M1218.6 456.4h0M1224.0 394.2h0M1226.3 456.5h0M1263.5 439.1h0M1236.2 448.7h0M1228.2 430.4h0M1226.3 446.5h0M1209.2 435.7h0M1216.3 448.8h0M1222.5 426.7h0M1203.0 431.9h0M1230.8 434.8h0M1235.6 444.3h0M1254.0 428.5h0M1229.8 441.3h0M1216.0 457.4h0M1227.2 414.4h0M1228.2 400.2h0M1198.4 426.3h0M1222.6 442.8h0M1237.4 449.0h0M1222.8 457.1h0M1224.6 386.5h0M1210.3 445.1h0M1213.5 388.6h0M1232.5 452.9h0M1211.6 417.8h0M1218.7 447.6h0M1201.8 437.0h0M1206.6 445.1h0M1241.9 426.0h0M1201.8 446.8h0M1218.4 439.1h0M1215.2 442.3h0M1220.8 434.4h0M1220.6 444.6h0M1213.2 436.2h0M1254.3 446.2h0M1221.9 455.4h0M1221.5 443.2h0M1224.2 428.2h0M1215.5 410.3h0M1212.5 435.6h0M1221.1 444.3h0M1237.3 428.0h0M1219.3 434.5h0M1213.5 365.9h0M1221.9 432.8h0M1224.2 424.9h0M1224.5 387.8h0M1201.8 449.1h0M1212.7 396.4h0M1220.1 440.5h0M1213.6 454.7h0M1231.7 456.3h0M1201.7 435.8h0M1181.0 426.4h0M1214.5 432.4h0M1221.1 443.0h0M1238.6 439.0h0M1211.2 413.0h0M1232.6 455.6h0M1211.7 431.3h0M1218.7 453.0h0M1243.9 434.3h0M1213.3 410.6h0M1226.1 389.1h0M1210.1 443.2h0M1224.7 393.7h0M1217.7 433.9h0M1256.7 428.7h0M1239.6 433.9h0M1231.7 426.8h0M1234.2 431.7h0M1213.5 421.3h0M1231.9 448.2h0M1220.8 435.5h0M1238.7 450.1h0M1218.6 452.7h0M1219.1 433.0h0M1247.2 441.7h0M1214.3 399.8h0M1225.0 425.8h0M1224.9 456.1h0M1198.3 433.3h0M1212.5 452.4h0M1193.1 428.7h0M1213.2 453.1h0M1214.5 450.9h0M1202.1 454.2h0M1239.9 444.7h0M1215.7 453.5h0M1225.9 398.1h0M1214.7 405.8h0M1217.5 430.9h0M1229.8 435.8h0M1233.0 452.5h0M1220.3 437.8h0M1216.8 431.0h0M1210.9 406.1h0M1218.0 452.8h0M1215.0 442.5h0M1231.1 437.3h0M1217.8 455.3h0M1251.4 427.9h0M1221.7 431.4h0M1237.5 446.8h0M1222.4 444.0h0M1211.0 426.8h0M1208.7 437.3h0M1217.7 438.0h0M1236.5 433.5h0M1210.2 449.2h0M1215.5 432.6h0M1225.2 408.5h0M1217.4 441.0h0M1240.9 453.2h0M1215.6 434.8h0M1225.5 457.3h0M1212.1 407.3h0M1216.6 426.0h0M1213.7 419.5h0M1210.9 437.6h0M1237.9 444.3h0M1207.3 455.2h0M1228.2 402.0h0M1219.3 445.8h0M1215.8 448.1h0M1208.6 452.1h0M1202.7 433.5h0M1203.2 436.6h0M1213.6 415.1h0M1207.6 447.8h0M1231.0 433.8h0M1227.5 399.5h0M1237.8 427.4h0M1235.5 431.1h0M1228.9 445.0h0M1201.2 453.6h0M1256.7 443.3h0M1228.1 381.3h0M1221.9 451.9h0M1202.5 441.0h0M1223.1 448.2h0M1215.9 456.2h0M1209.7 450.1h0M1234.8 444.1h0M1218.7 454.4h0M1228.3 424.5h0M1237.3 430.4h0M1224.9 383.4h0M1229.0 450.8h0M1232.7 451.4h0M1231.1 448.7h0M1220.6 449.8h0M1224.6 457.1h0M1206.4 453.6h0M1185.5 441.1h0M1220.1 455.6h0M1215.1 433.8h0M1205.8 433.5h0M1220.7 452.7h0M1222.8 445.6h0M1224.7 411.5h0M1227.7 439.4h0M1209.9 448.5h0M1235.1 436.1h0M1213.5 402.0h0M1231.6 446.3h0M1200.7 451.9h0M1214.7 428.6h0M1215.8 410.2h0M1213.0 454.6h0M1224.0 438.7h0M1222.3 445.2h0M1190.9 449.4h0M1220.0 450.3h0M1240.1 449.4h0M1239.5 442.5h0M1229.0 448.7h0M1209.4 447.1h0M1239.7 434.8h0M1224.1 390.0h0M1220.5 453.4h0M1230.4 449.6h0M1230.6 431.8h0M1231.0 439.6h0M1252.7 433.3h0M1231.9 428.2h0M1252.4 441.5h0M1210.5 455.6h0M1235.3 449.3h0M1239.8 453.4h0M1225.9 413.5h0M1224.5 443.8h0M1227.5 403.3h0M1216.5 432.7h0M1219.5 443.9h0M1226.8 421.9h0M1229.5 454.1h0M1218.4 449.2h0M1209.3 446.4h0M1200.1 450.2h0M1202.5 434.1h0M1213.4 423.9h0M1210.0 431.4h0M1213.8 414.3h0M1205.8 447.7h0M1218.8 436.7h0M1213.8 379.8h0M1244.0 435.2h0M1236.6 431.9h0M1225.4 432.4h0M1212.5 453.4h0M1227.5 442.9h0M1239.4 440.7h0M1213.7 368.0h0M1225.7 436.8h0M1221.5 434.8h0M1214.9 405.9h0M1208.8 428.4h0M1235.0 435.8h0M1230.0 434.2h0M1210.5 432.4h0M1218.8 448.6h0M1235.8 434.7h0M1207.6 438.6h0M1220.9 457.2h0M1210.7 447.0h0M1214.5 417.6h0M1239.5 433.2h0M1227.1 399.0h0M1212.3 417.8h0M1249.4 439.3h0M1213.6 390.2h0M1216.8 456.7h0M1220.5 456.2h0M1185.6 438.0h0M1240.1 452.8h0M1220.2 450.5h0M1208.7 429.9h0M1209.7 431.2h0M1217.9 449.9h0M1214.8 436.2h0M1220.4 438.9h0M1225.0 385.6h0M1224.3 432.9h0M1217.1 443.9h0M1211.3 453.2h0M1190.3 446.2h0M1219.0 438.5h0M1246.6 447.1h0M1211.1 421.7h0M1213.5 448.6h0M1220.6 456.8h0M1209.6 454.8h0M1236.7 431.9h0M1213.9 443.5h0M1222.5 437.1h0M1229.7 428.7h0M1260.3 437.4h0M1227.9 391.1h0M1187.2 430.6h0M1220.8 448.1h0M1232.0 452.6h0M1225.4 384.5h0M1212.7 434.7h0M1213.0 410.2h0M1216.8 447.1h0M1206.1 442.8h0M1200.4 444.6h0M1223.4 445.0h0M1194.9 429.1h0M1229.4 446.5h0M1224.6 448.5h0M1210.9 426.8h0M1194.4 428.2h0M1221.7 446.5h0M1249.2 441.9h0M1232.1 438.7h0M1229.7 431.2h0M1219.1 441.3h0M1206.8 453.8h0M1207.6 448.9h0M1225.3 437.6h0M1223.7 432.8h0M1219.4 446.2h0M1221.5 442.2h0M1206.1 453.0h0M1228.0 409.9h0M1227.9 452.7h0M1206.4 451.7h0M1227.6 449.7h0M1200.3 449.7h0M1224.1 422.8h0M1222.2 453.5h0M1223.2 441.3h0M1218.3 450.4h0M1228.2 417.7h0M1239.8 426.8h0M1245.8 443.1h0M1226.9 390.8h0M1233.4 441.2h0M1189.5 429.8h0M1209.0 453.3h0M1249.9 430.8h0M1206.0 443.7h0M1228.4 403.9h0M1243.7 435.7h0M1214.5 422.9h0M1225.6 431.7h0M1209.9 428.7h0M1221.2 440.6h0M1199.6 450.7h0M1192.3 447.8h0M1230.5 444.6h0M1258.2 435.7h0M1216.1 443.7h0M1219.5 454.5h0M1223.4 407.7h0M1205.3 454.8h0M1222.7 451.0h0M1214.3 391.0h0M1209.7 456.2h0M1207.1 434.9h0M1208.2 445.2h0M1228.9 426.0h0M1199.7 453.7h0M1223.6 448.7h0M1202.7 428.7h0M1227.9 448.7h0M1202.2 427.1h0M1226.2 360.3h0M1209.7 440.4h0M1230.9 446.8h0M1235.1 433.7h0M1219.1 434.1h0M1201.5 438.3h0M1226.2 372.3h0M1227.1 385.0h0M1192.5 447.7h0M1208.8 430.1h0M1264.4 438.0h0M1218.4 434.3h0M1235.2 440.3h0M1233.8 453.9h0M1226.0 428.0h0M1198.8 442.1h0M1211.1 438.1h0M1216.7 433.8h0M1214.7 404.1h0M1227.1 431.7h0M1219.5 447.2h0M1218.2 434.9h0M1223.0 451.6h0M1210.9 437.0h0M1206.0 444.0h0M1215.4 400.7h0M1238.0 439.8h0M1226.1 417.5h0M1229.7 428.6h0M1223.7 413.3h0M1218.5 445.9h0M1217.2 439.8h0M1212.9 435.2h0M1208.8 428.1h0M1213.4 439.9h0M1252.2 431.9h0M1231.1 453.1h0M1221.2 435.7h0M1220.8 447.4h0M1222.2 439.1h0M1216.2 454.1h0M1228.6 430.4h0M1226.9 389.8h0M1220.1 450.4h0M1227.6 413.4h0M1222.2 454.7h0M1215.8 457.5h0M1209.0 435.7h0M1228.3 388.0h0M1211.8 396.6h0M1225.6 372.5h0M1215.8 452.2h0M1227.4 406.1h0M1205.5 430.5h0M1226.3 425.2h0M1235.5 451.7h0M1229.9 434.5h0M1233.4 454.0h0M1202.0 436.2h0M1221.5 451.3h0M1207.2 453.8h0M1220.7 437.1h0M1180.9 435.1h0M1223.6 437.1h0M1204.7 452.0h0M1224.6 426.8h0M1224.9 441.4h0M1234.5 427.4h0M1227.4 433.2h0M1219.3 438.7h0M1225.5 365.5h0M1209.4 456.2h0M1222.1 442.7h0M1210.8 440.9h0M1227.5 402.7h0M1239.2 451.0h0M1232.7 436.2h0M1224.5 439.2h0M1214.2 387.2h0M1230.8 444.6h0M1225.1 406.0h0M1215.9 428.8h0M1223.8 450.0h0M1220.7 446.0h0M1215.4 438.8h0M1224.1 449.1h0M1232.8 426.4h0M1232.8 431.4h0M1258.6 427.5h0M1222.9 442.8h0M1244.8 442.9h0M1212.1 437.8h0M1217.6 455.7h0M1231.1 441.7h0M1219.7 451.6h0M1256.7 431.8h0M1241.6 441.7h0M1234.6 430.3h0M1229.9 443.1h0M1208.1 441.6h0M1207.0 446.9h0M1223.2 432.5h0M1218.5 438.9h0M1221.6 447.1h0M1238.6 429.7h0M1220.0 442.6h0M1239.3 440.8h0M1220.4 452.2h0M1227.2 422.5h0M1231.9 433.4h0M1215.7 450.8h0M1210.2 456.3h0M1212.9 411.9h0M1205.0 443.4h0M1219.3 438.2h0M1230.9 439.9h0M1227.4 427.4h0M1198.6 435.5h0M1195.6 430.2h0M1197.6 437.3h0M1219.7 451.5h0M1228.2 447.6h0M1230.8 445.0h0M1211.8 420.8h0M1199.3 450.7h0M1236.2 430.9h0M1198.1 452.8h0M1216.9 431.6h0M1235.8 432.8h0M1202.7 443.3h0M1216.9 456.8h0M1211.5 392.5h0M1211.6 385.4h0M1211.4 381.3h0M1211.7 431.1h0M1213.6 420.6h0M1212.9 400.9h0M1211.9 364.5h0M1213.1 382.9h0M1214.2 395.7h0M1215.4 400.8h0M1212.9 406.9h0M1214.9 397.8h0M1216.4 424.6h0M1211.1 425.5h0M1213.3 401.2h0M1211.9 417.2h0M1214.1 411.1h0M1211.7 395.7h0M1214.2 395.9h0M1212.3 429.8h0M1213.1 369.4h0M1212.5 381.3h0M1213.1 417.1h0M1213.9 404.9h0M1213.7 392.2h0M1213.7 428.6h0M1213.0 427.1h0M1214.2 413.7h0M1213.6 377.1h0M1212.9 429.3h0M1211.6 386.8h0M1212.5 414.9h0M1210.9 404.7h0M1212.7 374.3h0M1213.2 381.6h0M1212.7 430.0h0M1213.3 364.3h0M1212.3 382.4h0M1211.3 401.4h0M1213.9 423.6h0M1211.9 413.3h0M1212.7 384.6h0M1212.5 384.9h0M1212.1 381.6h0M1214.6 432.6h0M1212.6 404.8h0M1213.5 389.4h0M1212.9 415.0h0M1215.7 428.1h0M1214.6 383.1h0M1212.1 369.0h0M1211.3 371.9h0M1214.2 388.6h0M1213.3 385.8h0M1213.2 407.2h0M1212.1 423.7h0M1212.3 425.4h0M1212.5 393.4h0M1211.4 428.2h0M1211.5 417.5h0M1211.3 379.5h0M1212.5 425.0h0M1214.7 415.0h0M1215.6 428.1h0M1213.9 409.0h0M1214.0 421.6h0M1226.0 396.8h0M1225.6 380.9h0M1226.6 421.2h0M1227.8 415.2h0M1226.9 368.3h0M1223.7 418.8h0M1228.1 404.6h0M1227.0 413.1h0M1224.9 381.2h0M1227.8 373.9h0M1224.6 409.7h0M1226.5 427.0h0M1225.9 385.1h0M1226.3 393.9h0M1225.8 421.6h0M1227.6 394.1h0M1227.9 381.1h0M1227.8 416.6h0M1228.2 389.7h0M1224.9 426.8h0M1226.7 359.2h0M1224.7 415.6h0M1226.7 397.6h0M1227.0 411.0h0M1227.9 416.2h0M1226.3 389.7h0M1226.1 430.8h0M1224.9 379.9h0M1226.0 379.8h0M1225.6 395.9h0M1226.6 412.1h0M1222.8 425.5h0M1227.0 398.6h0M1227.6 425.1h0M1226.8 416.2h0M1225.0 399.3h0M1225.3 422.8h0M1228.3 414.8h0M1228.5 432.6h0M1225.0 416.4h0M1226.8 385.0h0M1226.4 370.6h0M1223.8 407.7h0M1226.7 432.5h0M1223.7 421.5h0M1224.8 392.7h0M1223.6 417.6h0M1227.5 414.3h0M1225.0 383.0h0M1226.6 387.0h0M1228.4 393.8h0M1224.7 402.5h0M1225.5 423.9h0M1226.3 360.8h0M1226.8 361.6h0M1227.7 432.5h0M1222.7 422.5h0M1227.2 429.3h0M1227.5 393.7h0M1228.0 427.8h0M1226.9 388.0h0M1227.0 369.9h0M1227.5 390.0h0M1225.1 409.1h0M1228.3 393.4h0M1227.1 375.3h0M1224.8 426.9h0M1225.4 407.2h0M1225.9 362.8h0M1225.3 428.4h0M1226.9 376.7h0" stroke="#b2b2b2" stroke-width="1.05" stroke-linecap="square" fill="none"/>
<path d="M1208.7 353.1h0M1210.0 352.6h0M1199.0 371.3h0M1209.6 372.6h0M1183.1 381.3h0M1204.3 380.5h0M1210.9 378.5h0M1192.4 392.2h0M1205.6 391.7h0M1208.3 388.0h0M1210.9 385.5h0M1203.0 400.5h0M1190.6 403.4h0M1204.7 404.2h0M1179.6 412.2h0M1197.7 410.4h0M1206.5 412.9h0M1208.3 414.9h0M1210.0 413.4h0M1210.9 415.4h0M1203.0 417.9h0M1205.6 416.6h0M1208.3 421.6h0M1210.9 422.9h0M1179.6 424.9h0M1209.6 417.4h0M1207.4 415.9h0" stroke="#0000FF" stroke-width="1.4" stroke-linecap="round" fill="none"/>
<path d="M1332.4 393.8h0M1332.9 402.3h0M1332.4 391.1h0M1332.1 398.2h0M1332.6 368.3h0M1332.0 414.2h0M1332.0 366.2h0M1332.6 425.0h0M1332.9 345.7h0M1332.6 388.2h0M1332.1 425.3h0M1332.5 424.7h0M1332.1 417.8h0M1331.9 402.4h0M1332.4 362.1h0M1332.4 385.7h0M1332.4 383.3h0M1332.4 415.7h0M1333.0 341.3h0M1332.8 378.3h0M1332.2 418.4h0M1332.2 424.4h0M1332.7 407.5h0M1332.8 408.5h0M1332.9 361.5h0M1331.9 419.4h0M1332.9 401.9h0M1332.9 407.7h0M1332.0 386.8h0M1332.7 416.2h0M1332.0 412.3h0M1332.9 372.5h0M1332.0 417.5h0M1332.0 424.7h0M1332.4 331.5h0M1332.4 345.7h0M1332.4 350.6h0M1231.5 420.0h0M1230.8 405.5h0M1229.6 384.3h0M1229.4 391.4h0M1229.4 407.2h0M1229.7 415.8h0M1232.0 378.2h0M1230.0 371.0h0M1229.7 408.8h0M1231.7 391.6h0M1229.4 361.1h0M1229.7 416.4h0M1231.4 412.6h0M1230.0 423.6h0M1229.3 396.1h0M1229.8 394.7h0M1230.2 405.1h0M1232.0 403.1h0M1230.8 372.6h0M1229.6 421.0h0M1231.9 377.0h0M1229.8 419.5h0M1231.3 365.8h0M1229.7 364.9h0M1231.8 394.5h0M1230.3 422.7h0M1231.7 334.4h0M1233.0 351.4h0M1230.4 369.3h0M1233.0 370.1h0M1235.7 363.8h0M1231.3 395.3h0M1234.4 410.9h0M1234.9 404.5h0M1251.1 423.2h0M1233.0 410.1h0M1231.5 423.9h0M1248.7 402.8h0M1252.3 423.3h0M1278.1 424.2h0M1231.3 423.5h0M1242.3 424.8h0M1233.0 421.9h0M1249.5 424.6h0M1238.6 400.3h0M1284.8 413.1h0M1257.9 415.9h0M1232.3 424.9h0M1231.3 399.0h0M1258.6 395.3h0M1231.3 413.9h0M1244.2 409.6h0M1236.9 392.5h0M1231.6 417.3h0M1261.5 399.7h0M1261.5 410.9h0M1266.3 398.7h0M1238.1 411.8h0M1276.4 401.6h0M1240.9 406.4h0M1272.8 416.4h0M1253.0 421.6h0M1250.2 415.0h0M1231.6 413.8h0M1286.2 401.1h0M1261.3 356.4h0M1266.6 385.5h0M1255.1 393.0h0M1269.2 393.0h0M1272.8 396.7h0M1276.3 398.5h0M1280.7 394.2h0M1290.5 396.0h0M1294.9 375.0h0M1294.9 375.5h0M1299.3 364.8h0M1298.4 381.8h0M1308.6 364.3h0M1309.5 393.5h0M1318.3 376.0h0M1326.7 372.6h0M1326.7 373.1h0M1286.0 405.4h0M1288.7 402.9h0M1277.2 411.7h0M1263.1 406.7h0M1264.8 404.2h0M1256.0 399.2h0M1258.6 402.9h0M1286.0 423.4h0M1285.2 410.4h0" stroke="#FF0000" stroke-width="1.4" stroke-linecap="round" fill="none"/>
<path d="M1176.7 425.3H1343.7" stroke="#111" stroke-width="0.6" stroke-dasharray="1.6 1.3" fill="none"/>
<rect x="1227.5" y="319.4" width="107.2" height="106.9" fill="none" stroke="#111" stroke-width="1.0"/>
<path d="M1176.7 299.3V462.4H1343.7" stroke="#777" stroke-width="1.0" fill="none"/>
<text x="1173.9" y="459.9" font-size="6.0" text-anchor="end" fill="#555" stroke="#555" stroke-width="0.14">0</text>
<text x="1173.9" y="434.9" font-size="6.0" text-anchor="end" fill="#555" stroke="#555" stroke-width="0.14">1</text>
<text x="1173.9" y="410.0" font-size="6.0" text-anchor="end" fill="#555" stroke="#555" stroke-width="0.14">2</text>
<text x="1173.9" y="385.1" font-size="6.0" text-anchor="end" fill="#555" stroke="#555" stroke-width="0.14">3</text>
<text x="1173.9" y="360.2" font-size="6.0" text-anchor="end" fill="#555" stroke="#555" stroke-width="0.14">4</text>
<text x="1173.9" y="335.3" font-size="6.0" text-anchor="end" fill="#555" stroke="#555" stroke-width="0.14">5</text>
<text x="1173.9" y="310.4" font-size="6.0" text-anchor="end" fill="#555" stroke="#555" stroke-width="0.14">6</text>
<text x="1219.8" y="468.0" font-size="4.4" text-anchor="middle" fill="#444" stroke="#444" stroke-width="0.14">0</text>
<text x="1263.9" y="468.0" font-size="4.4" text-anchor="middle" fill="#444" stroke="#444" stroke-width="0.14">5</text>
<text x="1308.1" y="468.0" font-size="4.4" text-anchor="middle" fill="#444" stroke="#444" stroke-width="0.14">10</text>
<path d="M1176.7 457.8h-1.6M1176.7 432.8h-1.6M1176.7 407.9h-1.6M1176.7 383.0h-1.6M1176.7 358.1h-1.6M1176.7 333.2h-1.6M1176.7 308.3h-1.6M1219.8 462.4v1.4M1263.9 462.4v1.4M1308.1 462.4v1.4" stroke="#111" stroke-width="0.5" fill="none"/>
<text x="1250.2" y="301.9" font-size="13.6" text-anchor="middle" font-weight="bold">a</text>
<text x="1280.6" y="313.7" font-size="7.1" text-anchor="middle" stroke="#000" stroke-width="0.14">E15_eCON vs. E15_eCCAB</text>
<text x="1260.5" y="479.1" font-size="6.85" text-anchor="middle" stroke="#000" stroke-width="0.14">log2(fold change)</text>
<text font-size="6.2" text-anchor="middle" fill="#111" transform="translate(1159.5 380.5) scale(-1 1) rotate(-90)">-log10(Padj)</text>
<circle cx="1352.7" cy="454.7" r="0.9" fill="#b8b8b8"/>
<text x="1356.6" y="456.3" font-size="6.2" stroke="#000" stroke-width="0.14">NoDiff</text>
<circle cx="1352.7" cy="462.6" r="0.9" fill="#0000FF"/>
<text x="1356.6" y="464.2" font-size="6.2" stroke="#000" stroke-width="0.14">Down</text>
<circle cx="1352.7" cy="470.6" r="0.9" fill="#FF0000"/>
<text x="1356.6" y="472.2" font-size="6.2" stroke="#000" stroke-width="0.14">Up</text>
</g>
<g id="vb">
<path d="M1442.3 298.0V460.3M1472.0 298.0V460.3" stroke="#999" stroke-width="0.5" stroke-dasharray="1.2 1" fill="none" stroke-opacity="0.55"/>
<path d="M1393.3 456.5h0M1393.3 453.7h0M1393.3 452.2h0M1393.3 450.9h0M1393.3 448.0h0M1393.3 446.5h0M1393.3 445.0h0M1393.3 442.7h0M1393.3 440.9h0M1393.3 438.2h0M1393.3 436.6h0M1393.3 433.8h0M1393.3 432.0h0M1393.3 429.8h0M1393.3 427.1h0M1393.3 424.7h0M1546.9 456.5h0M1546.9 454.1h0M1546.9 452.7h0M1546.9 450.1h0M1546.9 447.9h0M1546.9 446.1h0M1546.9 444.5h0M1546.9 441.9h0M1546.9 439.7h0M1546.9 437.0h0M1546.9 434.5h0M1546.9 431.7h0M1546.9 429.6h0M1546.9 427.2h0M1546.9 425.0h0M1441.8 424.9h0M1509.4 434.0h0M1452.2 454.5h0M1451.1 454.7h0M1425.8 438.6h0M1460.2 430.4h0M1445.6 434.9h0M1473.3 437.6h0M1450.9 451.4h0M1429.3 441.0h0M1431.3 424.8h0M1478.9 441.1h0M1466.6 391.3h0M1453.8 447.0h0M1460.8 437.1h0M1469.2 399.2h0M1457.7 446.1h0M1452.5 416.7h0M1469.3 412.0h0M1445.0 386.8h0M1414.4 430.3h0M1463.4 387.6h0M1406.4 436.7h0M1437.0 434.4h0M1470.1 427.3h0M1479.4 451.5h0M1452.7 448.8h0M1465.3 352.9h0M1458.2 444.3h0M1466.0 417.2h0M1511.7 433.4h0M1446.6 380.1h0M1464.3 418.6h0M1494.5 429.8h0M1459.4 449.1h0M1470.1 409.9h0M1475.8 452.1h0M1445.7 410.1h0M1455.7 436.3h0M1459.6 438.9h0M1473.9 437.8h0M1450.5 432.8h0M1463.2 426.4h0M1457.9 452.0h0M1491.0 439.0h0M1438.2 438.2h0M1457.8 435.2h0M1467.9 379.8h0M1480.6 440.6h0M1458.4 436.6h0M1453.9 451.8h0M1451.2 434.4h0M1420.4 442.7h0M1455.0 433.0h0M1434.4 451.9h0M1452.9 432.5h0M1467.7 449.7h0M1453.3 440.7h0M1487.3 433.3h0M1445.1 434.5h0M1506.2 424.9h0M1444.5 417.7h0M1457.2 455.1h0M1483.1 443.0h0M1456.6 445.2h0M1465.7 437.7h0M1447.4 379.1h0M1466.4 391.9h0M1489.4 447.5h0M1454.3 442.0h0M1466.9 421.6h0M1467.3 451.3h0M1467.8 404.2h0M1448.4 410.5h0M1451.6 404.2h0M1471.6 437.8h0M1504.7 426.5h0M1475.2 443.0h0M1465.5 440.3h0M1459.7 434.8h0M1438.6 434.7h0M1463.0 381.9h0M1455.7 438.4h0M1482.3 442.1h0M1450.7 429.6h0M1455.1 441.4h0M1457.1 437.3h0M1489.2 435.3h0M1425.4 442.7h0M1450.4 431.9h0M1403.9 428.3h0M1489.0 438.2h0M1459.0 440.2h0M1454.8 435.2h0M1449.4 438.0h0M1438.1 442.4h0M1461.3 437.3h0M1465.5 439.9h0M1444.0 451.0h0M1458.9 443.7h0M1474.5 446.4h0M1468.2 410.0h0M1442.7 449.2h0M1451.6 454.1h0M1484.5 436.0h0M1485.2 433.6h0M1437.5 446.6h0M1482.0 440.2h0M1448.8 444.5h0M1493.2 425.2h0M1478.1 437.2h0M1446.5 370.4h0M1433.6 450.2h0M1470.3 398.6h0M1454.4 434.3h0M1479.2 444.5h0M1514.4 429.0h0M1475.6 440.0h0M1466.6 427.3h0M1463.3 387.3h0M1446.2 394.6h0M1479.9 450.2h0M1461.0 441.5h0M1468.8 368.2h0M1478.8 452.6h0M1432.7 428.9h0M1472.0 454.0h0M1448.1 429.0h0M1468.7 423.9h0M1452.8 448.8h0M1452.1 425.1h0M1463.7 372.0h0M1436.5 443.0h0M1470.2 448.3h0M1461.7 439.0h0M1509.7 432.1h0M1454.3 431.0h0M1473.3 447.9h0M1458.6 431.9h0M1497.0 443.3h0M1453.1 443.4h0M1454.2 456.4h0M1440.8 439.4h0M1435.4 437.6h0M1448.4 428.3h0M1458.4 452.3h0M1448.8 406.5h0M1456.6 450.6h0M1441.0 433.1h0M1446.7 405.4h0M1450.1 428.5h0M1484.3 439.3h0M1473.4 439.0h0M1469.9 428.8h0M1460.1 448.1h0M1452.8 424.1h0M1450.9 433.4h0M1469.7 436.4h0M1484.9 448.6h0M1458.5 431.2h0M1419.8 428.8h0M1487.1 436.7h0M1465.7 406.8h0M1448.7 423.6h0M1425.5 429.1h0M1460.9 443.7h0M1436.8 425.4h0M1463.3 410.9h0M1448.9 403.2h0M1437.3 442.3h0M1486.1 430.7h0M1451.2 435.0h0M1440.8 434.0h0M1453.2 455.2h0M1412.2 436.2h0M1469.6 419.9h0M1448.2 441.0h0M1463.3 453.1h0M1477.0 450.9h0M1510.1 429.1h0M1454.8 434.9h0M1475.1 427.7h0M1467.6 355.5h0M1483.1 427.3h0M1451.4 407.6h0M1440.8 432.1h0M1457.5 442.1h0M1465.9 357.9h0M1474.2 443.3h0M1449.9 436.1h0M1470.9 444.6h0M1449.7 404.7h0M1424.7 431.8h0M1444.5 411.6h0M1469.6 449.4h0M1444.7 428.8h0M1437.8 452.6h0M1459.3 442.2h0M1452.2 430.9h0M1461.9 440.2h0M1465.0 411.1h0M1479.3 439.9h0M1441.8 428.5h0M1477.0 434.5h0M1485.7 439.5h0M1435.6 438.3h0M1440.2 431.5h0M1433.6 431.7h0M1429.1 432.6h0M1469.0 369.5h0M1416.0 439.4h0M1501.0 439.9h0M1471.6 430.9h0M1467.6 433.1h0M1474.8 432.2h0M1439.5 437.8h0M1475.4 426.8h0M1478.9 449.4h0M1490.9 438.2h0M1408.8 438.2h0M1467.1 409.3h0M1471.8 430.0h0M1463.2 421.7h0M1480.0 428.3h0M1457.8 434.7h0M1454.9 432.0h0M1496.2 434.7h0M1462.2 416.7h0M1453.1 455.2h0M1448.6 408.3h0M1445.4 438.3h0M1441.8 436.3h0M1473.1 441.7h0M1478.7 447.7h0M1438.4 431.0h0M1420.4 431.5h0M1453.5 430.5h0M1476.9 432.0h0M1458.9 449.0h0M1485.9 436.1h0M1442.6 448.4h0M1462.4 418.9h0M1443.6 444.4h0M1450.0 448.3h0M1483.2 444.5h0M1405.6 426.7h0M1473.0 449.7h0M1465.4 455.9h0M1447.2 384.2h0M1481.8 440.4h0M1463.9 394.9h0M1471.8 420.6h0M1446.0 444.7h0M1516.9 424.9h0M1435.8 437.2h0M1451.8 449.6h0M1443.6 415.1h0M1467.0 373.0h0M1460.3 430.5h0M1458.3 436.3h0M1454.9 444.7h0M1454.3 443.9h0M1469.2 443.6h0M1467.1 335.7h0M1441.2 449.4h0M1493.6 435.3h0M1458.9 443.3h0M1458.2 446.5h0M1449.0 429.0h0M1474.0 442.1h0M1466.7 455.3h0M1467.3 364.4h0M1511.8 426.6h0M1459.3 444.2h0M1508.1 430.9h0M1473.9 430.7h0M1421.6 431.7h0M1482.3 431.1h0M1453.3 451.4h0M1440.8 444.3h0M1446.3 444.9h0M1432.0 431.4h0M1453.3 439.1h0M1437.3 432.4h0M1455.7 442.4h0M1442.1 439.5h0M1460.1 448.0h0M1459.6 439.0h0M1469.2 384.9h0M1479.1 452.2h0M1476.4 433.9h0M1453.6 428.2h0M1441.2 428.8h0M1449.7 429.8h0M1461.6 456.3h0M1413.3 435.0h0M1455.3 453.4h0M1452.8 449.2h0M1477.2 440.0h0M1485.4 446.4h0M1465.8 362.3h0M1465.7 403.0h0M1429.4 429.1h0M1468.7 449.4h0M1482.4 426.0h0M1430.0 438.4h0M1456.0 441.9h0M1467.4 384.1h0M1466.9 406.8h0M1446.0 438.7h0M1427.3 435.5h0M1464.2 389.3h0M1489.6 427.3h0M1460.8 439.9h0M1457.5 437.0h0M1477.5 447.5h0M1466.6 430.9h0M1498.8 425.9h0M1468.7 443.5h0M1469.0 370.3h0M1424.3 438.8h0M1453.2 429.7h0M1443.5 424.3h0M1460.5 430.0h0M1402.2 426.8h0M1453.6 447.9h0M1469.9 430.7h0M1429.7 434.1h0M1437.3 427.1h0M1469.3 402.3h0M1446.4 384.1h0M1471.8 422.2h0M1454.0 441.0h0M1438.5 445.7h0M1449.4 427.5h0M1455.2 453.1h0M1458.6 443.4h0M1467.2 403.4h0M1450.8 435.4h0M1467.3 407.9h0M1420.9 435.0h0M1507.2 430.7h0M1474.2 448.4h0M1446.2 424.5h0M1451.0 438.0h0M1477.8 431.2h0M1474.5 437.7h0M1451.5 429.7h0M1445.2 444.7h0M1443.8 443.4h0M1457.8 453.8h0M1469.3 440.9h0M1412.3 431.3h0M1489.0 438.0h0M1479.7 440.1h0M1442.0 432.0h0M1464.7 454.8h0M1463.1 417.9h0M1469.7 403.2h0M1441.3 441.2h0M1431.4 431.6h0M1481.4 440.9h0M1497.4 443.5h0M1450.4 400.5h0M1470.4 439.6h0M1456.8 441.1h0M1462.8 384.8h0M1483.6 442.3h0M1454.2 446.7h0M1468.9 444.9h0M1461.8 418.5h0M1457.9 446.1h0M1465.3 386.9h0M1417.0 427.6h0M1451.2 456.2h0M1473.5 440.1h0M1480.4 452.2h0M1474.1 432.8h0M1456.6 432.4h0M1451.6 455.8h0M1454.4 439.3h0M1480.7 451.3h0M1473.1 426.7h0M1456.7 448.4h0M1463.3 409.0h0M1467.5 341.5h0M1471.7 445.2h0M1466.7 357.9h0M1493.6 433.6h0M1425.7 428.0h0M1488.1 446.9h0M1436.5 432.4h0M1460.4 427.6h0M1427.8 425.4h0M1444.6 426.1h0M1465.9 368.8h0M1439.6 424.4h0M1478.4 436.6h0M1441.3 454.0h0M1430.8 443.4h0M1460.5 427.1h0M1458.4 452.8h0M1469.4 449.9h0M1471.3 449.7h0M1450.6 437.0h0M1446.0 420.1h0M1448.4 392.8h0M1447.7 362.3h0M1461.3 437.9h0M1462.5 385.3h0M1468.5 442.1h0M1468.7 361.1h0M1466.9 426.8h0M1442.2 453.1h0M1483.2 424.3h0M1451.9 439.6h0M1463.4 414.3h0M1463.3 444.2h0M1466.7 440.2h0M1474.2 426.9h0M1461.9 401.2h0M1478.0 431.5h0M1462.2 422.8h0M1403.1 427.8h0M1432.5 444.1h0M1460.3 433.4h0M1457.5 440.4h0M1454.8 431.3h0M1435.5 433.1h0M1424.9 431.5h0M1415.9 439.7h0M1488.0 447.9h0M1464.1 366.0h0M1453.4 436.3h0M1475.9 446.5h0M1460.1 455.1h0M1469.7 437.6h0M1452.9 450.2h0M1474.5 432.8h0M1431.4 428.6h0M1466.9 355.6h0M1453.5 447.1h0M1452.7 433.4h0M1456.5 439.5h0M1456.3 437.1h0M1466.9 418.9h0M1496.3 431.2h0M1429.2 427.9h0M1462.1 410.9h0M1444.0 427.6h0M1471.6 452.2h0M1477.9 427.2h0M1513.2 429.8h0M1452.8 437.6h0M1470.4 430.2h0M1476.5 425.8h0M1481.7 448.6h0M1493.6 433.7h0M1452.7 424.6h0M1465.3 371.8h0M1453.3 428.6h0M1459.2 433.0h0M1447.5 399.7h0M1470.2 386.8h0M1463.9 392.9h0M1509.1 424.1h0M1440.0 426.8h0M1489.0 435.8h0M1439.6 439.2h0M1477.1 453.1h0M1442.1 434.5h0M1423.5 432.0h0M1497.2 431.8h0M1478.1 433.9h0M1471.5 454.8h0M1466.1 432.3h0M1465.8 395.6h0M1470.5 427.4h0M1476.4 426.1h0M1445.0 393.5h0M1460.8 431.3h0M1402.1 424.3h0M1423.9 431.4h0M1471.1 435.6h0M1457.7 452.3h0M1460.2 443.7h0M1419.3 433.0h0M1434.2 451.4h0M1482.1 428.2h0M1443.5 449.1h0M1469.1 411.2h0M1450.7 452.2h0M1457.3 434.4h0M1433.7 428.1h0M1429.4 445.1h0M1463.8 374.7h0M1468.8 409.1h0M1456.1 455.5h0M1474.4 428.6h0M1473.1 443.8h0M1486.2 437.2h0M1462.3 406.4h0M1464.4 415.6h0M1496.9 423.9h0M1431.9 433.4h0M1465.1 451.6h0M1474.3 442.7h0M1478.7 444.5h0M1481.2 432.4h0M1457.6 455.2h0M1476.4 427.8h0M1445.9 443.6h0M1509.0 423.8h0M1466.2 404.1h0M1454.5 442.8h0M1458.3 451.5h0M1462.8 436.5h0M1467.9 381.8h0M1439.3 445.8h0M1439.7 452.2h0M1439.7 445.7h0M1444.2 450.0h0M1423.2 437.4h0M1453.9 443.9h0M1458.9 448.4h0M1432.0 448.3h0M1436.3 450.4h0M1472.0 435.3h0M1502.0 438.5h0M1481.5 433.8h0M1439.0 425.0h0M1479.0 440.2h0M1494.7 436.4h0M1445.4 438.8h0M1472.1 438.2h0M1484.7 437.8h0M1467.9 427.2h0M1465.2 437.0h0M1446.4 407.7h0M1441.0 446.5h0M1426.3 432.2h0M1437.9 427.6h0M1453.6 433.6h0M1452.0 416.3h0M1492.8 426.9h0M1449.8 446.6h0M1438.4 430.4h0M1474.4 430.5h0M1426.0 441.6h0M1473.4 448.0h0M1472.3 429.8h0M1466.4 432.8h0M1448.6 442.6h0M1468.4 364.8h0M1448.1 364.3h0M1455.2 452.4h0M1408.0 423.9h0M1462.9 443.4h0M1465.4 360.6h0M1462.4 402.1h0M1481.6 429.5h0M1448.8 451.9h0M1474.8 454.0h0M1443.3 447.5h0M1458.4 448.9h0M1418.1 442.4h0M1446.2 374.8h0M1484.7 434.2h0M1455.7 446.2h0M1468.8 440.6h0M1478.3 424.3h0M1491.7 445.0h0M1429.4 429.0h0M1443.4 441.2h0M1472.5 427.1h0M1497.6 436.9h0M1407.2 426.3h0M1443.9 439.1h0M1465.2 448.3h0M1454.3 452.6h0M1455.0 433.2h0M1447.0 375.5h0M1458.5 438.7h0M1478.4 451.9h0M1480.8 448.4h0M1463.3 401.6h0M1421.3 441.8h0M1461.6 442.8h0M1453.7 439.7h0M1433.0 450.5h0M1436.6 430.0h0M1475.1 441.9h0M1460.8 426.2h0M1452.7 446.3h0M1438.7 452.0h0M1460.9 428.7h0M1453.4 431.9h0M1447.0 412.4h0M1474.5 446.6h0M1459.5 447.7h0M1416.9 435.3h0M1456.8 452.4h0M1452.9 440.2h0M1442.5 448.5h0M1473.1 427.9h0M1448.2 453.5h0M1471.4 447.4h0M1447.8 453.1h0M1455.1 445.7h0M1433.9 429.3h0M1463.4 399.4h0M1460.7 420.9h0M1439.2 438.4h0M1442.1 443.5h0M1454.5 435.6h0M1442.9 434.3h0M1435.8 449.7h0M1449.6 439.8h0M1471.0 433.5h0M1474.5 430.6h0M1482.3 444.5h0M1437.4 427.8h0M1446.0 430.4h0M1478.6 444.5h0M1456.1 447.5h0M1427.0 440.6h0M1494.2 436.5h0M1435.0 434.8h0M1441.3 448.6h0M1454.2 440.7h0M1455.3 446.9h0M1460.3 441.5h0M1471.3 441.3h0M1468.3 447.8h0M1446.6 455.1h0M1409.3 426.7h0M1461.9 440.9h0M1448.3 409.0h0M1459.7 431.6h0M1488.2 430.3h0M1482.3 426.1h0M1468.2 420.6h0M1463.0 374.7h0M1456.7 448.2h0M1435.9 440.8h0M1433.0 442.8h0M1472.4 439.2h0M1458.6 435.4h0M1473.6 441.6h0M1442.3 443.9h0M1447.4 435.9h0M1470.4 395.7h0M1423.7 446.0h0M1502.0 436.3h0M1439.9 445.1h0M1459.2 445.8h0M1516.1 425.3h0M1431.7 450.4h0M1456.4 451.2h0M1467.4 379.3h0M1445.6 377.3h0M1516.8 426.6h0M1446.0 412.3h0M1447.9 438.4h0M1455.7 438.9h0M1490.6 442.6h0M1486.1 427.8h0M1403.9 433.9h0M1470.6 449.1h0M1451.0 428.4h0M1486.1 445.4h0M1429.8 425.8h0M1462.6 451.6h0M1461.4 452.1h0M1477.0 451.5h0M1448.4 369.7h0M1472.1 441.5h0M1447.0 448.2h0M1445.2 412.9h0M1471.8 430.2h0M1470.3 390.7h0M1472.0 452.0h0M1471.1 408.3h0M1421.9 427.6h0M1468.7 359.5h0M1444.5 413.7h0M1464.6 445.7h0M1421.6 446.3h0M1458.3 444.8h0M1451.7 426.2h0M1436.3 428.5h0M1476.9 441.2h0M1454.5 443.4h0M1467.8 452.1h0M1472.1 451.1h0M1476.8 452.5h0M1462.0 417.8h0M1452.7 440.1h0M1470.0 430.6h0M1469.9 409.9h0M1458.0 452.2h0M1443.9 426.1h0M1441.6 445.5h0M1463.1 408.5h0M1453.7 449.6h0M1484.0 426.1h0M1473.9 436.6h0M1402.8 426.1h0M1477.9 431.8h0M1440.0 446.4h0M1466.0 407.4h0M1456.0 450.5h0M1452.0 413.0h0M1457.5 453.2h0M1457.2 446.4h0M1421.3 440.8h0M1443.1 453.4h0M1496.9 442.7h0M1401.5 428.9h0M1458.4 447.3h0M1450.6 427.8h0M1446.7 448.3h0M1507.9 429.9h0M1430.5 448.5h0M1446.7 367.6h0M1465.3 406.8h0M1448.9 418.9h0M1471.3 416.9h0M1486.4 438.4h0M1461.4 437.6h0M1460.4 433.2h0M1447.1 367.9h0M1460.0 454.2h0M1472.3 428.1h0M1466.3 379.3h0M1435.1 427.2h0M1463.7 399.7h0M1454.6 441.8h0M1443.7 448.6h0M1461.6 447.3h0M1440.8 432.7h0M1454.4 454.2h0M1481.6 431.6h0M1470.9 427.9h0M1447.3 412.3h0M1477.1 451.7h0M1471.2 431.1h0M1442.4 439.0h0M1432.0 444.3h0M1454.9 443.5h0M1473.4 425.6h0M1464.3 376.0h0M1498.7 441.3h0M1455.6 431.2h0M1445.3 409.7h0M1447.7 380.7h0M1440.6 426.4h0M1508.6 425.5h0M1424.7 437.1h0M1459.5 443.5h0M1437.4 444.9h0M1473.4 426.8h0M1408.7 437.0h0M1445.6 448.4h0M1473.2 427.0h0M1460.7 453.6h0M1442.1 449.9h0M1444.8 432.3h0M1467.2 375.8h0M1444.2 436.0h0M1487.8 430.7h0M1447.5 379.0h0M1476.0 443.3h0M1465.4 424.8h0M1462.1 441.7h0M1451.8 421.3h0M1430.5 450.8h0M1436.3 444.4h0M1442.7 451.4h0M1461.9 416.1h0M1473.9 438.3h0M1476.1 433.9h0M1492.1 433.5h0M1434.3 440.2h0M1470.0 388.2h0M1457.9 443.3h0M1449.2 454.1h0M1439.7 436.0h0M1448.3 447.2h0M1483.9 427.2h0M1417.6 438.9h0M1466.7 399.3h0M1472.9 454.5h0M1467.0 425.9h0M1412.6 437.7h0M1446.3 371.8h0M1470.4 399.9h0M1510.1 424.3h0M1429.6 433.2h0M1445.2 447.3h0M1476.2 424.4h0M1439.7 444.0h0M1465.5 370.1h0M1473.2 443.7h0M1447.5 396.0h0M1466.9 373.9h0M1454.5 440.2h0M1455.9 431.5h0M1443.8 409.7h0M1414.3 434.2h0M1471.0 417.4h0M1421.8 443.6h0M1485.8 425.0h0M1423.0 430.9h0M1473.3 451.6h0M1507.0 429.3h0M1455.5 451.2h0M1504.7 435.4h0M1495.3 436.6h0M1412.2 438.5h0M1450.5 437.5h0M1462.1 449.1h0M1465.2 455.5h0M1469.3 414.8h0M1462.5 411.3h0M1446.4 404.7h0M1470.5 452.1h0M1443.5 430.4h0M1458.9 440.1h0M1455.9 440.3h0M1453.9 456.4h0M1482.1 443.2h0M1477.8 441.1h0M1415.7 430.6h0M1452.8 433.8h0M1474.6 445.4h0M1453.0 431.9h0M1509.8 433.5h0M1486.1 434.5h0M1444.0 428.9h0M1473.8 443.7h0M1447.5 371.9h0M1473.7 423.7h0M1463.5 429.6h0M1439.3 429.7h0M1460.3 432.5h0M1471.5 450.5h0M1420.6 436.3h0M1438.3 424.3h0M1457.6 446.1h0M1453.2 439.5h0M1480.4 431.2h0M1398.0 424.0h0M1479.4 449.8h0M1446.5 451.8h0M1486.4 444.0h0M1431.5 443.8h0M1466.8 390.2h0M1474.7 440.7h0M1470.9 417.7h0M1443.2 441.5h0M1451.3 442.0h0M1458.3 439.2h0M1447.2 388.0h0M1444.9 451.2h0M1464.6 345.5h0M1450.3 436.8h0M1441.7 453.0h0M1443.4 453.5h0M1462.7 390.9h0M1457.4 448.7h0M1485.6 424.1h0M1478.6 452.3h0M1444.9 388.4h0M1493.8 427.5h0M1457.6 453.2h0M1419.8 437.3h0M1485.9 447.5h0M1454.1 455.4h0M1445.7 402.7h0M1489.7 447.2h0M1443.6 416.7h0M1480.4 431.2h0M1446.0 416.0h0M1471.2 415.1h0M1472.1 436.7h0M1486.4 442.3h0M1475.3 444.1h0M1473.9 446.8h0M1461.5 419.9h0M1469.2 374.3h0M1468.3 364.7h0M1461.3 412.9h0M1451.2 429.6h0M1487.6 424.6h0M1470.2 425.4h0M1446.8 374.0h0M1455.7 447.3h0M1446.1 429.2h0M1468.0 353.6h0M1513.1 424.4h0M1453.6 436.4h0M1459.4 446.7h0M1432.7 442.8h0M1446.6 418.0h0M1457.2 432.9h0M1462.2 440.0h0M1430.4 434.3h0M1445.9 374.9h0M1447.3 400.8h0M1494.1 424.7h0M1460.5 448.0h0M1451.7 442.0h0M1474.2 449.2h0M1473.2 449.1h0M1465.5 435.2h0M1458.2 448.7h0M1456.6 455.3h0M1482.1 425.4h0M1478.6 445.5h0M1448.8 453.4h0M1494.4 436.1h0M1474.6 428.8h0M1474.2 442.4h0M1482.9 446.9h0M1468.6 363.8h0M1421.7 439.8h0M1485.3 431.6h0M1414.9 442.4h0M1441.6 445.7h0M1507.4 428.0h0M1449.5 421.4h0M1467.8 437.3h0M1460.8 455.4h0M1474.4 433.6h0M1469.4 430.2h0M1423.3 428.3h0M1505.1 431.9h0M1432.5 438.7h0M1463.0 419.3h0M1479.4 441.1h0M1462.4 386.9h0M1461.7 426.6h0M1458.6 439.5h0M1465.9 419.4h0M1483.9 432.9h0M1447.4 447.2h0M1455.3 455.6h0M1408.5 430.2h0M1431.5 445.3h0M1455.8 455.2h0M1480.5 445.6h0M1462.9 436.5h0M1455.8 443.8h0M1464.4 405.0h0M1467.0 360.8h0M1477.4 449.9h0M1456.8 435.3h0M1417.5 424.9h0M1442.1 454.1h0M1464.8 436.9h0M1462.7 413.1h0M1449.3 380.9h0M1464.0 430.9h0M1465.8 423.0h0M1462.7 445.3h0M1467.7 388.0h0M1481.7 448.2h0M1439.8 440.2h0M1482.4 436.9h0M1437.4 444.1h0M1477.3 443.7h0M1471.2 410.4h0M1449.1 392.5h0M1445.7 381.5h0M1452.0 419.5h0M1476.4 440.3h0M1466.5 378.4h0M1406.0 430.9h0M1433.7 432.3h0M1471.0 407.4h0M1452.5 415.9h0M1455.2 434.9h0M1446.0 390.1h0M1453.2 438.6h0M1446.6 378.1h0M1484.1 430.9h0M1417.4 427.3h0M1459.4 455.8h0M1437.3 447.5h0M1460.7 440.2h0M1470.0 392.1h0M1449.5 387.2h0M1487.7 428.1h0M1481.7 441.6h0M1459.7 437.9h0M1458.7 433.6h0M1452.9 453.1h0M1441.8 431.7h0M1474.5 429.6h0M1452.4 418.5h0M1429.4 433.3h0M1459.3 433.4h0M1436.8 431.8h0M1494.1 443.3h0M1463.2 409.4h0M1459.3 443.6h0M1449.0 363.9h0M1488.8 447.3h0M1423.8 424.6h0M1446.7 376.4h0M1498.8 427.0h0M1433.0 435.0h0M1442.5 429.4h0M1460.7 451.4h0M1481.1 434.2h0M1448.4 392.2h0M1456.6 435.8h0M1431.7 451.0h0M1468.8 447.2h0M1502.1 436.6h0M1442.8 429.2h0M1461.5 437.9h0M1489.9 442.4h0M1434.3 440.0h0M1462.4 409.0h0M1443.1 438.7h0M1466.8 455.5h0M1455.6 436.0h0M1469.7 383.7h0M1504.0 434.5h0M1464.5 348.4h0M1462.3 405.5h0M1465.5 430.3h0M1468.3 420.7h0M1461.8 444.9h0M1469.2 418.1h0M1454.4 429.4h0M1483.8 428.6h0M1482.6 431.0h0M1441.1 425.3h0M1452.7 449.6h0M1456.5 456.1h0M1464.1 438.0h0M1486.9 425.8h0M1473.0 452.1h0M1482.6 436.3h0M1456.8 455.0h0M1465.6 354.2h0M1444.9 445.8h0M1465.4 412.6h0M1464.4 391.0h0M1477.2 444.9h0M1458.9 431.5h0M1436.4 437.1h0M1486.0 436.0h0M1455.8 438.0h0M1439.8 446.6h0M1451.5 436.6h0M1458.6 431.3h0M1457.0 436.7h0M1443.1 433.7h0M1462.5 432.9h0M1468.1 444.9h0M1403.8 432.0h0M1460.0 448.9h0M1459.5 429.3h0M1411.4 429.7h0M1476.3 448.5h0M1492.6 430.3h0M1457.7 453.9h0M1402.1 424.8h0M1480.5 448.1h0M1465.1 413.9h0M1445.1 418.8h0M1443.7 445.7h0M1448.2 396.2h0M1469.1 438.0h0M1446.2 453.3h0M1462.2 396.7h0M1482.7 437.6h0M1466.9 417.7h0M1458.6 432.2h0M1465.6 445.1h0M1492.0 438.1h0M1451.5 448.4h0M1483.0 430.5h0M1472.0 441.1h0M1469.2 440.1h0M1452.2 418.5h0M1449.0 381.1h0M1446.8 417.1h0M1429.3 430.5h0M1458.6 437.6h0M1446.0 387.5h0M1464.1 441.4h0M1474.6 439.7h0M1482.0 445.0h0M1492.5 444.6h0M1448.6 415.2h0M1449.7 387.7h0M1447.2 394.7h0M1448.3 401.7h0M1450.6 397.5h0M1451.3 429.7h0M1445.9 406.5h0M1451.2 427.9h0M1448.1 379.8h0M1447.1 372.5h0M1446.6 366.9h0M1448.9 380.8h0M1442.3 429.2h0M1450.3 413.6h0M1446.3 406.8h0M1449.9 419.7h0M1450.6 383.5h0M1445.3 394.0h0M1449.3 377.9h0M1447.4 373.0h0M1448.8 415.5h0M1447.0 415.0h0M1447.6 402.9h0M1450.0 400.1h0M1446.9 364.7h0M1447.6 365.1h0M1447.9 367.9h0M1449.5 381.9h0M1451.8 415.0h0M1448.8 425.0h0M1446.7 367.2h0M1447.3 392.1h0M1446.7 413.6h0M1446.3 429.4h0M1445.8 400.0h0M1445.3 402.2h0M1443.7 411.3h0M1449.2 421.4h0M1448.0 407.8h0M1447.7 415.7h0M1446.4 427.7h0M1445.6 424.3h0M1445.1 410.4h0M1448.0 398.9h0M1445.8 387.6h0M1451.1 425.5h0M1449.9 386.0h0M1450.4 394.6h0M1447.8 378.0h0M1450.5 413.8h0M1447.1 428.4h0M1449.9 376.5h0M1449.4 421.1h0M1447.0 380.9h0M1448.5 391.3h0M1442.8 423.0h0M1466.2 356.5h0M1468.5 394.9h0M1465.4 337.3h0M1467.3 353.3h0M1466.5 397.2h0M1466.7 376.3h0M1465.9 362.7h0M1468.4 420.7h0M1466.7 376.5h0M1468.6 369.0h0M1464.0 384.7h0M1463.6 422.6h0M1464.2 356.7h0M1464.9 400.0h0M1464.1 415.2h0M1467.9 390.9h0M1463.3 408.3h0M1463.6 380.0h0M1467.9 420.3h0M1466.0 405.7h0M1468.1 373.0h0M1467.4 400.8h0M1469.5 420.4h0M1465.7 395.0h0M1464.1 397.5h0M1465.9 422.3h0M1464.8 359.4h0M1466.2 368.3h0M1464.9 356.6h0M1462.6 410.1h0M1465.4 395.4h0M1467.0 403.6h0M1464.7 418.0h0M1465.4 359.0h0M1466.5 409.6h0M1465.6 382.5h0M1465.7 349.8h0M1468.4 407.2h0M1465.1 346.2h0M1465.4 428.7h0M1466.5 353.2h0M1467.6 356.9h0M1465.9 405.8h0M1464.5 402.9h0M1464.0 412.5h0M1462.6 388.7h0M1465.9 357.3h0M1464.8 410.9h0M1466.2 408.9h0M1464.2 374.2h0M1467.1 342.0h0M1467.0 344.1h0M1465.6 416.8h0M1463.3 406.1h0" stroke="#b2b2b2" stroke-width="1.2" stroke-linecap="square" fill="none"/>
<path d="M1395.5 394.6h0M1408.9 398.2h0M1393.3 415.2h0M1397.0 416.5h0M1415.6 421.2h0M1421.5 414.0h0M1423.0 417.8h0M1423.7 420.4h0M1425.2 421.7h0M1426.0 422.2h0M1430.4 410.6h0M1434.9 415.2h0M1433.4 421.2h0M1437.1 421.7h0M1440.1 410.1h0M1441.1 409.6h0M1422.2 416.5h0M1424.5 419.1h0M1435.6 417.8h0M1394.8 415.8h0" stroke="#0000FF" stroke-width="1.4" stroke-linecap="round" fill="none"/>
<path d="M1472.7 343.1h0M1533.5 341.3h0M1483.8 363.7h0M1502.4 362.4h0M1522.1 361.1h0M1472.7 372.2h0M1480.9 388.2h0M1484.6 390.8h0M1496.0 393.3h0M1524.6 391.5h0M1472.7 396.7h0M1514.2 399.8h0M1476.4 404.9h0M1474.2 408.8h0M1473.4 410.1h0M1485.3 410.6h0M1498.7 406.7h0M1477.9 414.0h0M1476.4 416.5h0M1475.7 419.1h0M1479.4 419.9h0M1486.8 415.2h0M1495.7 419.9h0M1483.1 422.2h0M1491.2 422.2h0M1516.5 422.2h0M1523.2 421.4h0M1546.9 417.8h0M1546.9 422.2h0M1480.9 387.7h0" stroke="#FF0000" stroke-width="1.4" stroke-linecap="round" fill="none"/>
<path d="M1387.0 423.0H1555.8" stroke="#aaa" stroke-width="0.5" stroke-dasharray="0.8 1" fill="none"/>
<rect x="1471.3" y="319.4" width="76.8" height="104.3" fill="none" stroke="#111" stroke-width="1.0"/>
<path d="M1387.0 298.0V460.3H1555.8" stroke="#888" stroke-width="0.6" fill="none"/>
<text x="1384.5" y="458.8" font-size="6.6" text-anchor="end" fill="#222" stroke="#222" stroke-width="0.14">0</text>
<text x="1384.5" y="433.0" font-size="6.6" text-anchor="end" fill="#222" stroke="#222" stroke-width="0.14">1</text>
<text x="1384.5" y="407.2" font-size="6.6" text-anchor="end" fill="#222" stroke="#222" stroke-width="0.14">2</text>
<text x="1384.5" y="381.5" font-size="6.6" text-anchor="end" fill="#222" stroke="#222" stroke-width="0.14">3</text>
<text x="1384.5" y="355.7" font-size="6.6" text-anchor="end" fill="#222" stroke="#222" stroke-width="0.14">4</text>
<text x="1384.5" y="330.0" font-size="6.6" text-anchor="end" fill="#222" stroke="#222" stroke-width="0.14">5</text>
<text x="1384.5" y="304.2" font-size="6.6" text-anchor="end" fill="#222" stroke="#222" stroke-width="0.14">6</text>
<text x="1397.8" y="466.9" font-size="5.4" text-anchor="middle" fill="#222" stroke="#222" stroke-width="0.14">-4</text>
<text x="1427.4" y="466.9" font-size="5.4" text-anchor="middle" fill="#222" stroke="#222" stroke-width="0.14">-2</text>
<text x="1457.1" y="466.9" font-size="5.4" text-anchor="middle" fill="#222" stroke="#222" stroke-width="0.14">0</text>
<text x="1486.8" y="466.9" font-size="5.4" text-anchor="middle" fill="#222" stroke="#222" stroke-width="0.14">2</text>
<text x="1516.5" y="466.9" font-size="5.4" text-anchor="middle" fill="#222" stroke="#222" stroke-width="0.14">4</text>
<text x="1546.2" y="466.9" font-size="5.4" text-anchor="middle" fill="#222" stroke="#222" stroke-width="0.14">6</text>
<path d="M1387.0 456.5h-1.6M1387.0 430.7h-1.6M1387.0 404.9h-1.6M1387.0 379.2h-1.6M1387.0 353.4h-1.6M1387.0 327.7h-1.6M1387.0 301.9h-1.6M1397.8 460.3v1.4M1427.4 460.3v1.4M1457.1 460.3v1.4M1486.8 460.3v1.4M1516.5 460.3v1.4M1546.2 460.3v1.4" stroke="#555" stroke-width="0.5" fill="none"/>
<text x="1464.8" y="302.4" font-size="13.6" text-anchor="middle" font-weight="bold">b</text>
<text x="1466.1" y="314.3" font-size="7.1" text-anchor="middle" stroke="#000" stroke-width="0.14">E21_eCON vs. E21_eCCAB</text>
<text x="1470.8" y="478.6" font-size="6.85" text-anchor="middle" stroke="#000" stroke-width="0.14">log2(fold change)</text>
<text font-size="6.2" text-anchor="middle" fill="#111" transform="translate(1368.5 383.0) scale(-1 1) rotate(-90)">-log10(Padj)</text>
</g>
<g id="pcac">
<ellipse cx="1681.8" cy="322.5" rx="85.9" ry="17.6" transform="rotate(3 1681.8 322.5)" fill="#E64B35" fill-opacity="0.2" stroke="#E64B35" stroke-opacity="0.8" stroke-width="0.35"/>
<ellipse cx="1681.0" cy="395.0" rx="80.2" ry="14.2" transform="rotate(46.7 1681.0 395.0)" fill="#00A087" fill-opacity="0.2" stroke="#00A087" stroke-opacity="0.8" stroke-width="0.35"/>
<ellipse cx="1664.3" cy="390.5" rx="26.1" ry="33.5" transform="rotate(0 1664.3 390.5)" fill="#3C5488" fill-opacity="0.2" stroke="#3C5488" stroke-opacity="0.8" stroke-width="0.35"/>
<ellipse cx="1661.4" cy="321.0" rx="9.1" ry="19.3" transform="rotate(-5 1661.4 321.0)" fill="#4DBBD5" fill-opacity="0.25" stroke="#4DBBD5" stroke-opacity="0.8" stroke-width="0.35"/>
<clipPath id="ov5"><ellipse cx="1681.8" cy="322.5" rx="85.9" ry="17.6" transform="rotate(3 1681.8 322.5)"/></clipPath><g clip-path="url(#ov5)"><ellipse cx="1661.4" cy="321.0" rx="9.1" ry="19.3" transform="rotate(-5 1661.4 321.0)" fill="#dadada" fill-opacity="0.7"/></g>
<rect x="1700.8" y="309.6" width="2.4" height="2.4" fill="#E64B35"/>
<rect x="1707.9" y="324.4" width="2.4" height="2.4" fill="#E64B35"/>
<rect x="1717.8" y="328.9" width="2.4" height="2.4" fill="#E64B35"/>
<rect x="1656.0" y="321.5" width="2.4" height="2.4" fill="#E64B35"/>
<rect x="1659.9" y="324.7" width="2.4" height="2.4" fill="#E64B35"/>
<rect x="1656.6" y="308.0" width="2.3" height="2.3" fill="#4DBBD5"/>
<rect x="1661.4" y="317.0" width="2.3" height="2.3" fill="#4DBBD5"/>
<rect x="1663.7" y="319.3" width="2.3" height="2.3" fill="#4DBBD5"/>
<rect x="1658.9" y="326.4" width="2.3" height="2.3" fill="#4DBBD5"/>
<rect x="1662.3" y="325.6" width="2.3" height="2.3" fill="#4DBBD5"/>
<rect x="1659.9" y="364.3" width="2.4" height="2.4" fill="#00A087"/>
<rect x="1661.4" y="374.3" width="2.4" height="2.4" fill="#00A087"/>
<rect x="1677.0" y="398.4" width="2.4" height="2.4" fill="#00A087"/>
<rect x="1678.4" y="397.0" width="2.4" height="2.4" fill="#00A087"/>
<rect x="1695.7" y="406.0" width="2.4" height="2.4" fill="#00A087"/>
<rect x="1705.9" y="417.9" width="2.4" height="2.4" fill="#00A087"/>
<rect x="1653.2" y="379.7" width="2.3" height="2.3" fill="#3C5488"/>
<rect x="1657.2" y="381.7" width="2.3" height="2.3" fill="#3C5488"/>
<rect x="1679.3" y="376.9" width="2.3" height="2.3" fill="#3C5488"/>
<rect x="1666.2" y="389.6" width="2.3" height="2.3" fill="#3C5488"/>
<rect x="1658.9" y="401.8" width="2.3" height="2.3" fill="#3C5488"/>
<rect x="1668.5" y="403.0" width="2.3" height="2.3" fill="#3C5488"/>
<rect x="1588.8" y="295.0" width="187.4" height="166.4" fill="none" stroke="#888" stroke-width="0.5"/>
<text x="1586.6" y="304.6" font-size="5.2" text-anchor="end" fill="#444" font-family="'Liberation Serif',serif" stroke="none">0.3</text>
<text x="1586.6" y="322.8" font-size="5.2" text-anchor="end" fill="#444" font-family="'Liberation Serif',serif" stroke="none">0.2</text>
<text x="1586.6" y="341.1" font-size="5.2" text-anchor="end" fill="#444" font-family="'Liberation Serif',serif" stroke="none">0.1</text>
<text x="1586.6" y="359.3" font-size="5.2" text-anchor="end" fill="#444" font-family="'Liberation Serif',serif" stroke="none">0.0</text>
<text x="1586.6" y="377.5" font-size="5.2" text-anchor="end" fill="#444" font-family="'Liberation Serif',serif" stroke="none">-0.1</text>
<text x="1586.6" y="395.7" font-size="5.2" text-anchor="end" fill="#444" font-family="'Liberation Serif',serif" stroke="none">-0.2</text>
<text x="1586.6" y="414.0" font-size="5.2" text-anchor="end" fill="#444" font-family="'Liberation Serif',serif" stroke="none">-0.3</text>
<text x="1586.6" y="432.2" font-size="5.2" text-anchor="end" fill="#444" font-family="'Liberation Serif',serif" stroke="none">-0.4</text>
<text x="1586.6" y="450.4" font-size="5.2" text-anchor="end" fill="#444" font-family="'Liberation Serif',serif" stroke="none">-0.5</text>
<text x="1591.1" y="467.4" font-size="5.2" text-anchor="middle" fill="#444" font-family="'Liberation Serif',serif" stroke="none">0.08</text>
<text x="1604.6" y="467.4" font-size="5.2" text-anchor="middle" fill="#444" font-family="'Liberation Serif',serif" stroke="none">0.10</text>
<text x="1618.0" y="467.4" font-size="5.2" text-anchor="middle" fill="#444" font-family="'Liberation Serif',serif" stroke="none">0.12</text>
<text x="1631.5" y="467.4" font-size="5.2" text-anchor="middle" fill="#444" font-family="'Liberation Serif',serif" stroke="none">0.14</text>
<text x="1644.9" y="467.4" font-size="5.2" text-anchor="middle" fill="#444" font-family="'Liberation Serif',serif" stroke="none">0.16</text>
<text x="1658.4" y="467.4" font-size="5.2" text-anchor="middle" fill="#444" font-family="'Liberation Serif',serif" stroke="none">0.18</text>
<text x="1671.8" y="467.4" font-size="5.2" text-anchor="middle" fill="#444" font-family="'Liberation Serif',serif" stroke="none">0.20</text>
<text x="1685.3" y="467.4" font-size="5.2" text-anchor="middle" fill="#444" font-family="'Liberation Serif',serif" stroke="none">0.22</text>
<text x="1698.7" y="467.4" font-size="5.2" text-anchor="middle" fill="#444" font-family="'Liberation Serif',serif" stroke="none">0.24</text>
<text x="1712.2" y="467.4" font-size="5.2" text-anchor="middle" fill="#444" font-family="'Liberation Serif',serif" stroke="none">0.26</text>
<text x="1725.6" y="467.4" font-size="5.2" text-anchor="middle" fill="#444" font-family="'Liberation Serif',serif" stroke="none">0.28</text>
<text x="1739.1" y="467.4" font-size="5.2" text-anchor="middle" fill="#444" font-family="'Liberation Serif',serif" stroke="none">0.30</text>
<text x="1752.6" y="467.4" font-size="5.2" text-anchor="middle" fill="#444" font-family="'Liberation Serif',serif" stroke="none">0.32</text>
<text x="1766.0" y="467.4" font-size="5.2" text-anchor="middle" fill="#444" font-family="'Liberation Serif',serif" stroke="none">0.34</text>
<path d="M1588.8 302.9h-1.3M1588.8 321.1h-1.3M1588.8 339.4h-1.3M1588.8 357.6h-1.3M1588.8 375.8h-1.3M1588.8 394.0h-1.3M1588.8 412.3h-1.3M1588.8 430.5h-1.3M1588.8 448.7h-1.3M1591.1 461.4v1.3M1604.6 461.4v1.3M1618.0 461.4v1.3M1631.5 461.4v1.3M1644.9 461.4v1.3M1658.4 461.4v1.3M1671.8 461.4v1.3M1685.3 461.4v1.3M1698.7 461.4v1.3M1712.2 461.4v1.3M1725.6 461.4v1.3M1739.1 461.4v1.3M1752.6 461.4v1.3M1766.0 461.4v1.3" stroke="#555" stroke-width="0.4" fill="none"/>
<rect x="1592.1" y="433.5" width="3.6" height="3.6" fill="#E64B35"/>
<text x="1598.8" y="437.0" font-size="5.3" fill="#444" font-family="'Liberation Serif',serif" stroke="none">E15eCON</text>
<rect x="1592.1" y="439.8" width="3.6" height="3.6" fill="#4DBBD5"/>
<text x="1598.8" y="443.3" font-size="5.3" fill="#444" font-family="'Liberation Serif',serif" stroke="none">E15eCCAB</text>
<rect x="1592.1" y="446.1" width="3.6" height="3.6" fill="#00A087"/>
<text x="1598.8" y="449.6" font-size="5.3" fill="#444" font-family="'Liberation Serif',serif" stroke="none">E21eCON</text>
<rect x="1592.1" y="452.5" width="3.6" height="3.6" fill="#3C5488"/>
<text x="1598.8" y="456.0" font-size="5.3" fill="#444" font-family="'Liberation Serif',serif" stroke="none">E21eCCAB</text>
<text x="1563.9" y="378.3" font-size="4.6" text-anchor="middle" fill="#222" transform="rotate(-90 1563.9 378.3)" font-family="'Liberation Serif',serif" stroke="#222" stroke-width="0.14">PC2 [1.6%]</text>
<text x="1681.8" y="481.2" font-size="4.6" text-anchor="middle" fill="#222" font-family="'Liberation Serif',serif" stroke="#222" stroke-width="0.14">PC1 [93.6%]</text>
<text x="1676.7" y="286.4" font-size="13.6" text-anchor="middle" font-weight="bold">c</text>
</g>
<g id="links">
<path d="M1775.8 141.8L1548.1 319.4" stroke="#111" stroke-width="0.6" fill="none"/>
<path d="M1227.5 426.4L1209.2 485.2" stroke="#111" stroke-width="0.7" stroke-dasharray="2.2 1.6" fill="none"/>
</g>
</svg>
</body></html>
